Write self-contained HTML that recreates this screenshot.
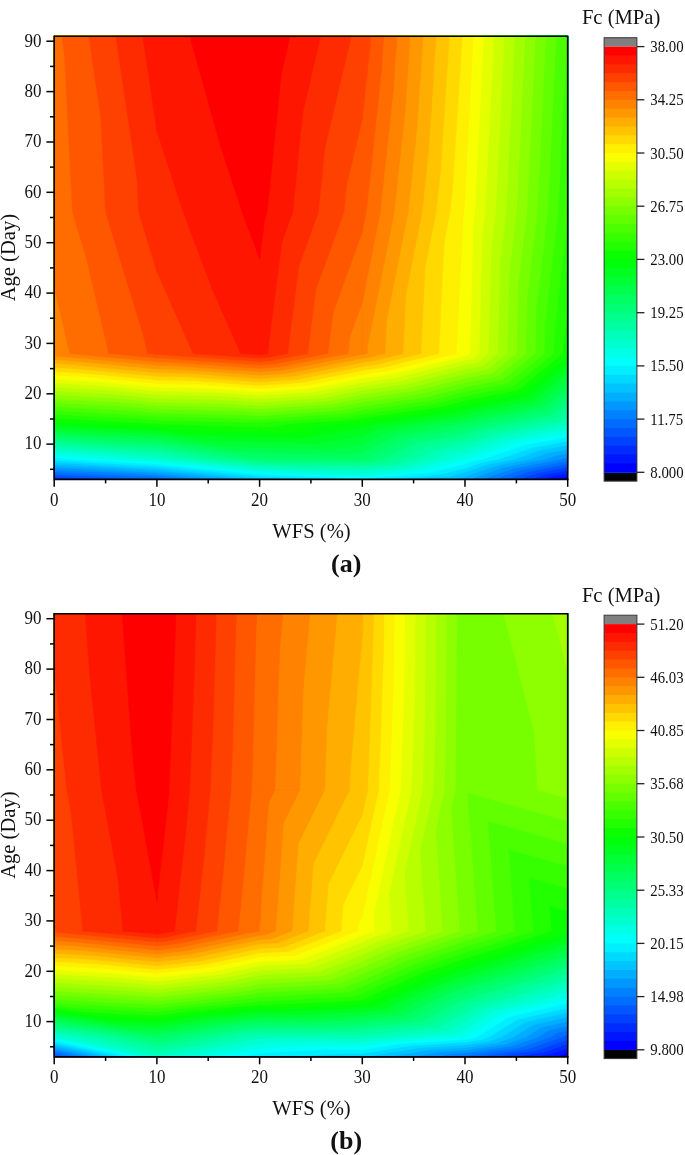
<!DOCTYPE html>
<html><head><meta charset="utf-8"><style>
html,body{margin:0;padding:0;background:#fff;}
svg{display:block;will-change:transform;}
text{font-family:"Liberation Serif",serif;fill:#111;}
.tk{font-size:17px;}
.cb{font-size:14.8px;}
.ti{font-size:20.6px;}
.cap{font-size:26px;font-weight:bold;}
</style></head><body>
<svg width="685" height="1155" viewBox="0 0 685 1155">
<rect width="685" height="1155" fill="#fff"/>
<rect x="54.2" y="36.2" width="513.5" height="443.2" fill="#0000ff"/>
<path fill="#0016ff" stroke="#0016ff" stroke-width="0.4" d="M54.2 479.4L156.9 479.4L54.2 459.3ZM156.9 479.4L156.9 459.3L54.2 459.3ZM156.9 479.4L259.6 479.4L156.9 459.3ZM259.6 479.4L259.6 459.3L156.9 459.3ZM259.6 479.4L362.3 479.4L259.6 459.3ZM362.3 479.4L362.3 459.3L259.6 459.3ZM362.3 479.4L465.0 479.4L362.3 459.3ZM465.0 479.4L465.0 459.3L362.3 459.3ZM465.0 479.4L555.4 479.4L559.9 477.9L465.0 459.3ZM567.7 476.3L567.7 459.3L465.0 459.3L559.9 477.9ZM54.2 459.3L156.9 459.3L54.2 424.0ZM156.9 459.3L156.9 424.0L54.2 424.0ZM156.9 459.3L259.6 459.3L156.9 424.0ZM259.6 459.3L259.6 424.0L156.9 424.0ZM259.6 459.3L362.3 459.3L259.6 424.0ZM362.3 459.3L362.3 424.0L259.6 424.0ZM362.3 459.3L465.0 459.3L362.3 424.0ZM465.0 459.3L465.0 424.0L362.3 424.0ZM465.0 459.3L567.7 459.3L465.0 424.0ZM567.7 459.3L567.7 424.0L465.0 424.0ZM54.2 424.0L156.9 424.0L54.2 353.5ZM156.9 424.0L156.9 353.5L54.2 353.5ZM156.9 424.0L259.6 424.0L156.9 353.5ZM259.6 424.0L259.6 353.5L156.9 353.5ZM259.6 424.0L362.3 424.0L259.6 353.5ZM362.3 424.0L362.3 353.5L259.6 353.5ZM362.3 424.0L465.0 424.0L362.3 353.5ZM465.0 424.0L465.0 353.5L362.3 353.5ZM465.0 424.0L567.7 424.0L465.0 353.5ZM567.7 424.0L567.7 353.5L465.0 353.5ZM54.2 353.5L156.9 353.5L54.2 212.5ZM156.9 353.5L156.9 212.5L54.2 212.5ZM156.9 353.5L259.6 353.5L156.9 212.5ZM259.6 353.5L259.6 212.5L156.9 212.5ZM259.6 353.5L362.3 353.5L259.6 212.5ZM362.3 353.5L362.3 212.5L259.6 212.5ZM362.3 353.5L465.0 353.5L465.0 212.5ZM362.3 353.5L465.0 212.5L362.3 212.5ZM465.0 353.5L567.7 353.5L465.0 212.5ZM567.7 353.5L567.7 212.5L465.0 212.5ZM54.2 212.5L156.9 212.5L54.2 36.2ZM156.9 212.5L156.9 36.2L54.2 36.2ZM156.9 212.5L259.6 212.5L156.9 36.2ZM259.6 212.5L259.6 36.2L156.9 36.2ZM259.6 212.5L362.3 212.5L259.6 36.2ZM362.3 212.5L362.3 36.2L259.6 36.2ZM362.3 212.5L465.0 212.5L362.3 36.2ZM465.0 212.5L465.0 36.2L362.3 36.2ZM465.0 212.5L567.7 212.5L465.0 36.2ZM567.7 212.5L567.7 36.2L465.0 36.2Z"/>
<path fill="#002bff" stroke="#002bff" stroke-width="0.4" d="M54.2 479.4L156.9 479.4L54.2 459.3ZM156.9 479.4L156.9 459.3L54.2 459.3ZM156.9 479.4L259.6 479.4L156.9 459.3ZM259.6 479.4L259.6 459.3L156.9 459.3ZM259.6 479.4L362.3 479.4L259.6 459.3ZM362.3 479.4L362.3 459.3L259.6 459.3ZM362.3 479.4L465.0 479.4L362.3 459.3ZM465.0 479.4L465.0 459.3L362.3 459.3ZM465.0 479.4L543.0 479.4L552.0 476.3L465.0 459.3ZM567.7 473.3L567.7 459.3L465.0 459.3L552.0 476.3ZM54.2 459.3L156.9 459.3L54.2 424.0ZM156.9 459.3L156.9 424.0L54.2 424.0ZM156.9 459.3L259.6 459.3L156.9 424.0ZM259.6 459.3L259.6 424.0L156.9 424.0ZM259.6 459.3L362.3 459.3L259.6 424.0ZM362.3 459.3L362.3 424.0L259.6 424.0ZM362.3 459.3L465.0 459.3L362.3 424.0ZM465.0 459.3L465.0 424.0L362.3 424.0ZM465.0 459.3L567.7 459.3L465.0 424.0ZM567.7 459.3L567.7 424.0L465.0 424.0ZM54.2 424.0L156.9 424.0L54.2 353.5ZM156.9 424.0L156.9 353.5L54.2 353.5ZM156.9 424.0L259.6 424.0L156.9 353.5ZM259.6 424.0L259.6 353.5L156.9 353.5ZM259.6 424.0L362.3 424.0L259.6 353.5ZM362.3 424.0L362.3 353.5L259.6 353.5ZM362.3 424.0L465.0 424.0L362.3 353.5ZM465.0 424.0L465.0 353.5L362.3 353.5ZM465.0 424.0L567.7 424.0L465.0 353.5ZM567.7 424.0L567.7 353.5L465.0 353.5ZM54.2 353.5L156.9 353.5L54.2 212.5ZM156.9 353.5L156.9 212.5L54.2 212.5ZM156.9 353.5L259.6 353.5L156.9 212.5ZM259.6 353.5L259.6 212.5L156.9 212.5ZM259.6 353.5L362.3 353.5L259.6 212.5ZM362.3 353.5L362.3 212.5L259.6 212.5ZM362.3 353.5L465.0 353.5L465.0 212.5ZM362.3 353.5L465.0 212.5L362.3 212.5ZM465.0 353.5L567.7 353.5L465.0 212.5ZM567.7 353.5L567.7 212.5L465.0 212.5ZM54.2 212.5L156.9 212.5L54.2 36.2ZM156.9 212.5L156.9 36.2L54.2 36.2ZM156.9 212.5L259.6 212.5L156.9 36.2ZM259.6 212.5L259.6 36.2L156.9 36.2ZM259.6 212.5L362.3 212.5L259.6 36.2ZM362.3 212.5L362.3 36.2L259.6 36.2ZM362.3 212.5L465.0 212.5L362.3 36.2ZM465.0 212.5L465.0 36.2L362.3 36.2ZM465.0 212.5L567.7 212.5L465.0 36.2ZM567.7 212.5L567.7 36.2L465.0 36.2Z"/>
<path fill="#0041ff" stroke="#0041ff" stroke-width="0.4" d="M60.1 479.4L156.9 479.4L54.2 459.3L54.2 479.1ZM156.9 479.4L156.9 459.3L54.2 459.3ZM156.9 479.4L259.6 479.4L156.9 459.3ZM259.6 479.4L259.6 459.3L156.9 459.3ZM259.6 479.4L362.3 479.4L259.6 459.3ZM362.3 479.4L362.3 459.3L259.6 459.3ZM362.3 479.4L465.0 479.4L362.3 459.3ZM465.0 479.4L465.0 459.3L362.3 459.3ZM465.0 479.4L530.7 479.4L544.2 474.8L465.0 459.3ZM567.7 470.2L567.7 459.3L465.0 459.3L544.2 474.8ZM54.2 459.3L156.9 459.3L54.2 424.0ZM156.9 459.3L156.9 424.0L54.2 424.0ZM156.9 459.3L259.6 459.3L156.9 424.0ZM259.6 459.3L259.6 424.0L156.9 424.0ZM259.6 459.3L362.3 459.3L259.6 424.0ZM362.3 459.3L362.3 424.0L259.6 424.0ZM362.3 459.3L465.0 459.3L362.3 424.0ZM465.0 459.3L465.0 424.0L362.3 424.0ZM465.0 459.3L567.7 459.3L465.0 424.0ZM567.7 459.3L567.7 424.0L465.0 424.0ZM54.2 424.0L156.9 424.0L54.2 353.5ZM156.9 424.0L156.9 353.5L54.2 353.5ZM156.9 424.0L259.6 424.0L156.9 353.5ZM259.6 424.0L259.6 353.5L156.9 353.5ZM259.6 424.0L362.3 424.0L259.6 353.5ZM362.3 424.0L362.3 353.5L259.6 353.5ZM362.3 424.0L465.0 424.0L362.3 353.5ZM465.0 424.0L465.0 353.5L362.3 353.5ZM465.0 424.0L567.7 424.0L465.0 353.5ZM567.7 424.0L567.7 353.5L465.0 353.5ZM54.2 353.5L156.9 353.5L54.2 212.5ZM156.9 353.5L156.9 212.5L54.2 212.5ZM156.9 353.5L259.6 353.5L156.9 212.5ZM259.6 353.5L259.6 212.5L156.9 212.5ZM259.6 353.5L362.3 353.5L259.6 212.5ZM362.3 353.5L362.3 212.5L259.6 212.5ZM362.3 353.5L465.0 353.5L465.0 212.5ZM362.3 353.5L465.0 212.5L362.3 212.5ZM465.0 353.5L567.7 353.5L465.0 212.5ZM567.7 353.5L567.7 212.5L465.0 212.5ZM54.2 212.5L156.9 212.5L54.2 36.2ZM156.9 212.5L156.9 36.2L54.2 36.2ZM156.9 212.5L259.6 212.5L156.9 36.2ZM259.6 212.5L259.6 36.2L156.9 36.2ZM259.6 212.5L362.3 212.5L259.6 36.2ZM362.3 212.5L362.3 36.2L259.6 36.2ZM362.3 212.5L465.0 212.5L362.3 36.2ZM465.0 212.5L465.0 36.2L362.3 36.2ZM465.0 212.5L567.7 212.5L465.0 36.2ZM567.7 212.5L567.7 36.2L465.0 36.2Z"/>
<path fill="#0057ff" stroke="#0057ff" stroke-width="0.4" d="M109.5 479.4L156.9 479.4L54.2 459.3L54.2 476.8ZM156.9 479.4L156.9 459.3L54.2 459.3ZM156.9 479.4L259.6 479.4L156.9 459.3ZM259.6 479.4L259.6 459.3L156.9 459.3ZM259.6 479.4L362.3 479.4L259.6 459.3ZM362.3 479.4L362.3 459.3L259.6 459.3ZM362.3 479.4L465.0 479.4L362.3 459.3ZM465.0 479.4L465.0 459.3L362.3 459.3ZM465.0 479.4L518.3 479.4L536.4 473.3L465.0 459.3ZM567.7 467.1L567.7 459.3L465.0 459.3L536.4 473.3ZM54.2 459.3L156.9 459.3L54.2 424.0ZM156.9 459.3L156.9 424.0L54.2 424.0ZM156.9 459.3L259.6 459.3L156.9 424.0ZM259.6 459.3L259.6 424.0L156.9 424.0ZM259.6 459.3L362.3 459.3L259.6 424.0ZM362.3 459.3L362.3 424.0L259.6 424.0ZM362.3 459.3L465.0 459.3L362.3 424.0ZM465.0 459.3L465.0 424.0L362.3 424.0ZM465.0 459.3L567.7 459.3L465.0 424.0ZM567.7 459.3L567.7 424.0L465.0 424.0ZM54.2 424.0L156.9 424.0L54.2 353.5ZM156.9 424.0L156.9 353.5L54.2 353.5ZM156.9 424.0L259.6 424.0L156.9 353.5ZM259.6 424.0L259.6 353.5L156.9 353.5ZM259.6 424.0L362.3 424.0L259.6 353.5ZM362.3 424.0L362.3 353.5L259.6 353.5ZM362.3 424.0L465.0 424.0L362.3 353.5ZM465.0 424.0L465.0 353.5L362.3 353.5ZM465.0 424.0L567.7 424.0L465.0 353.5ZM567.7 424.0L567.7 353.5L465.0 353.5ZM54.2 353.5L156.9 353.5L54.2 212.5ZM156.9 353.5L156.9 212.5L54.2 212.5ZM156.9 353.5L259.6 353.5L156.9 212.5ZM259.6 353.5L259.6 212.5L156.9 212.5ZM259.6 353.5L362.3 353.5L259.6 212.5ZM362.3 353.5L362.3 212.5L259.6 212.5ZM362.3 353.5L465.0 353.5L465.0 212.5ZM362.3 353.5L465.0 212.5L362.3 212.5ZM465.0 353.5L567.7 353.5L465.0 212.5ZM567.7 353.5L567.7 212.5L465.0 212.5ZM54.2 212.5L156.9 212.5L54.2 36.2ZM156.9 212.5L156.9 36.2L54.2 36.2ZM156.9 212.5L259.6 212.5L156.9 36.2ZM259.6 212.5L259.6 36.2L156.9 36.2ZM259.6 212.5L362.3 212.5L259.6 36.2ZM362.3 212.5L362.3 36.2L259.6 36.2ZM362.3 212.5L465.0 212.5L362.3 36.2ZM465.0 212.5L465.0 36.2L362.3 36.2ZM465.0 212.5L567.7 212.5L465.0 36.2ZM567.7 212.5L567.7 36.2L465.0 36.2Z"/>
<path fill="#006dff" stroke="#006dff" stroke-width="0.4" d="M156.3 479.3L54.2 459.3L54.2 474.5ZM156.9 479.3L156.9 459.3L54.2 459.3L156.3 479.3ZM157.8 479.4L259.6 479.4L156.9 459.3L156.9 479.3ZM259.6 479.4L259.6 459.3L156.9 459.3ZM259.6 479.4L362.3 479.4L259.6 459.3ZM362.3 479.4L362.3 459.3L259.6 459.3ZM362.3 479.4L465.0 479.4L362.3 459.3ZM465.0 479.4L465.0 459.3L362.3 459.3ZM465.0 479.4L506.0 479.4L528.6 471.7L465.0 459.3ZM567.7 464.0L567.7 459.3L465.0 459.3L528.6 471.7ZM54.2 459.3L156.9 459.3L54.2 424.0ZM156.9 459.3L156.9 424.0L54.2 424.0ZM156.9 459.3L259.6 459.3L156.9 424.0ZM259.6 459.3L259.6 424.0L156.9 424.0ZM259.6 459.3L362.3 459.3L259.6 424.0ZM362.3 459.3L362.3 424.0L259.6 424.0ZM362.3 459.3L465.0 459.3L362.3 424.0ZM465.0 459.3L465.0 424.0L362.3 424.0ZM465.0 459.3L567.7 459.3L465.0 424.0ZM567.7 459.3L567.7 424.0L465.0 424.0ZM54.2 424.0L156.9 424.0L54.2 353.5ZM156.9 424.0L156.9 353.5L54.2 353.5ZM156.9 424.0L259.6 424.0L156.9 353.5ZM259.6 424.0L259.6 353.5L156.9 353.5ZM259.6 424.0L362.3 424.0L259.6 353.5ZM362.3 424.0L362.3 353.5L259.6 353.5ZM362.3 424.0L465.0 424.0L362.3 353.5ZM465.0 424.0L465.0 353.5L362.3 353.5ZM465.0 424.0L567.7 424.0L465.0 353.5ZM567.7 424.0L567.7 353.5L465.0 353.5ZM54.2 353.5L156.9 353.5L54.2 212.5ZM156.9 353.5L156.9 212.5L54.2 212.5ZM156.9 353.5L259.6 353.5L156.9 212.5ZM259.6 353.5L259.6 212.5L156.9 212.5ZM259.6 353.5L362.3 353.5L259.6 212.5ZM362.3 353.5L362.3 212.5L259.6 212.5ZM362.3 353.5L465.0 353.5L465.0 212.5ZM362.3 353.5L465.0 212.5L362.3 212.5ZM465.0 353.5L567.7 353.5L465.0 212.5ZM567.7 353.5L567.7 212.5L465.0 212.5ZM54.2 212.5L156.9 212.5L54.2 36.2ZM156.9 212.5L156.9 36.2L54.2 36.2ZM156.9 212.5L259.6 212.5L156.9 36.2ZM259.6 212.5L259.6 36.2L156.9 36.2ZM259.6 212.5L362.3 212.5L259.6 36.2ZM362.3 212.5L362.3 36.2L259.6 36.2ZM362.3 212.5L465.0 212.5L362.3 36.2ZM465.0 212.5L465.0 36.2L362.3 36.2ZM465.0 212.5L567.7 212.5L465.0 36.2ZM567.7 212.5L567.7 36.2L465.0 36.2Z"/>
<path fill="#0082ff" stroke="#0082ff" stroke-width="0.4" d="M140.6 476.2L54.2 459.3L54.2 472.1ZM156.9 477.1L156.9 459.3L54.2 459.3L140.6 476.2ZM179.9 479.4L259.6 479.4L156.9 459.3L156.9 477.1ZM259.6 479.4L259.6 459.3L156.9 459.3ZM259.6 479.4L362.3 479.4L259.6 459.3ZM362.3 479.4L362.3 459.3L259.6 459.3ZM362.3 479.4L465.0 479.4L362.3 459.3ZM465.0 479.4L465.0 459.3L362.3 459.3ZM465.0 479.4L493.6 479.4L520.7 470.2L465.0 459.3ZM567.7 461.0L567.7 459.3L465.0 459.3L520.7 470.2ZM54.2 459.3L156.9 459.3L54.2 424.0ZM156.9 459.3L156.9 424.0L54.2 424.0ZM156.9 459.3L259.6 459.3L156.9 424.0ZM259.6 459.3L259.6 424.0L156.9 424.0ZM259.6 459.3L362.3 459.3L259.6 424.0ZM362.3 459.3L362.3 424.0L259.6 424.0ZM362.3 459.3L465.0 459.3L362.3 424.0ZM465.0 459.3L465.0 424.0L362.3 424.0ZM465.0 459.3L567.7 459.3L465.0 424.0ZM567.7 459.3L567.7 424.0L465.0 424.0ZM54.2 424.0L156.9 424.0L54.2 353.5ZM156.9 424.0L156.9 353.5L54.2 353.5ZM156.9 424.0L259.6 424.0L156.9 353.5ZM259.6 424.0L259.6 353.5L156.9 353.5ZM259.6 424.0L362.3 424.0L259.6 353.5ZM362.3 424.0L362.3 353.5L259.6 353.5ZM362.3 424.0L465.0 424.0L362.3 353.5ZM465.0 424.0L465.0 353.5L362.3 353.5ZM465.0 424.0L567.7 424.0L465.0 353.5ZM567.7 424.0L567.7 353.5L465.0 353.5ZM54.2 353.5L156.9 353.5L54.2 212.5ZM156.9 353.5L156.9 212.5L54.2 212.5ZM156.9 353.5L259.6 353.5L156.9 212.5ZM259.6 353.5L259.6 212.5L156.9 212.5ZM259.6 353.5L362.3 353.5L259.6 212.5ZM362.3 353.5L362.3 212.5L259.6 212.5ZM362.3 353.5L465.0 353.5L465.0 212.5ZM362.3 353.5L465.0 212.5L362.3 212.5ZM465.0 353.5L567.7 353.5L465.0 212.5ZM567.7 353.5L567.7 212.5L465.0 212.5ZM54.2 212.5L156.9 212.5L54.2 36.2ZM156.9 212.5L156.9 36.2L54.2 36.2ZM156.9 212.5L259.6 212.5L156.9 36.2ZM259.6 212.5L259.6 36.2L156.9 36.2ZM259.6 212.5L362.3 212.5L259.6 36.2ZM362.3 212.5L362.3 36.2L259.6 36.2ZM362.3 212.5L465.0 212.5L362.3 36.2ZM465.0 212.5L465.0 36.2L362.3 36.2ZM465.0 212.5L567.7 212.5L465.0 36.2ZM567.7 212.5L567.7 36.2L465.0 36.2Z"/>
<path fill="#0098ff" stroke="#0098ff" stroke-width="0.4" d="M125.0 473.1L54.2 459.3L54.2 469.8ZM156.9 475.0L156.9 459.3L54.2 459.3L125.0 473.1ZM202.1 479.4L259.6 479.4L156.9 459.3L156.9 475.0ZM259.6 479.4L259.6 459.3L156.9 459.3ZM259.6 479.4L362.3 479.4L259.6 459.3ZM362.3 479.4L362.3 459.3L259.6 459.3ZM362.3 479.4L465.0 479.4L362.3 459.3ZM465.0 479.4L465.0 459.3L362.3 459.3ZM465.0 479.4L481.3 479.4L512.9 468.7L465.0 459.3ZM560.8 459.3L465.0 459.3L512.9 468.7ZM54.2 459.3L156.9 459.3L54.2 424.0ZM156.9 459.3L156.9 424.0L54.2 424.0ZM156.9 459.3L259.6 459.3L156.9 424.0ZM259.6 459.3L259.6 424.0L156.9 424.0ZM259.6 459.3L362.3 459.3L259.6 424.0ZM362.3 459.3L362.3 424.0L259.6 424.0ZM362.3 459.3L465.0 459.3L362.3 424.0ZM465.0 459.3L465.0 424.0L362.3 424.0ZM465.0 459.3L560.8 459.3L564.3 458.1L465.0 424.0ZM567.7 457.5L567.7 424.0L465.0 424.0L564.3 458.1ZM54.2 424.0L156.9 424.0L54.2 353.5ZM156.9 424.0L156.9 353.5L54.2 353.5ZM156.9 424.0L259.6 424.0L156.9 353.5ZM259.6 424.0L259.6 353.5L156.9 353.5ZM259.6 424.0L362.3 424.0L259.6 353.5ZM362.3 424.0L362.3 353.5L259.6 353.5ZM362.3 424.0L465.0 424.0L362.3 353.5ZM465.0 424.0L465.0 353.5L362.3 353.5ZM465.0 424.0L567.7 424.0L465.0 353.5ZM567.7 424.0L567.7 353.5L465.0 353.5ZM54.2 353.5L156.9 353.5L54.2 212.5ZM156.9 353.5L156.9 212.5L54.2 212.5ZM156.9 353.5L259.6 353.5L156.9 212.5ZM259.6 353.5L259.6 212.5L156.9 212.5ZM259.6 353.5L362.3 353.5L259.6 212.5ZM362.3 353.5L362.3 212.5L259.6 212.5ZM362.3 353.5L465.0 353.5L465.0 212.5ZM362.3 353.5L465.0 212.5L362.3 212.5ZM465.0 353.5L567.7 353.5L465.0 212.5ZM567.7 353.5L567.7 212.5L465.0 212.5ZM54.2 212.5L156.9 212.5L54.2 36.2ZM156.9 212.5L156.9 36.2L54.2 36.2ZM156.9 212.5L259.6 212.5L156.9 36.2ZM259.6 212.5L259.6 36.2L156.9 36.2ZM259.6 212.5L362.3 212.5L259.6 36.2ZM362.3 212.5L362.3 36.2L259.6 36.2ZM362.3 212.5L465.0 212.5L362.3 36.2ZM465.0 212.5L465.0 36.2L362.3 36.2ZM465.0 212.5L567.7 212.5L465.0 36.2ZM567.7 212.5L567.7 36.2L465.0 36.2Z"/>
<path fill="#00aeff" stroke="#00aeff" stroke-width="0.4" d="M109.3 470.1L54.2 459.3L54.2 467.5ZM156.9 472.8L156.9 459.3L54.2 459.3L109.3 470.1ZM224.2 479.4L259.6 479.4L156.9 459.3L156.9 472.8ZM259.6 479.4L259.6 459.3L156.9 459.3ZM259.6 479.4L362.3 479.4L259.6 459.3ZM362.3 479.4L362.3 459.3L259.6 459.3ZM362.3 479.4L465.0 479.4L362.3 459.3ZM465.0 479.4L465.0 459.3L362.3 459.3ZM465.0 479.4L468.9 479.4L505.1 467.1L465.0 459.3ZM545.2 459.3L465.0 459.3L505.1 467.1ZM54.2 459.3L156.9 459.3L54.2 424.0ZM156.9 459.3L156.9 424.0L54.2 424.0ZM156.9 459.3L259.6 459.3L156.9 424.0ZM259.6 459.3L259.6 424.0L156.9 424.0ZM259.6 459.3L362.3 459.3L259.6 424.0ZM362.3 459.3L362.3 424.0L259.6 424.0ZM362.3 459.3L465.0 459.3L362.3 424.0ZM465.0 459.3L465.0 424.0L362.3 424.0ZM465.0 459.3L545.2 459.3L556.6 455.4L465.0 424.0ZM567.7 453.4L567.7 424.0L465.0 424.0L556.6 455.4ZM54.2 424.0L156.9 424.0L54.2 353.5ZM156.9 424.0L156.9 353.5L54.2 353.5ZM156.9 424.0L259.6 424.0L156.9 353.5ZM259.6 424.0L259.6 353.5L156.9 353.5ZM259.6 424.0L362.3 424.0L259.6 353.5ZM362.3 424.0L362.3 353.5L259.6 353.5ZM362.3 424.0L465.0 424.0L362.3 353.5ZM465.0 424.0L465.0 353.5L362.3 353.5ZM465.0 424.0L567.7 424.0L465.0 353.5ZM567.7 424.0L567.7 353.5L465.0 353.5ZM54.2 353.5L156.9 353.5L54.2 212.5ZM156.9 353.5L156.9 212.5L54.2 212.5ZM156.9 353.5L259.6 353.5L156.9 212.5ZM259.6 353.5L259.6 212.5L156.9 212.5ZM259.6 353.5L362.3 353.5L259.6 212.5ZM362.3 353.5L362.3 212.5L259.6 212.5ZM362.3 353.5L465.0 353.5L465.0 212.5ZM362.3 353.5L465.0 212.5L362.3 212.5ZM465.0 353.5L567.7 353.5L465.0 212.5ZM567.7 353.5L567.7 212.5L465.0 212.5ZM54.2 212.5L156.9 212.5L54.2 36.2ZM156.9 212.5L156.9 36.2L54.2 36.2ZM156.9 212.5L259.6 212.5L156.9 36.2ZM259.6 212.5L259.6 36.2L156.9 36.2ZM259.6 212.5L362.3 212.5L259.6 36.2ZM362.3 212.5L362.3 36.2L259.6 36.2ZM362.3 212.5L465.0 212.5L362.3 36.2ZM465.0 212.5L465.0 36.2L362.3 36.2ZM465.0 212.5L567.7 212.5L465.0 36.2ZM567.7 212.5L567.7 36.2L465.0 36.2Z"/>
<path fill="#00c3ff" stroke="#00c3ff" stroke-width="0.4" d="M93.7 467.0L54.2 459.3L54.2 465.1ZM156.9 470.6L156.9 459.3L54.2 459.3L93.7 467.0ZM246.3 479.4L259.6 479.4L156.9 459.3L156.9 470.6ZM259.6 479.4L259.6 459.3L156.9 459.3ZM259.6 479.4L362.3 479.4L259.6 459.3ZM362.3 479.4L362.3 459.3L259.6 459.3ZM362.3 479.4L444.2 479.4L458.6 478.1L362.3 459.3ZM465.0 476.5L465.0 459.3L362.3 459.3L458.6 478.1ZM497.3 465.6L465.0 459.3L465.0 476.5ZM529.5 459.3L465.0 459.3L497.3 465.6ZM54.2 459.3L156.9 459.3L54.2 424.0ZM156.9 459.3L156.9 424.0L54.2 424.0ZM156.9 459.3L259.6 459.3L156.9 424.0ZM259.6 459.3L259.6 424.0L156.9 424.0ZM259.6 459.3L362.3 459.3L259.6 424.0ZM362.3 459.3L362.3 424.0L259.6 424.0ZM362.3 459.3L465.0 459.3L362.3 424.0ZM465.0 459.3L465.0 424.0L362.3 424.0ZM465.0 459.3L529.5 459.3L548.8 452.8L465.0 424.0ZM567.7 449.3L567.7 424.0L465.0 424.0L548.8 452.8ZM54.2 424.0L156.9 424.0L54.2 353.5ZM156.9 424.0L156.9 353.5L54.2 353.5ZM156.9 424.0L259.6 424.0L156.9 353.5ZM259.6 424.0L259.6 353.5L156.9 353.5ZM259.6 424.0L362.3 424.0L259.6 353.5ZM362.3 424.0L362.3 353.5L259.6 353.5ZM362.3 424.0L465.0 424.0L362.3 353.5ZM465.0 424.0L465.0 353.5L362.3 353.5ZM465.0 424.0L567.7 424.0L465.0 353.5ZM567.7 424.0L567.7 353.5L465.0 353.5ZM54.2 353.5L156.9 353.5L54.2 212.5ZM156.9 353.5L156.9 212.5L54.2 212.5ZM156.9 353.5L259.6 353.5L156.9 212.5ZM259.6 353.5L259.6 212.5L156.9 212.5ZM259.6 353.5L362.3 353.5L259.6 212.5ZM362.3 353.5L362.3 212.5L259.6 212.5ZM362.3 353.5L465.0 353.5L465.0 212.5ZM362.3 353.5L465.0 212.5L362.3 212.5ZM465.0 353.5L567.7 353.5L465.0 212.5ZM567.7 353.5L567.7 212.5L465.0 212.5ZM54.2 212.5L156.9 212.5L54.2 36.2ZM156.9 212.5L156.9 36.2L54.2 36.2ZM156.9 212.5L259.6 212.5L156.9 36.2ZM259.6 212.5L259.6 36.2L156.9 36.2ZM259.6 212.5L362.3 212.5L259.6 36.2ZM362.3 212.5L362.3 36.2L259.6 36.2ZM362.3 212.5L465.0 212.5L362.3 36.2ZM465.0 212.5L465.0 36.2L362.3 36.2ZM465.0 212.5L567.7 212.5L465.0 36.2ZM567.7 212.5L567.7 36.2L465.0 36.2Z"/>
<path fill="#00d9ff" stroke="#00d9ff" stroke-width="0.4" d="M78.0 463.9L54.2 459.3L54.2 462.8ZM156.9 468.5L156.9 459.3L54.2 459.3L78.0 463.9ZM250.7 477.7L156.9 459.3L156.9 468.5ZM259.6 478.5L259.6 459.3L156.9 459.3L250.7 477.7ZM279.4 479.4L362.3 479.4L259.6 459.3L259.6 478.5ZM362.3 479.4L362.3 459.3L259.6 459.3ZM362.3 479.4L413.6 479.4L449.1 476.3L362.3 459.3ZM465.0 472.3L465.0 459.3L362.3 459.3L449.1 476.3ZM489.4 464.0L465.0 459.3L465.0 472.3ZM513.8 459.3L465.0 459.3L489.4 464.0ZM54.2 459.3L156.9 459.3L54.2 424.0ZM156.9 459.3L156.9 424.0L54.2 424.0ZM156.9 459.3L259.6 459.3L156.9 424.0ZM259.6 459.3L259.6 424.0L156.9 424.0ZM259.6 459.3L362.3 459.3L259.6 424.0ZM362.3 459.3L362.3 424.0L259.6 424.0ZM362.3 459.3L465.0 459.3L362.3 424.0ZM465.0 459.3L465.0 424.0L362.3 424.0ZM465.0 459.3L513.8 459.3L541.1 450.1L465.0 424.0ZM567.7 445.2L567.7 424.0L465.0 424.0L541.1 450.1ZM54.2 424.0L156.9 424.0L54.2 353.5ZM156.9 424.0L156.9 353.5L54.2 353.5ZM156.9 424.0L259.6 424.0L156.9 353.5ZM259.6 424.0L259.6 353.5L156.9 353.5ZM259.6 424.0L362.3 424.0L259.6 353.5ZM362.3 424.0L362.3 353.5L259.6 353.5ZM362.3 424.0L465.0 424.0L362.3 353.5ZM465.0 424.0L465.0 353.5L362.3 353.5ZM465.0 424.0L567.7 424.0L465.0 353.5ZM567.7 424.0L567.7 353.5L465.0 353.5ZM54.2 353.5L156.9 353.5L54.2 212.5ZM156.9 353.5L156.9 212.5L54.2 212.5ZM156.9 353.5L259.6 353.5L156.9 212.5ZM259.6 353.5L259.6 212.5L156.9 212.5ZM259.6 353.5L362.3 353.5L259.6 212.5ZM362.3 353.5L362.3 212.5L259.6 212.5ZM362.3 353.5L465.0 353.5L465.0 212.5ZM362.3 353.5L465.0 212.5L362.3 212.5ZM465.0 353.5L567.7 353.5L465.0 212.5ZM567.7 353.5L567.7 212.5L465.0 212.5ZM54.2 212.5L156.9 212.5L54.2 36.2ZM156.9 212.5L156.9 36.2L54.2 36.2ZM156.9 212.5L259.6 212.5L156.9 36.2ZM259.6 212.5L259.6 36.2L156.9 36.2ZM259.6 212.5L362.3 212.5L259.6 36.2ZM362.3 212.5L362.3 36.2L259.6 36.2ZM362.3 212.5L465.0 212.5L362.3 36.2ZM465.0 212.5L465.0 36.2L362.3 36.2ZM465.0 212.5L567.7 212.5L465.0 36.2ZM567.7 212.5L567.7 36.2L465.0 36.2Z"/>
<path fill="#00efff" stroke="#00efff" stroke-width="0.4" d="M62.3 460.9L54.2 459.3L54.2 460.5ZM156.9 466.3L156.9 459.3L54.2 459.3L62.3 460.9ZM228.6 473.3L156.9 459.3L156.9 466.3ZM259.6 476.3L259.6 459.3L156.9 459.3L228.6 473.3ZM328.7 479.4L362.3 479.4L259.6 459.3L259.6 476.3ZM362.3 479.4L362.3 459.3L259.6 459.3ZM362.3 479.4L383.1 479.4L439.7 474.4L362.3 459.3ZM465.0 468.2L465.0 459.3L362.3 459.3L439.7 474.4ZM481.6 462.5L465.0 459.3L465.0 468.2ZM498.2 459.3L465.0 459.3L481.6 462.5ZM54.2 459.3L156.9 459.3L54.2 424.0ZM156.9 459.3L156.9 424.0L54.2 424.0ZM156.9 459.3L259.6 459.3L156.9 424.0ZM259.6 459.3L259.6 424.0L156.9 424.0ZM259.6 459.3L362.3 459.3L259.6 424.0ZM362.3 459.3L362.3 424.0L259.6 424.0ZM362.3 459.3L465.0 459.3L362.3 424.0ZM465.0 459.3L465.0 424.0L362.3 424.0ZM465.0 459.3L498.2 459.3L533.4 447.5L465.0 424.0ZM567.7 441.1L567.7 424.0L465.0 424.0L533.4 447.5ZM54.2 424.0L156.9 424.0L54.2 353.5ZM156.9 424.0L156.9 353.5L54.2 353.5ZM156.9 424.0L259.6 424.0L156.9 353.5ZM259.6 424.0L259.6 353.5L156.9 353.5ZM259.6 424.0L362.3 424.0L259.6 353.5ZM362.3 424.0L362.3 353.5L259.6 353.5ZM362.3 424.0L465.0 424.0L362.3 353.5ZM465.0 424.0L465.0 353.5L362.3 353.5ZM465.0 424.0L567.7 424.0L465.0 353.5ZM567.7 424.0L567.7 353.5L465.0 353.5ZM54.2 353.5L156.9 353.5L54.2 212.5ZM156.9 353.5L156.9 212.5L54.2 212.5ZM156.9 353.5L259.6 353.5L156.9 212.5ZM259.6 353.5L259.6 212.5L156.9 212.5ZM259.6 353.5L362.3 353.5L259.6 212.5ZM362.3 353.5L362.3 212.5L259.6 212.5ZM362.3 353.5L465.0 353.5L465.0 212.5ZM362.3 353.5L465.0 212.5L362.3 212.5ZM465.0 353.5L567.7 353.5L465.0 212.5ZM567.7 353.5L567.7 212.5L465.0 212.5ZM54.2 212.5L156.9 212.5L54.2 36.2ZM156.9 212.5L156.9 36.2L54.2 36.2ZM156.9 212.5L259.6 212.5L156.9 36.2ZM259.6 212.5L259.6 36.2L156.9 36.2ZM259.6 212.5L362.3 212.5L259.6 36.2ZM362.3 212.5L362.3 36.2L259.6 36.2ZM362.3 212.5L465.0 212.5L362.3 36.2ZM465.0 212.5L465.0 36.2L362.3 36.2ZM465.0 212.5L567.7 212.5L465.0 36.2ZM567.7 212.5L567.7 36.2L465.0 36.2Z"/>
<path fill="#00fffa" stroke="#00fffa" stroke-width="0.4" d="M156.9 464.1L156.9 459.3L72.3 459.3ZM206.5 469.0L156.9 459.3L156.9 464.1ZM259.6 474.1L259.6 459.3L156.9 459.3L206.5 469.0ZM357.6 478.5L259.6 459.3L259.6 474.1ZM362.3 478.5L362.3 459.3L259.6 459.3L357.6 478.5ZM430.3 472.6L362.3 459.3L362.3 478.5ZM465.0 464.0L465.0 459.3L362.3 459.3L430.3 472.6ZM473.8 461.0L465.0 459.3L465.0 464.0ZM482.5 459.3L465.0 459.3L473.8 461.0ZM72.3 459.3L156.9 459.3L54.2 424.0L54.2 457.8ZM156.9 459.3L156.9 424.0L54.2 424.0ZM156.9 459.3L259.6 459.3L156.9 424.0ZM259.6 459.3L259.6 424.0L156.9 424.0ZM259.6 459.3L362.3 459.3L259.6 424.0ZM362.3 459.3L362.3 424.0L259.6 424.0ZM362.3 459.3L465.0 459.3L362.3 424.0ZM465.0 459.3L465.0 424.0L362.3 424.0ZM465.0 459.3L482.5 459.3L525.6 444.8L465.0 424.0ZM567.7 437.1L567.7 424.0L465.0 424.0L525.6 444.8ZM54.2 424.0L156.9 424.0L54.2 353.5ZM156.9 424.0L156.9 353.5L54.2 353.5ZM156.9 424.0L259.6 424.0L156.9 353.5ZM259.6 424.0L259.6 353.5L156.9 353.5ZM259.6 424.0L362.3 424.0L259.6 353.5ZM362.3 424.0L362.3 353.5L259.6 353.5ZM362.3 424.0L465.0 424.0L362.3 353.5ZM465.0 424.0L465.0 353.5L362.3 353.5ZM465.0 424.0L567.7 424.0L465.0 353.5ZM567.7 424.0L567.7 353.5L465.0 353.5ZM54.2 353.5L156.9 353.5L54.2 212.5ZM156.9 353.5L156.9 212.5L54.2 212.5ZM156.9 353.5L259.6 353.5L156.9 212.5ZM259.6 353.5L259.6 212.5L156.9 212.5ZM259.6 353.5L362.3 353.5L259.6 212.5ZM362.3 353.5L362.3 212.5L259.6 212.5ZM362.3 353.5L465.0 353.5L465.0 212.5ZM362.3 353.5L465.0 212.5L362.3 212.5ZM465.0 353.5L567.7 353.5L465.0 212.5ZM567.7 353.5L567.7 212.5L465.0 212.5ZM54.2 212.5L156.9 212.5L54.2 36.2ZM156.9 212.5L156.9 36.2L54.2 36.2ZM156.9 212.5L259.6 212.5L156.9 36.2ZM259.6 212.5L259.6 36.2L156.9 36.2ZM259.6 212.5L362.3 212.5L259.6 36.2ZM362.3 212.5L362.3 36.2L259.6 36.2ZM362.3 212.5L465.0 212.5L362.3 36.2ZM465.0 212.5L465.0 36.2L362.3 36.2ZM465.0 212.5L567.7 212.5L465.0 36.2ZM567.7 212.5L567.7 36.2L465.0 36.2Z"/>
<path fill="#00ffe4" stroke="#00ffe4" stroke-width="0.4" d="M156.9 461.9L156.9 459.3L110.1 459.3ZM184.3 464.6L156.9 459.3L156.9 461.9ZM259.6 471.9L259.6 459.3L156.9 459.3L184.3 464.6ZM343.0 475.6L259.6 459.3L259.6 471.9ZM362.3 475.9L362.3 459.3L259.6 459.3L343.0 475.6ZM420.8 470.7L362.3 459.3L362.3 475.9ZM465.0 459.8L465.0 459.3L362.3 459.3L420.8 470.7ZM465.9 459.4L465.0 459.3L465.0 459.8ZM466.9 459.3L465.0 459.3L465.9 459.4ZM110.1 459.3L156.9 459.3L54.2 424.0L54.2 454.9ZM156.9 459.3L156.9 424.0L54.2 424.0ZM156.9 459.3L259.6 459.3L156.9 424.0ZM259.6 459.3L259.6 424.0L156.9 424.0ZM259.6 459.3L362.3 459.3L259.6 424.0ZM362.3 459.3L362.3 424.0L259.6 424.0ZM362.3 459.3L465.0 459.3L362.3 424.0ZM465.0 459.3L465.0 424.0L362.3 424.0ZM465.0 459.3L466.9 459.3L517.9 442.2L465.0 424.0ZM567.7 433.0L567.7 424.0L465.0 424.0L517.9 442.2ZM54.2 424.0L156.9 424.0L54.2 353.5ZM156.9 424.0L156.9 353.5L54.2 353.5ZM156.9 424.0L259.6 424.0L156.9 353.5ZM259.6 424.0L259.6 353.5L156.9 353.5ZM259.6 424.0L362.3 424.0L259.6 353.5ZM362.3 424.0L362.3 353.5L259.6 353.5ZM362.3 424.0L465.0 424.0L362.3 353.5ZM465.0 424.0L465.0 353.5L362.3 353.5ZM465.0 424.0L567.7 424.0L465.0 353.5ZM567.7 424.0L567.7 353.5L465.0 353.5ZM54.2 353.5L156.9 353.5L54.2 212.5ZM156.9 353.5L156.9 212.5L54.2 212.5ZM156.9 353.5L259.6 353.5L156.9 212.5ZM259.6 353.5L259.6 212.5L156.9 212.5ZM259.6 353.5L362.3 353.5L259.6 212.5ZM362.3 353.5L362.3 212.5L259.6 212.5ZM362.3 353.5L465.0 353.5L465.0 212.5ZM362.3 353.5L465.0 212.5L362.3 212.5ZM465.0 353.5L567.7 353.5L465.0 212.5ZM567.7 353.5L567.7 212.5L465.0 212.5ZM54.2 212.5L156.9 212.5L54.2 36.2ZM156.9 212.5L156.9 36.2L54.2 36.2ZM156.9 212.5L259.6 212.5L156.9 36.2ZM259.6 212.5L259.6 36.2L156.9 36.2ZM259.6 212.5L362.3 212.5L259.6 36.2ZM362.3 212.5L362.3 36.2L259.6 36.2ZM362.3 212.5L465.0 212.5L362.3 36.2ZM465.0 212.5L465.0 36.2L362.3 36.2ZM465.0 212.5L567.7 212.5L465.0 36.2ZM567.7 212.5L567.7 36.2L465.0 36.2Z"/>
<path fill="#00ffce" stroke="#00ffce" stroke-width="0.4" d="M156.9 459.8L156.9 459.3L147.8 459.3ZM162.2 460.3L156.9 459.3L156.9 459.8ZM259.6 469.7L259.6 459.3L156.9 459.3L162.2 460.3ZM328.5 472.8L259.6 459.3L259.6 469.7ZM362.3 473.2L362.3 459.3L259.6 459.3L328.5 472.8ZM411.4 468.9L362.3 459.3L362.3 473.2ZM450.1 459.3L362.3 459.3L411.4 468.9ZM147.8 459.3L156.9 459.3L54.2 424.0L54.2 452.0ZM156.9 459.3L156.9 424.0L54.2 424.0ZM156.9 459.3L259.6 459.3L156.9 424.0ZM259.6 459.3L259.6 424.0L156.9 424.0ZM259.6 459.3L362.3 459.3L259.6 424.0ZM362.3 459.3L362.3 424.0L259.6 424.0ZM362.3 459.3L450.1 459.3L456.3 456.3L362.3 424.0ZM465.0 454.6L465.0 424.0L362.3 424.0L456.3 456.3ZM510.2 439.5L465.0 424.0L465.0 454.6ZM567.7 428.9L567.7 424.0L465.0 424.0L510.2 439.5ZM54.2 424.0L156.9 424.0L54.2 353.5ZM156.9 424.0L156.9 353.5L54.2 353.5ZM156.9 424.0L259.6 424.0L156.9 353.5ZM259.6 424.0L259.6 353.5L156.9 353.5ZM259.6 424.0L362.3 424.0L259.6 353.5ZM362.3 424.0L362.3 353.5L259.6 353.5ZM362.3 424.0L465.0 424.0L362.3 353.5ZM465.0 424.0L465.0 353.5L362.3 353.5ZM465.0 424.0L567.7 424.0L465.0 353.5ZM567.7 424.0L567.7 353.5L465.0 353.5ZM54.2 353.5L156.9 353.5L54.2 212.5ZM156.9 353.5L156.9 212.5L54.2 212.5ZM156.9 353.5L259.6 353.5L156.9 212.5ZM259.6 353.5L259.6 212.5L156.9 212.5ZM259.6 353.5L362.3 353.5L259.6 212.5ZM362.3 353.5L362.3 212.5L259.6 212.5ZM362.3 353.5L465.0 353.5L465.0 212.5ZM362.3 353.5L465.0 212.5L362.3 212.5ZM465.0 353.5L567.7 353.5L465.0 212.5ZM567.7 353.5L567.7 212.5L465.0 212.5ZM54.2 212.5L156.9 212.5L54.2 36.2ZM156.9 212.5L156.9 36.2L54.2 36.2ZM156.9 212.5L259.6 212.5L156.9 36.2ZM259.6 212.5L259.6 36.2L156.9 36.2ZM259.6 212.5L362.3 212.5L259.6 36.2ZM362.3 212.5L362.3 36.2L259.6 36.2ZM362.3 212.5L465.0 212.5L362.3 36.2ZM465.0 212.5L465.0 36.2L362.3 36.2ZM465.0 212.5L567.7 212.5L465.0 36.2ZM567.7 212.5L567.7 36.2L465.0 36.2Z"/>
<path fill="#00ffb8" stroke="#00ffb8" stroke-width="0.4" d="M259.6 467.5L259.6 459.3L174.3 459.3ZM313.9 469.9L259.6 459.3L259.6 467.5ZM362.3 470.5L362.3 459.3L259.6 459.3L313.9 469.9ZM401.9 467.0L362.3 459.3L362.3 470.5ZM433.2 459.3L362.3 459.3L401.9 467.0ZM148.5 456.4L54.2 424.0L54.2 449.0ZM156.9 456.8L156.9 424.0L54.2 424.0L148.5 456.4ZM174.3 459.3L259.6 459.3L156.9 424.0L156.9 456.8ZM259.6 459.3L259.6 424.0L156.9 424.0ZM259.6 459.3L362.3 459.3L259.6 424.0ZM362.3 459.3L362.3 424.0L259.6 424.0ZM362.3 459.3L433.2 459.3L446.4 452.9L362.3 424.0ZM465.0 449.4L465.0 424.0L362.3 424.0L446.4 452.9ZM502.4 436.8L465.0 424.0L465.0 449.4ZM567.7 424.8L567.7 424.0L465.0 424.0L502.4 436.8ZM54.2 424.0L156.9 424.0L54.2 353.5ZM156.9 424.0L156.9 353.5L54.2 353.5ZM156.9 424.0L259.6 424.0L156.9 353.5ZM259.6 424.0L259.6 353.5L156.9 353.5ZM259.6 424.0L362.3 424.0L259.6 353.5ZM362.3 424.0L362.3 353.5L259.6 353.5ZM362.3 424.0L465.0 424.0L362.3 353.5ZM465.0 424.0L465.0 353.5L362.3 353.5ZM465.0 424.0L567.7 424.0L465.0 353.5ZM567.7 424.0L567.7 353.5L465.0 353.5ZM54.2 353.5L156.9 353.5L54.2 212.5ZM156.9 353.5L156.9 212.5L54.2 212.5ZM156.9 353.5L259.6 353.5L156.9 212.5ZM259.6 353.5L259.6 212.5L156.9 212.5ZM259.6 353.5L362.3 353.5L259.6 212.5ZM362.3 353.5L362.3 212.5L259.6 212.5ZM362.3 353.5L465.0 353.5L465.0 212.5ZM362.3 353.5L465.0 212.5L362.3 212.5ZM465.0 353.5L567.7 353.5L465.0 212.5ZM567.7 353.5L567.7 212.5L465.0 212.5ZM54.2 212.5L156.9 212.5L54.2 36.2ZM156.9 212.5L156.9 36.2L54.2 36.2ZM156.9 212.5L259.6 212.5L156.9 36.2ZM259.6 212.5L259.6 36.2L156.9 36.2ZM259.6 212.5L362.3 212.5L259.6 36.2ZM362.3 212.5L362.3 36.2L259.6 36.2ZM362.3 212.5L465.0 212.5L362.3 36.2ZM465.0 212.5L465.0 36.2L362.3 36.2ZM465.0 212.5L567.7 212.5L465.0 36.2ZM567.7 212.5L567.7 36.2L465.0 36.2Z"/>
<path fill="#00ffa3" stroke="#00ffa3" stroke-width="0.4" d="M259.6 465.3L259.6 459.3L197.2 459.3ZM299.3 467.0L259.6 459.3L259.6 465.3ZM362.3 467.8L362.3 459.3L259.6 459.3L299.3 467.0ZM392.5 465.2L362.3 459.3L362.3 467.8ZM416.4 459.3L362.3 459.3L392.5 465.2ZM137.4 452.6L54.2 424.0L54.2 446.1ZM156.9 453.5L156.9 424.0L54.2 424.0L137.4 452.6ZM197.2 459.3L259.6 459.3L156.9 424.0L156.9 453.5ZM259.6 459.3L259.6 424.0L156.9 424.0ZM259.6 459.3L362.3 459.3L259.6 424.0ZM362.3 459.3L362.3 424.0L259.6 424.0ZM362.3 459.3L416.4 459.3L436.6 449.5L362.3 424.0ZM465.0 444.1L465.0 424.0L362.3 424.0L436.6 449.5ZM494.7 434.2L465.0 424.0L465.0 444.1ZM550.0 424.0L465.0 424.0L494.7 434.2ZM54.2 424.0L156.9 424.0L54.2 353.5ZM156.9 424.0L156.9 353.5L54.2 353.5ZM156.9 424.0L259.6 424.0L156.9 353.5ZM259.6 424.0L259.6 353.5L156.9 353.5ZM259.6 424.0L362.3 424.0L259.6 353.5ZM362.3 424.0L362.3 353.5L259.6 353.5ZM362.3 424.0L465.0 424.0L362.3 353.5ZM465.0 424.0L465.0 353.5L362.3 353.5ZM465.0 424.0L550.0 424.0L563.7 421.2L465.0 353.5ZM567.7 417.9L567.7 353.5L465.0 353.5L563.7 421.2ZM54.2 353.5L156.9 353.5L54.2 212.5ZM156.9 353.5L156.9 212.5L54.2 212.5ZM156.9 353.5L259.6 353.5L156.9 212.5ZM259.6 353.5L259.6 212.5L156.9 212.5ZM259.6 353.5L362.3 353.5L259.6 212.5ZM362.3 353.5L362.3 212.5L259.6 212.5ZM362.3 353.5L465.0 353.5L465.0 212.5ZM362.3 353.5L465.0 212.5L362.3 212.5ZM465.0 353.5L567.7 353.5L465.0 212.5ZM567.7 353.5L567.7 212.5L465.0 212.5ZM54.2 212.5L156.9 212.5L54.2 36.2ZM156.9 212.5L156.9 36.2L54.2 36.2ZM156.9 212.5L259.6 212.5L156.9 36.2ZM259.6 212.5L259.6 36.2L156.9 36.2ZM259.6 212.5L362.3 212.5L259.6 36.2ZM362.3 212.5L362.3 36.2L259.6 36.2ZM362.3 212.5L465.0 212.5L362.3 36.2ZM465.0 212.5L465.0 36.2L362.3 36.2ZM465.0 212.5L567.7 212.5L465.0 36.2ZM567.7 212.5L567.7 36.2L465.0 36.2Z"/>
<path fill="#00ff8d" stroke="#00ff8d" stroke-width="0.4" d="M259.6 463.1L259.6 459.3L220.2 459.3ZM284.7 464.2L259.6 459.3L259.6 463.1ZM362.3 465.1L362.3 459.3L259.6 459.3L284.7 464.2ZM383.1 463.3L362.3 459.3L362.3 465.1ZM399.5 459.3L362.3 459.3L383.1 463.3ZM126.4 448.8L54.2 424.0L54.2 443.2ZM156.9 450.2L156.9 424.0L54.2 424.0L126.4 448.8ZM220.2 459.3L259.6 459.3L156.9 424.0L156.9 450.2ZM259.6 459.3L259.6 424.0L156.9 424.0ZM259.6 459.3L362.3 459.3L259.6 424.0ZM362.3 459.3L362.3 424.0L259.6 424.0ZM362.3 459.3L399.5 459.3L426.7 446.1L362.3 424.0ZM465.0 438.9L465.0 424.0L362.3 424.0L426.7 446.1ZM487.0 431.5L465.0 424.0L465.0 438.9ZM527.9 424.0L465.0 424.0L487.0 431.5ZM54.2 424.0L156.9 424.0L54.2 353.5ZM156.9 424.0L156.9 353.5L54.2 353.5ZM156.9 424.0L259.6 424.0L156.9 353.5ZM259.6 424.0L259.6 353.5L156.9 353.5ZM259.6 424.0L362.3 424.0L259.6 353.5ZM362.3 424.0L362.3 353.5L259.6 353.5ZM362.3 424.0L465.0 424.0L362.3 353.5ZM465.0 424.0L465.0 353.5L362.3 353.5ZM465.0 424.0L527.9 424.0L558.6 417.8L465.0 353.5ZM567.7 410.3L567.7 353.5L465.0 353.5L558.6 417.8ZM54.2 353.5L156.9 353.5L54.2 212.5ZM156.9 353.5L156.9 212.5L54.2 212.5ZM156.9 353.5L259.6 353.5L156.9 212.5ZM259.6 353.5L259.6 212.5L156.9 212.5ZM259.6 353.5L362.3 353.5L259.6 212.5ZM362.3 353.5L362.3 212.5L259.6 212.5ZM362.3 353.5L465.0 353.5L465.0 212.5ZM362.3 353.5L465.0 212.5L362.3 212.5ZM465.0 353.5L567.7 353.5L465.0 212.5ZM567.7 353.5L567.7 212.5L465.0 212.5ZM54.2 212.5L156.9 212.5L54.2 36.2ZM156.9 212.5L156.9 36.2L54.2 36.2ZM156.9 212.5L259.6 212.5L156.9 36.2ZM259.6 212.5L259.6 36.2L156.9 36.2ZM259.6 212.5L362.3 212.5L259.6 36.2ZM362.3 212.5L362.3 36.2L259.6 36.2ZM362.3 212.5L465.0 212.5L362.3 36.2ZM465.0 212.5L465.0 36.2L362.3 36.2ZM465.0 212.5L567.7 212.5L465.0 36.2ZM567.7 212.5L567.7 36.2L465.0 36.2Z"/>
<path fill="#00ff77" stroke="#00ff77" stroke-width="0.4" d="M259.6 460.8L259.6 459.3L243.1 459.3ZM270.1 461.3L259.6 459.3L259.6 460.8ZM362.3 462.5L362.3 459.3L259.6 459.3L270.1 461.3ZM373.6 461.5L362.3 459.3L362.3 462.5ZM382.6 459.3L362.3 459.3L373.6 461.5ZM115.3 445.0L54.2 424.0L54.2 440.2ZM156.9 446.9L156.9 424.0L54.2 424.0L115.3 445.0ZM243.1 459.3L259.6 459.3L156.9 424.0L156.9 446.9ZM259.6 459.3L259.6 424.0L156.9 424.0ZM259.6 459.3L362.3 459.3L259.6 424.0ZM362.3 459.3L362.3 424.0L259.6 424.0ZM362.3 459.3L382.6 459.3L416.8 442.7L362.3 424.0ZM465.0 433.7L465.0 424.0L362.3 424.0L416.8 442.7ZM479.2 428.9L465.0 424.0L465.0 433.7ZM505.7 424.0L465.0 424.0L479.2 428.9ZM54.2 424.0L156.9 424.0L54.2 353.5ZM156.9 424.0L156.9 353.5L54.2 353.5ZM156.9 424.0L259.6 424.0L156.9 353.5ZM259.6 424.0L259.6 353.5L156.9 353.5ZM259.6 424.0L362.3 424.0L259.6 353.5ZM362.3 424.0L362.3 353.5L259.6 353.5ZM362.3 424.0L465.0 424.0L362.3 353.5ZM465.0 424.0L465.0 353.5L362.3 353.5ZM465.0 424.0L505.7 424.0L553.5 414.3L465.0 353.5ZM567.7 402.7L567.7 353.5L465.0 353.5L553.5 414.3ZM54.2 353.5L156.9 353.5L54.2 212.5ZM156.9 353.5L156.9 212.5L54.2 212.5ZM156.9 353.5L259.6 353.5L156.9 212.5ZM259.6 353.5L259.6 212.5L156.9 212.5ZM259.6 353.5L362.3 353.5L259.6 212.5ZM362.3 353.5L362.3 212.5L259.6 212.5ZM362.3 353.5L465.0 353.5L465.0 212.5ZM362.3 353.5L465.0 212.5L362.3 212.5ZM465.0 353.5L567.7 353.5L465.0 212.5ZM567.7 353.5L567.7 212.5L465.0 212.5ZM54.2 212.5L156.9 212.5L54.2 36.2ZM156.9 212.5L156.9 36.2L54.2 36.2ZM156.9 212.5L259.6 212.5L156.9 36.2ZM259.6 212.5L259.6 36.2L156.9 36.2ZM259.6 212.5L362.3 212.5L259.6 36.2ZM362.3 212.5L362.3 36.2L259.6 36.2ZM362.3 212.5L465.0 212.5L362.3 36.2ZM465.0 212.5L465.0 36.2L362.3 36.2ZM465.0 212.5L567.7 212.5L465.0 36.2ZM567.7 212.5L567.7 36.2L465.0 36.2Z"/>
<path fill="#00ff62" stroke="#00ff62" stroke-width="0.4" d="M362.3 459.8L362.3 459.3L319.5 459.3ZM364.2 459.6L362.3 459.3L362.3 459.8ZM365.7 459.3L362.3 459.3L364.2 459.6ZM104.2 441.2L54.2 424.0L54.2 437.3ZM156.9 443.6L156.9 424.0L54.2 424.0L104.2 441.2ZM255.0 457.7L156.9 424.0L156.9 443.6ZM259.6 457.8L259.6 424.0L156.9 424.0L255.0 457.7ZM319.5 459.3L362.3 459.3L259.6 424.0L259.6 457.8ZM362.3 459.3L362.3 424.0L259.6 424.0ZM362.3 459.3L365.7 459.3L406.9 439.3L362.3 424.0ZM465.0 428.4L465.0 424.0L362.3 424.0L406.9 439.3ZM471.5 426.2L465.0 424.0L465.0 428.4ZM483.6 424.0L465.0 424.0L471.5 426.2ZM54.2 424.0L156.9 424.0L54.2 353.5ZM156.9 424.0L156.9 353.5L54.2 353.5ZM156.9 424.0L259.6 424.0L156.9 353.5ZM259.6 424.0L259.6 353.5L156.9 353.5ZM259.6 424.0L362.3 424.0L259.6 353.5ZM362.3 424.0L362.3 353.5L259.6 353.5ZM362.3 424.0L465.0 424.0L362.3 353.5ZM465.0 424.0L465.0 353.5L362.3 353.5ZM465.0 424.0L483.6 424.0L548.5 410.8L465.0 353.5ZM567.7 395.1L567.7 353.5L465.0 353.5L548.5 410.8ZM54.2 353.5L156.9 353.5L54.2 212.5ZM156.9 353.5L156.9 212.5L54.2 212.5ZM156.9 353.5L259.6 353.5L156.9 212.5ZM259.6 353.5L259.6 212.5L156.9 212.5ZM259.6 353.5L362.3 353.5L259.6 212.5ZM362.3 353.5L362.3 212.5L259.6 212.5ZM362.3 353.5L465.0 353.5L465.0 212.5ZM362.3 353.5L465.0 212.5L362.3 212.5ZM465.0 353.5L567.7 353.5L465.0 212.5ZM567.7 353.5L567.7 212.5L465.0 212.5ZM54.2 212.5L156.9 212.5L54.2 36.2ZM156.9 212.5L156.9 36.2L54.2 36.2ZM156.9 212.5L259.6 212.5L156.9 36.2ZM259.6 212.5L259.6 36.2L156.9 36.2ZM259.6 212.5L362.3 212.5L259.6 36.2ZM362.3 212.5L362.3 36.2L259.6 36.2ZM362.3 212.5L465.0 212.5L362.3 36.2ZM465.0 212.5L465.0 36.2L362.3 36.2ZM465.0 212.5L567.7 212.5L465.0 36.2ZM567.7 212.5L567.7 36.2L465.0 36.2Z"/>
<path fill="#00ff4c" stroke="#00ff4c" stroke-width="0.4" d="M93.2 437.4L54.2 424.0L54.2 434.3ZM156.9 440.3L156.9 424.0L54.2 424.0L93.2 437.4ZM238.5 452.0L156.9 424.0L156.9 440.3ZM259.6 452.7L259.6 424.0L156.9 424.0L238.5 452.0ZM349.5 454.8L259.6 424.0L259.6 452.7ZM362.3 452.7L362.3 424.0L259.6 424.0L349.5 454.8ZM397.1 435.9L362.3 424.0L362.3 452.7ZM460.5 424.0L362.3 424.0L397.1 435.9ZM54.2 424.0L156.9 424.0L54.2 353.5ZM156.9 424.0L156.9 353.5L54.2 353.5ZM156.9 424.0L259.6 424.0L156.9 353.5ZM259.6 424.0L259.6 353.5L156.9 353.5ZM259.6 424.0L362.3 424.0L259.6 353.5ZM362.3 424.0L362.3 353.5L259.6 353.5ZM362.3 424.0L460.5 424.0L464.2 423.5L362.3 353.5ZM465.0 423.3L465.0 353.5L362.3 353.5L464.2 423.5ZM543.4 407.3L465.0 353.5L465.0 423.3ZM567.7 387.5L567.7 353.5L465.0 353.5L543.4 407.3ZM54.2 353.5L156.9 353.5L54.2 212.5ZM156.9 353.5L156.9 212.5L54.2 212.5ZM156.9 353.5L259.6 353.5L156.9 212.5ZM259.6 353.5L259.6 212.5L156.9 212.5ZM259.6 353.5L362.3 353.5L259.6 212.5ZM362.3 353.5L362.3 212.5L259.6 212.5ZM362.3 353.5L465.0 353.5L465.0 212.5ZM362.3 353.5L465.0 212.5L362.3 212.5ZM465.0 353.5L567.7 353.5L465.0 212.5ZM567.7 353.5L567.7 212.5L465.0 212.5ZM54.2 212.5L156.9 212.5L54.2 36.2ZM156.9 212.5L156.9 36.2L54.2 36.2ZM156.9 212.5L259.6 212.5L156.9 36.2ZM259.6 212.5L259.6 36.2L156.9 36.2ZM259.6 212.5L362.3 212.5L259.6 36.2ZM362.3 212.5L362.3 36.2L259.6 36.2ZM362.3 212.5L465.0 212.5L362.3 36.2ZM465.0 212.5L465.0 36.2L362.3 36.2ZM465.0 212.5L567.7 212.5L465.0 36.2ZM567.7 212.5L567.7 36.2L465.0 36.2Z"/>
<path fill="#00ff36" stroke="#00ff36" stroke-width="0.4" d="M82.1 433.6L54.2 424.0L54.2 431.4ZM156.9 437.0L156.9 424.0L54.2 424.0L82.1 433.6ZM222.1 446.4L156.9 424.0L156.9 437.0ZM259.6 447.6L259.6 424.0L156.9 424.0L222.1 446.4ZM333.4 449.3L259.6 424.0L259.6 447.6ZM362.3 444.6L362.3 424.0L259.6 424.0L333.4 449.3ZM387.2 432.5L362.3 424.0L362.3 444.6ZM432.6 424.0L362.3 424.0L387.2 432.5ZM54.2 424.0L156.9 424.0L54.2 353.5ZM156.9 424.0L156.9 353.5L54.2 353.5ZM156.9 424.0L259.6 424.0L156.9 353.5ZM259.6 424.0L259.6 353.5L156.9 353.5ZM259.6 424.0L362.3 424.0L259.6 353.5ZM362.3 424.0L362.3 353.5L259.6 353.5ZM362.3 424.0L432.6 424.0L459.4 420.2L362.3 353.5ZM465.0 418.8L465.0 353.5L362.3 353.5L459.4 420.2ZM538.4 403.9L465.0 353.5L465.0 418.8ZM567.7 379.9L567.7 353.5L465.0 353.5L538.4 403.9ZM54.2 353.5L156.9 353.5L54.2 212.5ZM156.9 353.5L156.9 212.5L54.2 212.5ZM156.9 353.5L259.6 353.5L156.9 212.5ZM259.6 353.5L259.6 212.5L156.9 212.5ZM259.6 353.5L362.3 353.5L259.6 212.5ZM362.3 353.5L362.3 212.5L259.6 212.5ZM362.3 353.5L465.0 353.5L465.0 212.5ZM362.3 353.5L465.0 212.5L362.3 212.5ZM465.0 353.5L567.7 353.5L465.0 212.5ZM567.7 353.5L567.7 212.5L465.0 212.5ZM54.2 212.5L156.9 212.5L54.2 36.2ZM156.9 212.5L156.9 36.2L54.2 36.2ZM156.9 212.5L259.6 212.5L156.9 36.2ZM259.6 212.5L259.6 36.2L156.9 36.2ZM259.6 212.5L362.3 212.5L259.6 36.2ZM362.3 212.5L362.3 36.2L259.6 36.2ZM362.3 212.5L465.0 212.5L362.3 36.2ZM465.0 212.5L465.0 36.2L362.3 36.2ZM465.0 212.5L567.7 212.5L465.0 36.2ZM567.7 212.5L567.7 36.2L465.0 36.2Z"/>
<path fill="#00ff21" stroke="#00ff21" stroke-width="0.4" d="M71.0 429.8L54.2 424.0L54.2 428.5ZM156.9 433.7L156.9 424.0L54.2 424.0L71.0 429.8ZM205.6 440.7L156.9 424.0L156.9 433.7ZM259.6 442.4L259.6 424.0L156.9 424.0L205.6 440.7ZM317.4 443.8L259.6 424.0L259.6 442.4ZM362.3 436.4L362.3 424.0L259.6 424.0L317.4 443.8ZM377.3 429.2L362.3 424.0L362.3 436.4ZM404.7 424.0L362.3 424.0L377.3 429.2ZM54.2 424.0L156.9 424.0L54.2 353.5ZM156.9 424.0L156.9 353.5L54.2 353.5ZM156.9 424.0L259.6 424.0L156.9 353.5ZM259.6 424.0L259.6 353.5L156.9 353.5ZM259.6 424.0L362.3 424.0L259.6 353.5ZM362.3 424.0L362.3 353.5L259.6 353.5ZM362.3 424.0L404.7 424.0L454.7 416.9L362.3 353.5ZM465.0 414.3L465.0 353.5L362.3 353.5L454.7 416.9ZM533.3 400.4L465.0 353.5L465.0 414.3ZM567.7 372.3L567.7 353.5L465.0 353.5L533.3 400.4ZM54.2 353.5L156.9 353.5L54.2 212.5ZM156.9 353.5L156.9 212.5L54.2 212.5ZM156.9 353.5L259.6 353.5L156.9 212.5ZM259.6 353.5L259.6 212.5L156.9 212.5ZM259.6 353.5L362.3 353.5L259.6 212.5ZM362.3 353.5L362.3 212.5L259.6 212.5ZM362.3 353.5L465.0 353.5L465.0 212.5ZM362.3 353.5L465.0 212.5L362.3 212.5ZM465.0 353.5L567.7 353.5L465.0 212.5ZM567.7 353.5L567.7 212.5L465.0 212.5ZM54.2 212.5L156.9 212.5L54.2 36.2ZM156.9 212.5L156.9 36.2L54.2 36.2ZM156.9 212.5L259.6 212.5L156.9 36.2ZM259.6 212.5L259.6 36.2L156.9 36.2ZM259.6 212.5L362.3 212.5L259.6 36.2ZM362.3 212.5L362.3 36.2L259.6 36.2ZM362.3 212.5L465.0 212.5L362.3 36.2ZM465.0 212.5L465.0 36.2L362.3 36.2ZM465.0 212.5L567.7 212.5L465.0 36.2ZM567.7 212.5L567.7 36.2L465.0 36.2Z"/>
<path fill="#00ff0b" stroke="#00ff0b" stroke-width="0.4" d="M60.0 426.0L54.2 424.0L54.2 425.5ZM156.9 430.4L156.9 424.0L54.2 424.0L60.0 426.0ZM189.2 435.1L156.9 424.0L156.9 430.4ZM259.6 437.3L259.6 424.0L156.9 424.0L189.2 435.1ZM301.3 438.3L259.6 424.0L259.6 437.3ZM362.3 428.2L362.3 424.0L259.6 424.0L301.3 438.3ZM367.4 425.8L362.3 424.0L362.3 428.2ZM376.8 424.0L362.3 424.0L367.4 425.8ZM54.2 424.0L156.9 424.0L54.2 353.5ZM156.9 424.0L156.9 353.5L54.2 353.5ZM156.9 424.0L259.6 424.0L156.9 353.5ZM259.6 424.0L259.6 353.5L156.9 353.5ZM259.6 424.0L362.3 424.0L259.6 353.5ZM362.3 424.0L362.3 353.5L259.6 353.5ZM362.3 424.0L376.8 424.0L449.9 413.6L362.3 353.5ZM465.0 409.8L465.0 353.5L362.3 353.5L449.9 413.6ZM528.3 396.9L465.0 353.5L465.0 409.8ZM567.7 364.7L567.7 353.5L465.0 353.5L528.3 396.9ZM54.2 353.5L156.9 353.5L54.2 212.5ZM156.9 353.5L156.9 212.5L54.2 212.5ZM156.9 353.5L259.6 353.5L156.9 212.5ZM259.6 353.5L259.6 212.5L156.9 212.5ZM259.6 353.5L362.3 353.5L259.6 212.5ZM362.3 353.5L362.3 212.5L259.6 212.5ZM362.3 353.5L465.0 353.5L465.0 212.5ZM362.3 353.5L465.0 212.5L362.3 212.5ZM465.0 353.5L567.7 353.5L465.0 212.5ZM567.7 353.5L567.7 212.5L465.0 212.5ZM54.2 212.5L156.9 212.5L54.2 36.2ZM156.9 212.5L156.9 36.2L54.2 36.2ZM156.9 212.5L259.6 212.5L156.9 36.2ZM259.6 212.5L259.6 36.2L156.9 36.2ZM259.6 212.5L362.3 212.5L259.6 36.2ZM362.3 212.5L362.3 36.2L259.6 36.2ZM362.3 212.5L465.0 212.5L362.3 36.2ZM465.0 212.5L465.0 36.2L362.3 36.2ZM465.0 212.5L567.7 212.5L465.0 36.2ZM567.7 212.5L567.7 36.2L465.0 36.2Z"/>
<path fill="#0bff00" stroke="#0bff00" stroke-width="0.4" d="M156.9 427.2L156.9 424.0L88.4 424.0ZM172.7 429.4L156.9 424.0L156.9 427.2ZM259.6 432.2L259.6 424.0L156.9 424.0L172.7 429.4ZM285.3 432.8L259.6 424.0L259.6 432.2ZM338.6 424.0L259.6 424.0L285.3 432.8ZM88.4 424.0L156.9 424.0L54.2 353.5L54.2 422.1ZM156.9 424.0L156.9 353.5L54.2 353.5ZM156.9 424.0L259.6 424.0L156.9 353.5ZM259.6 424.0L259.6 353.5L156.9 353.5ZM259.6 424.0L338.6 424.0L360.1 422.5L259.6 353.5ZM362.3 422.1L362.3 353.5L259.6 353.5L360.1 422.5ZM445.1 410.3L362.3 353.5L362.3 422.1ZM465.0 405.3L465.0 353.5L362.3 353.5L445.1 410.3ZM523.2 393.5L465.0 353.5L465.0 405.3ZM567.7 357.1L567.7 353.5L465.0 353.5L523.2 393.5ZM54.2 353.5L156.9 353.5L54.2 212.5ZM156.9 353.5L156.9 212.5L54.2 212.5ZM156.9 353.5L259.6 353.5L156.9 212.5ZM259.6 353.5L259.6 212.5L156.9 212.5ZM259.6 353.5L362.3 353.5L259.6 212.5ZM362.3 353.5L362.3 212.5L259.6 212.5ZM362.3 353.5L465.0 353.5L465.0 212.5ZM362.3 353.5L465.0 212.5L362.3 212.5ZM465.0 353.5L567.7 353.5L465.0 212.5ZM567.7 353.5L567.7 212.5L465.0 212.5ZM54.2 212.5L156.9 212.5L54.2 36.2ZM156.9 212.5L156.9 36.2L54.2 36.2ZM156.9 212.5L259.6 212.5L156.9 36.2ZM259.6 212.5L259.6 36.2L156.9 36.2ZM259.6 212.5L362.3 212.5L259.6 36.2ZM362.3 212.5L362.3 36.2L259.6 36.2ZM362.3 212.5L465.0 212.5L362.3 36.2ZM465.0 212.5L465.0 36.2L362.3 36.2ZM465.0 212.5L567.7 212.5L465.0 36.2ZM567.7 212.5L567.7 36.2L465.0 36.2Z"/>
<path fill="#21ff00" stroke="#21ff00" stroke-width="0.4" d="M259.6 427.1L259.6 424.0L163.3 424.0ZM269.2 427.3L259.6 424.0L259.6 427.1ZM289.2 424.0L259.6 424.0L269.2 427.3ZM156.7 423.8L54.2 353.5L54.2 418.2ZM156.9 423.9L156.9 353.5L54.2 353.5L156.7 423.8ZM163.3 424.0L259.6 424.0L156.9 353.5L156.9 423.9ZM259.6 424.0L259.6 353.5L156.9 353.5ZM259.6 424.0L289.2 424.0L355.7 419.4L259.6 353.5ZM362.3 418.1L362.3 353.5L259.6 353.5L355.7 419.4ZM440.3 407.0L362.3 353.5L362.3 418.1ZM465.0 400.8L465.0 353.5L362.3 353.5L440.3 407.0ZM518.2 390.0L465.0 353.5L465.0 400.8ZM562.9 353.5L465.0 353.5L518.2 390.0ZM54.2 353.5L156.9 353.5L54.2 212.5ZM156.9 353.5L156.9 212.5L54.2 212.5ZM156.9 353.5L259.6 353.5L156.9 212.5ZM259.6 353.5L259.6 212.5L156.9 212.5ZM259.6 353.5L362.3 353.5L259.6 212.5ZM362.3 353.5L362.3 212.5L259.6 212.5ZM362.3 353.5L465.0 353.5L465.0 212.5ZM362.3 353.5L465.0 212.5L362.3 212.5ZM465.0 353.5L562.9 353.5L563.0 347.1L465.0 212.5ZM567.7 307.7L567.7 212.5L465.0 212.5L563.0 347.1ZM54.2 212.5L156.9 212.5L54.2 36.2ZM156.9 212.5L156.9 36.2L54.2 36.2ZM156.9 212.5L259.6 212.5L156.9 36.2ZM259.6 212.5L259.6 36.2L156.9 36.2ZM259.6 212.5L362.3 212.5L259.6 36.2ZM362.3 212.5L362.3 36.2L259.6 36.2ZM362.3 212.5L465.0 212.5L362.3 36.2ZM465.0 212.5L465.0 36.2L362.3 36.2ZM465.0 212.5L567.7 212.5L465.0 36.2ZM567.7 212.5L567.7 36.2L465.0 36.2Z"/>
<path fill="#36ff00" stroke="#36ff00" stroke-width="0.4" d="M150.5 419.6L54.2 353.5L54.2 414.3ZM156.9 420.2L156.9 353.5L54.2 353.5L150.5 419.6ZM257.4 422.5L156.9 353.5L156.9 420.2ZM259.6 422.6L259.6 353.5L156.9 353.5L257.4 422.5ZM351.2 416.4L259.6 353.5L259.6 422.6ZM362.3 414.2L362.3 353.5L259.6 353.5L351.2 416.4ZM435.5 403.7L362.3 353.5L362.3 414.2ZM465.0 396.3L465.0 353.5L362.3 353.5L435.5 403.7ZM513.1 386.5L465.0 353.5L465.0 396.3ZM553.6 353.5L465.0 353.5L513.1 386.5ZM54.2 353.5L156.9 353.5L54.2 212.5ZM156.9 353.5L156.9 212.5L54.2 212.5ZM156.9 353.5L259.6 353.5L156.9 212.5ZM259.6 353.5L259.6 212.5L156.9 212.5ZM259.6 353.5L362.3 353.5L259.6 212.5ZM362.3 353.5L362.3 212.5L259.6 212.5ZM362.3 353.5L465.0 353.5L465.0 212.5ZM362.3 353.5L465.0 212.5L362.3 212.5ZM465.0 353.5L553.6 353.5L554.1 334.8L465.0 212.5ZM567.7 219.5L567.7 212.5L465.0 212.5L554.1 334.8ZM54.2 212.5L156.9 212.5L54.2 36.2ZM156.9 212.5L156.9 36.2L54.2 36.2ZM156.9 212.5L259.6 212.5L156.9 36.2ZM259.6 212.5L259.6 36.2L156.9 36.2ZM259.6 212.5L362.3 212.5L259.6 36.2ZM362.3 212.5L362.3 36.2L259.6 36.2ZM362.3 212.5L465.0 212.5L362.3 36.2ZM465.0 212.5L465.0 36.2L362.3 36.2ZM465.0 212.5L567.7 212.5L465.0 36.2ZM567.7 212.5L567.7 36.2L465.0 36.2Z"/>
<path fill="#4cff00" stroke="#4cff00" stroke-width="0.4" d="M144.3 415.4L54.2 353.5L54.2 410.4ZM156.9 416.5L156.9 353.5L54.2 353.5L144.3 415.4ZM251.9 418.7L156.9 353.5L156.9 416.5ZM259.6 419.3L259.6 353.5L156.9 353.5L251.9 418.7ZM346.7 413.3L259.6 353.5L259.6 419.3ZM362.3 410.2L362.3 353.5L259.6 353.5L346.7 413.3ZM430.7 400.5L362.3 353.5L362.3 410.2ZM465.0 391.8L465.0 353.5L362.3 353.5L430.7 400.5ZM508.1 383.1L465.0 353.5L465.0 391.8ZM544.3 353.5L465.0 353.5L508.1 383.1ZM54.2 353.5L156.9 353.5L54.2 212.5ZM156.9 353.5L156.9 212.5L54.2 212.5ZM156.9 353.5L259.6 353.5L156.9 212.5ZM259.6 353.5L259.6 212.5L156.9 212.5ZM259.6 353.5L362.3 353.5L259.6 212.5ZM362.3 353.5L362.3 212.5L259.6 212.5ZM362.3 353.5L465.0 353.5L465.0 212.5ZM362.3 353.5L465.0 212.5L362.3 212.5ZM465.0 353.5L544.3 353.5L545.1 322.4L465.0 212.5ZM558.1 212.5L465.0 212.5L545.1 322.4ZM54.2 212.5L156.9 212.5L54.2 36.2ZM156.9 212.5L156.9 36.2L54.2 36.2ZM156.9 212.5L259.6 212.5L156.9 36.2ZM259.6 212.5L259.6 36.2L156.9 36.2ZM259.6 212.5L362.3 212.5L259.6 36.2ZM362.3 212.5L362.3 36.2L259.6 36.2ZM362.3 212.5L465.0 212.5L362.3 36.2ZM465.0 212.5L465.0 36.2L362.3 36.2ZM465.0 212.5L558.1 212.5L558.9 197.3L465.0 36.2ZM566.5 36.2L465.0 36.2L558.9 197.3Z"/>
<path fill="#62ff00" stroke="#62ff00" stroke-width="0.4" d="M138.1 411.1L54.2 353.5L54.2 406.5ZM156.9 412.9L156.9 353.5L54.2 353.5L138.1 411.1ZM246.4 414.9L156.9 353.5L156.9 412.9ZM259.6 415.9L259.6 353.5L156.9 353.5L246.4 414.9ZM342.2 410.2L259.6 353.5L259.6 415.9ZM362.3 406.2L362.3 353.5L259.6 353.5L342.2 410.2ZM425.9 397.2L362.3 353.5L362.3 406.2ZM465.0 387.3L465.0 353.5L362.3 353.5L425.9 397.2ZM503.0 379.6L465.0 353.5L465.0 387.3ZM535.0 353.5L465.0 353.5L503.0 379.6ZM54.2 353.5L156.9 353.5L54.2 212.5ZM156.9 353.5L156.9 212.5L54.2 212.5ZM156.9 353.5L259.6 353.5L156.9 212.5ZM259.6 353.5L259.6 212.5L156.9 212.5ZM259.6 353.5L362.3 353.5L259.6 212.5ZM362.3 353.5L362.3 212.5L259.6 212.5ZM362.3 353.5L465.0 353.5L465.0 212.5ZM362.3 353.5L465.0 212.5L362.3 212.5ZM465.0 353.5L535.0 353.5L536.1 310.1L465.0 212.5ZM547.7 212.5L465.0 212.5L536.1 310.1ZM54.2 212.5L156.9 212.5L54.2 36.2ZM156.9 212.5L156.9 36.2L54.2 36.2ZM156.9 212.5L259.6 212.5L156.9 36.2ZM259.6 212.5L259.6 36.2L156.9 36.2ZM259.6 212.5L362.3 212.5L259.6 36.2ZM362.3 212.5L362.3 36.2L259.6 36.2ZM362.3 212.5L465.0 212.5L362.3 36.2ZM465.0 212.5L465.0 36.2L362.3 36.2ZM465.0 212.5L547.7 212.5L549.3 180.9L465.0 36.2ZM556.1 36.2L465.0 36.2L549.3 180.9Z"/>
<path fill="#77ff00" stroke="#77ff00" stroke-width="0.4" d="M132.0 406.9L54.2 353.5L54.2 402.6ZM156.9 409.2L156.9 353.5L54.2 353.5L132.0 406.9ZM240.9 411.1L156.9 353.5L156.9 409.2ZM259.6 412.5L259.6 353.5L156.9 353.5L240.9 411.1ZM337.7 407.1L259.6 353.5L259.6 412.5ZM362.3 402.2L362.3 353.5L259.6 353.5L337.7 407.1ZM421.1 393.9L362.3 353.5L362.3 402.2ZM465.0 382.8L465.0 353.5L362.3 353.5L421.1 393.9ZM498.0 376.1L465.0 353.5L465.0 382.8ZM525.7 353.5L465.0 353.5L498.0 376.1ZM54.2 353.5L156.9 353.5L54.2 212.5ZM156.9 353.5L156.9 212.5L54.2 212.5ZM156.9 353.5L259.6 353.5L156.9 212.5ZM259.6 353.5L259.6 212.5L156.9 212.5ZM259.6 353.5L362.3 353.5L259.6 212.5ZM362.3 353.5L362.3 212.5L259.6 212.5ZM362.3 353.5L465.0 353.5L465.0 212.5ZM362.3 353.5L465.0 212.5L362.3 212.5ZM465.0 353.5L525.7 353.5L527.1 297.8L465.0 212.5ZM537.2 212.5L465.0 212.5L527.1 297.8ZM54.2 212.5L156.9 212.5L54.2 36.2ZM156.9 212.5L156.9 36.2L54.2 36.2ZM156.9 212.5L259.6 212.5L156.9 36.2ZM259.6 212.5L259.6 36.2L156.9 36.2ZM259.6 212.5L362.3 212.5L259.6 36.2ZM362.3 212.5L362.3 36.2L259.6 36.2ZM362.3 212.5L465.0 212.5L362.3 36.2ZM465.0 212.5L465.0 36.2L362.3 36.2ZM465.0 212.5L537.2 212.5L539.7 164.5L465.0 36.2ZM545.8 36.2L465.0 36.2L539.7 164.5Z"/>
<path fill="#8dff00" stroke="#8dff00" stroke-width="0.4" d="M125.8 402.6L54.2 353.5L54.2 398.7ZM156.9 405.6L156.9 353.5L54.2 353.5L125.8 402.6ZM235.4 407.4L156.9 353.5L156.9 405.6ZM259.6 409.1L259.6 353.5L156.9 353.5L235.4 407.4ZM333.2 404.0L259.6 353.5L259.6 409.1ZM362.3 398.3L362.3 353.5L259.6 353.5L333.2 404.0ZM416.3 390.6L362.3 353.5L362.3 398.3ZM465.0 378.3L465.0 353.5L362.3 353.5L416.3 390.6ZM492.9 372.6L465.0 353.5L465.0 378.3ZM516.4 353.5L465.0 353.5L492.9 372.6ZM54.2 353.5L156.9 353.5L54.2 212.5ZM156.9 353.5L156.9 212.5L54.2 212.5ZM156.9 353.5L259.6 353.5L156.9 212.5ZM259.6 353.5L259.6 212.5L156.9 212.5ZM259.6 353.5L362.3 353.5L259.6 212.5ZM362.3 353.5L362.3 212.5L259.6 212.5ZM362.3 353.5L465.0 353.5L465.0 212.5ZM362.3 353.5L465.0 212.5L362.3 212.5ZM465.0 353.5L516.4 353.5L518.1 285.4L465.0 212.5ZM526.8 212.5L465.0 212.5L518.1 285.4ZM54.2 212.5L156.9 212.5L54.2 36.2ZM156.9 212.5L156.9 36.2L54.2 36.2ZM156.9 212.5L259.6 212.5L156.9 36.2ZM259.6 212.5L259.6 36.2L156.9 36.2ZM259.6 212.5L362.3 212.5L259.6 36.2ZM362.3 212.5L362.3 36.2L259.6 36.2ZM362.3 212.5L465.0 212.5L362.3 36.2ZM465.0 212.5L465.0 36.2L362.3 36.2ZM465.0 212.5L526.8 212.5L530.1 148.0L465.0 36.2ZM535.4 36.2L465.0 36.2L530.1 148.0Z"/>
<path fill="#a3ff00" stroke="#a3ff00" stroke-width="0.4" d="M119.6 398.4L54.2 353.5L54.2 394.8ZM156.9 401.9L156.9 353.5L54.2 353.5L119.6 398.4ZM229.8 403.6L156.9 353.5L156.9 401.9ZM259.6 405.7L259.6 353.5L156.9 353.5L229.8 403.6ZM328.7 400.9L259.6 353.5L259.6 405.7ZM362.3 394.3L362.3 353.5L259.6 353.5L328.7 400.9ZM411.5 387.3L362.3 353.5L362.3 394.3ZM465.0 373.8L465.0 353.5L362.3 353.5L411.5 387.3ZM487.8 369.2L465.0 353.5L465.0 373.8ZM507.0 353.5L465.0 353.5L487.8 369.2ZM54.2 353.5L156.9 353.5L54.2 212.5ZM156.9 353.5L156.9 212.5L54.2 212.5ZM156.9 353.5L259.6 353.5L156.9 212.5ZM259.6 353.5L259.6 212.5L156.9 212.5ZM259.6 353.5L362.3 353.5L259.6 212.5ZM362.3 353.5L362.3 212.5L259.6 212.5ZM362.3 353.5L465.0 353.5L465.0 212.5ZM362.3 353.5L465.0 212.5L362.3 212.5ZM465.0 353.5L507.0 353.5L509.2 273.1L465.0 212.5ZM516.4 212.5L465.0 212.5L509.2 273.1ZM54.2 212.5L156.9 212.5L54.2 36.2ZM156.9 212.5L156.9 36.2L54.2 36.2ZM156.9 212.5L259.6 212.5L156.9 36.2ZM259.6 212.5L259.6 36.2L156.9 36.2ZM259.6 212.5L362.3 212.5L259.6 36.2ZM362.3 212.5L362.3 36.2L259.6 36.2ZM362.3 212.5L465.0 212.5L362.3 36.2ZM465.0 212.5L465.0 36.2L362.3 36.2ZM465.0 212.5L516.4 212.5L520.6 131.6L465.0 36.2ZM525.0 36.2L465.0 36.2L520.6 131.6Z"/>
<path fill="#b8ff00" stroke="#b8ff00" stroke-width="0.4" d="M113.5 394.2L54.2 353.5L54.2 390.9ZM156.9 398.3L156.9 353.5L54.2 353.5L113.5 394.2ZM224.3 399.8L156.9 353.5L156.9 398.3ZM259.6 402.3L259.6 353.5L156.9 353.5L224.3 399.8ZM324.2 397.9L259.6 353.5L259.6 402.3ZM362.3 390.3L362.3 353.5L259.6 353.5L324.2 397.9ZM406.8 384.0L362.3 353.5L362.3 390.3ZM465.0 369.3L465.0 353.5L362.3 353.5L406.8 384.0ZM482.8 365.7L465.0 353.5L465.0 369.3ZM497.7 353.5L465.0 353.5L482.8 365.7ZM54.2 353.5L156.9 353.5L54.2 212.5ZM156.9 353.5L156.9 212.5L54.2 212.5ZM156.9 353.5L259.6 353.5L156.9 212.5ZM259.6 353.5L259.6 212.5L156.9 212.5ZM259.6 353.5L362.3 353.5L259.6 212.5ZM362.3 353.5L362.3 212.5L259.6 212.5ZM362.3 353.5L465.0 353.5L465.0 212.5ZM362.3 353.5L465.0 212.5L362.3 212.5ZM465.0 353.5L497.7 353.5L500.2 260.8L465.0 212.5ZM505.9 212.5L465.0 212.5L500.2 260.8ZM54.2 212.5L156.9 212.5L54.2 36.2ZM156.9 212.5L156.9 36.2L54.2 36.2ZM156.9 212.5L259.6 212.5L156.9 36.2ZM259.6 212.5L259.6 36.2L156.9 36.2ZM259.6 212.5L362.3 212.5L259.6 36.2ZM362.3 212.5L362.3 36.2L259.6 36.2ZM362.3 212.5L465.0 212.5L362.3 36.2ZM465.0 212.5L465.0 36.2L362.3 36.2ZM465.0 212.5L505.9 212.5L511.0 115.1L465.0 36.2ZM514.7 36.2L465.0 36.2L511.0 115.1Z"/>
<path fill="#ceff00" stroke="#ceff00" stroke-width="0.4" d="M107.3 389.9L54.2 353.5L54.2 387.0ZM156.9 394.6L156.9 353.5L54.2 353.5L107.3 389.9ZM218.8 396.0L156.9 353.5L156.9 394.6ZM259.6 398.9L259.6 353.5L156.9 353.5L218.8 396.0ZM319.7 394.8L259.6 353.5L259.6 398.9ZM362.3 386.4L362.3 353.5L259.6 353.5L319.7 394.8ZM402.0 380.7L362.3 353.5L362.3 386.4ZM465.0 364.8L465.0 353.5L362.3 353.5L402.0 380.7ZM477.7 362.2L465.0 353.5L465.0 364.8ZM488.4 353.5L465.0 353.5L477.7 362.2ZM54.2 353.5L156.9 353.5L54.2 212.5ZM156.9 353.5L156.9 212.5L54.2 212.5ZM156.9 353.5L259.6 353.5L156.9 212.5ZM259.6 353.5L259.6 212.5L156.9 212.5ZM259.6 353.5L362.3 353.5L259.6 212.5ZM362.3 353.5L362.3 212.5L259.6 212.5ZM362.3 353.5L465.0 353.5L465.0 212.5ZM362.3 353.5L465.0 212.5L362.3 212.5ZM465.0 353.5L488.4 353.5L491.2 248.5L465.0 212.5ZM495.5 212.5L465.0 212.5L491.2 248.5ZM54.2 212.5L156.9 212.5L54.2 36.2ZM156.9 212.5L156.9 36.2L54.2 36.2ZM156.9 212.5L259.6 212.5L156.9 36.2ZM259.6 212.5L259.6 36.2L156.9 36.2ZM259.6 212.5L362.3 212.5L259.6 36.2ZM362.3 212.5L362.3 36.2L259.6 36.2ZM362.3 212.5L465.0 212.5L362.3 36.2ZM465.0 212.5L465.0 36.2L362.3 36.2ZM465.0 212.5L495.5 212.5L501.4 98.7L465.0 36.2ZM504.3 36.2L465.0 36.2L501.4 98.7Z"/>
<path fill="#e4ff00" stroke="#e4ff00" stroke-width="0.4" d="M101.1 385.7L54.2 353.5L54.2 383.1ZM156.9 390.9L156.9 353.5L54.2 353.5L101.1 385.7ZM213.3 392.2L156.9 353.5L156.9 390.9ZM259.6 395.5L259.6 353.5L156.9 353.5L213.3 392.2ZM315.3 391.7L259.6 353.5L259.6 395.5ZM362.3 382.4L362.3 353.5L259.6 353.5L315.3 391.7ZM397.2 377.4L362.3 353.5L362.3 382.4ZM465.0 360.3L465.0 353.5L362.3 353.5L397.2 377.4ZM472.7 358.8L465.0 353.5L465.0 360.3ZM479.1 353.5L465.0 353.5L472.7 358.8ZM54.2 353.5L156.9 353.5L54.2 212.5ZM156.9 353.5L156.9 212.5L54.2 212.5ZM156.9 353.5L259.6 353.5L156.9 212.5ZM259.6 353.5L259.6 212.5L156.9 212.5ZM259.6 353.5L362.3 353.5L259.6 212.5ZM362.3 353.5L362.3 212.5L259.6 212.5ZM362.3 353.5L465.0 353.5L465.0 212.5ZM362.3 353.5L465.0 212.5L362.3 212.5ZM465.0 353.5L479.1 353.5L482.2 236.1L465.0 212.5ZM485.0 212.5L465.0 212.5L482.2 236.1ZM54.2 212.5L156.9 212.5L54.2 36.2ZM156.9 212.5L156.9 36.2L54.2 36.2ZM156.9 212.5L259.6 212.5L156.9 36.2ZM259.6 212.5L259.6 36.2L156.9 36.2ZM259.6 212.5L362.3 212.5L259.6 36.2ZM362.3 212.5L362.3 36.2L259.6 36.2ZM362.3 212.5L465.0 212.5L362.3 36.2ZM465.0 212.5L465.0 36.2L362.3 36.2ZM465.0 212.5L485.0 212.5L491.8 82.2L465.0 36.2ZM494.0 36.2L465.0 36.2L491.8 82.2Z"/>
<path fill="#faff00" stroke="#faff00" stroke-width="0.4" d="M94.9 381.5L54.2 353.5L54.2 379.2ZM156.9 387.3L156.9 353.5L54.2 353.5L94.9 381.5ZM207.8 388.4L156.9 353.5L156.9 387.3ZM259.6 392.1L259.6 353.5L156.9 353.5L207.8 388.4ZM310.8 388.6L259.6 353.5L259.6 392.1ZM362.3 378.4L362.3 353.5L259.6 353.5L310.8 388.6ZM392.4 374.1L362.3 353.5L362.3 378.4ZM465.0 355.8L465.0 353.5L362.3 353.5L392.4 374.1ZM467.6 355.3L465.0 353.5L465.0 355.8ZM469.8 353.5L465.0 353.5L467.6 355.3ZM54.2 353.5L156.9 353.5L54.2 212.5ZM156.9 353.5L156.9 212.5L54.2 212.5ZM156.9 353.5L259.6 353.5L156.9 212.5ZM259.6 353.5L259.6 212.5L156.9 212.5ZM259.6 353.5L362.3 353.5L259.6 212.5ZM362.3 353.5L362.3 212.5L259.6 212.5ZM362.3 353.5L465.0 353.5L465.0 212.5ZM362.3 353.5L465.0 212.5L362.3 212.5ZM465.0 353.5L469.8 353.5L473.3 223.8L465.0 212.5ZM474.6 212.5L465.0 212.5L473.3 223.8ZM54.2 212.5L156.9 212.5L54.2 36.2ZM156.9 212.5L156.9 36.2L54.2 36.2ZM156.9 212.5L259.6 212.5L156.9 36.2ZM259.6 212.5L259.6 36.2L156.9 36.2ZM259.6 212.5L362.3 212.5L259.6 36.2ZM362.3 212.5L362.3 36.2L259.6 36.2ZM362.3 212.5L465.0 212.5L362.3 36.2ZM465.0 212.5L465.0 36.2L362.3 36.2ZM465.0 212.5L474.6 212.5L482.2 65.8L465.0 36.2ZM483.6 36.2L465.0 36.2L482.2 65.8Z"/>
<path fill="#ffef00" stroke="#ffef00" stroke-width="0.4" d="M88.8 377.2L54.2 353.5L54.2 375.3ZM156.9 383.6L156.9 353.5L54.2 353.5L88.8 377.2ZM202.3 384.7L156.9 353.5L156.9 383.6ZM259.6 388.7L259.6 353.5L156.9 353.5L202.3 384.7ZM306.3 385.5L259.6 353.5L259.6 388.7ZM362.3 374.5L362.3 353.5L259.6 353.5L306.3 385.5ZM387.6 370.9L362.3 353.5L362.3 374.5ZM456.4 353.5L362.3 353.5L387.6 370.9ZM54.2 353.5L156.9 353.5L54.2 212.5ZM156.9 353.5L156.9 212.5L54.2 212.5ZM156.9 353.5L259.6 353.5L156.9 212.5ZM259.6 353.5L259.6 212.5L156.9 212.5ZM259.6 353.5L362.3 353.5L259.6 212.5ZM362.3 353.5L362.3 212.5L259.6 212.5ZM362.3 353.5L456.4 353.5L463.5 214.6ZM362.3 353.5L463.5 214.6L463.9 212.5L362.3 212.5ZM54.2 212.5L156.9 212.5L54.2 36.2ZM156.9 212.5L156.9 36.2L54.2 36.2ZM156.9 212.5L259.6 212.5L156.9 36.2ZM259.6 212.5L259.6 36.2L156.9 36.2ZM259.6 212.5L362.3 212.5L259.6 36.2ZM362.3 212.5L362.3 36.2L259.6 36.2ZM362.3 212.5L463.9 212.5L464.1 210.9L362.3 36.2ZM465.0 196.4L465.0 36.2L362.3 36.2L464.1 210.9ZM472.7 49.4L465.0 36.2L465.0 196.4ZM473.3 36.2L465.0 36.2L472.7 49.4Z"/>
<path fill="#ffd900" stroke="#ffd900" stroke-width="0.4" d="M82.6 373.0L54.2 353.5L54.2 371.4ZM156.9 380.0L156.9 353.5L54.2 353.5L82.6 373.0ZM196.8 380.9L156.9 353.5L156.9 380.0ZM259.6 385.4L259.6 353.5L156.9 353.5L196.8 380.9ZM301.8 382.5L259.6 353.5L259.6 385.4ZM362.3 370.5L362.3 353.5L259.6 353.5L301.8 382.5ZM382.8 367.6L362.3 353.5L362.3 370.5ZM438.6 353.5L362.3 353.5L382.8 367.6ZM54.2 353.5L156.9 353.5L54.2 212.5ZM156.9 353.5L156.9 212.5L54.2 212.5ZM156.9 353.5L259.6 353.5L156.9 212.5ZM259.6 353.5L259.6 212.5L156.9 212.5ZM259.6 353.5L362.3 353.5L259.6 212.5ZM362.3 353.5L362.3 212.5L259.6 212.5ZM362.3 353.5L438.6 353.5L444.3 240.9ZM362.3 353.5L444.3 240.9L449.9 212.5L362.3 212.5ZM54.2 212.5L156.9 212.5L54.2 36.2ZM156.9 212.5L156.9 36.2L54.2 36.2ZM156.9 212.5L259.6 212.5L156.9 36.2ZM259.6 212.5L259.6 36.2L156.9 36.2ZM259.6 212.5L362.3 212.5L259.6 36.2ZM362.3 212.5L362.3 36.2L259.6 36.2ZM362.3 212.5L449.9 212.5L452.3 190.6L362.3 36.2ZM462.4 36.2L362.3 36.2L452.3 190.6Z"/>
<path fill="#ffc300" stroke="#ffc300" stroke-width="0.4" d="M76.4 368.7L54.2 353.5L54.2 367.5ZM156.9 376.3L156.9 353.5L54.2 353.5L76.4 368.7ZM191.3 377.1L156.9 353.5L156.9 376.3ZM259.6 382.0L259.6 353.5L156.9 353.5L191.3 377.1ZM297.3 379.4L259.6 353.5L259.6 382.0ZM362.3 366.5L362.3 353.5L259.6 353.5L297.3 379.4ZM378.0 364.3L362.3 353.5L362.3 366.5ZM420.8 353.5L362.3 353.5L378.0 364.3ZM54.2 353.5L156.9 353.5L54.2 212.5ZM156.9 353.5L156.9 212.5L54.2 212.5ZM156.9 353.5L259.6 353.5L156.9 212.5ZM259.6 353.5L259.6 212.5L156.9 212.5ZM259.6 353.5L362.3 353.5L259.6 212.5ZM362.3 353.5L362.3 212.5L259.6 212.5ZM362.3 353.5L420.8 353.5L425.1 267.2ZM362.3 353.5L425.1 267.2L436.0 212.5L362.3 212.5ZM54.2 212.5L156.9 212.5L54.2 36.2ZM156.9 212.5L156.9 36.2L54.2 36.2ZM156.9 212.5L259.6 212.5L156.9 36.2ZM259.6 212.5L259.6 36.2L156.9 36.2ZM259.6 212.5L362.3 212.5L259.6 36.2ZM362.3 212.5L362.3 36.2L259.6 36.2ZM362.3 212.5L436.0 212.5L440.5 170.4L362.3 36.2ZM449.3 36.2L362.3 36.2L440.5 170.4Z"/>
<path fill="#ffae00" stroke="#ffae00" stroke-width="0.4" d="M70.2 364.5L54.2 353.5L54.2 363.6ZM156.9 372.7L156.9 353.5L54.2 353.5L70.2 364.5ZM185.8 373.3L156.9 353.5L156.9 372.7ZM259.6 378.6L259.6 353.5L156.9 353.5L185.8 373.3ZM292.8 376.3L259.6 353.5L259.6 378.6ZM362.3 362.5L362.3 353.5L259.6 353.5L292.8 376.3ZM373.2 361.0L362.3 353.5L362.3 362.5ZM403.0 353.5L362.3 353.5L373.2 361.0ZM54.2 353.5L156.9 353.5L54.2 212.5ZM156.9 353.5L156.9 212.5L54.2 212.5ZM156.9 353.5L259.6 353.5L156.9 212.5ZM259.6 353.5L259.6 212.5L156.9 212.5ZM259.6 353.5L362.3 353.5L259.6 212.5ZM362.3 353.5L362.3 212.5L259.6 212.5ZM362.3 353.5L403.0 353.5L406.0 293.5ZM362.3 353.5L406.0 293.5L422.0 212.5L362.3 212.5ZM54.2 212.5L156.9 212.5L54.2 36.2ZM156.9 212.5L156.9 36.2L54.2 36.2ZM156.9 212.5L259.6 212.5L156.9 36.2ZM259.6 212.5L259.6 36.2L156.9 36.2ZM259.6 212.5L362.3 212.5L259.6 36.2ZM362.3 212.5L362.3 36.2L259.6 36.2ZM362.3 212.5L422.0 212.5L428.7 150.2L362.3 36.2ZM436.2 36.2L362.3 36.2L428.7 150.2Z"/>
<path fill="#ff9800" stroke="#ff9800" stroke-width="0.4" d="M64.1 360.3L54.2 353.5L54.2 359.7ZM156.9 369.0L156.9 353.5L54.2 353.5L64.1 360.3ZM180.3 369.5L156.9 353.5L156.9 369.0ZM259.6 375.2L259.6 353.5L156.9 353.5L180.3 369.5ZM288.3 373.2L259.6 353.5L259.6 375.2ZM362.3 358.6L362.3 353.5L259.6 353.5L288.3 373.2ZM368.4 357.7L362.3 353.5L362.3 358.6ZM385.1 353.5L362.3 353.5L368.4 357.7ZM54.2 353.5L156.9 353.5L54.2 212.5ZM156.9 353.5L156.9 212.5L54.2 212.5ZM156.9 353.5L259.6 353.5L156.9 212.5ZM259.6 353.5L259.6 212.5L156.9 212.5ZM259.6 353.5L362.3 353.5L259.6 212.5ZM362.3 353.5L362.3 212.5L259.6 212.5ZM362.3 353.5L385.1 353.5L386.8 319.8ZM362.3 353.5L386.8 319.8L408.1 212.5L362.3 212.5ZM54.2 212.5L156.9 212.5L54.2 36.2ZM156.9 212.5L156.9 36.2L54.2 36.2ZM156.9 212.5L259.6 212.5L156.9 36.2ZM259.6 212.5L259.6 36.2L156.9 36.2ZM259.6 212.5L362.3 212.5L259.6 36.2ZM362.3 212.5L362.3 36.2L259.6 36.2ZM362.3 212.5L408.1 212.5L416.9 130.0L362.3 36.2ZM423.1 36.2L362.3 36.2L416.9 130.0Z"/>
<path fill="#ff8200" stroke="#ff8200" stroke-width="0.4" d="M57.9 356.0L54.2 353.5L54.2 355.8ZM156.9 365.3L156.9 353.5L54.2 353.5L57.9 356.0ZM174.8 365.7L156.9 353.5L156.9 365.3ZM259.6 371.8L259.6 353.5L156.9 353.5L174.8 365.7ZM283.8 370.1L259.6 353.5L259.6 371.8ZM362.3 354.6L362.3 353.5L259.6 353.5L283.8 370.1ZM363.6 354.4L362.3 353.5L362.3 354.6ZM367.3 353.5L362.3 353.5L363.6 354.4ZM54.2 353.5L156.9 353.5L54.2 212.5ZM156.9 353.5L156.9 212.5L54.2 212.5ZM156.9 353.5L259.6 353.5L156.9 212.5ZM259.6 353.5L259.6 212.5L156.9 212.5ZM259.6 353.5L362.3 353.5L259.6 212.5ZM362.3 353.5L362.3 212.5L259.6 212.5ZM362.3 353.5L367.3 353.5L367.7 346.1ZM362.3 353.5L367.7 346.1L394.1 212.5L362.3 212.5ZM54.2 212.5L156.9 212.5L54.2 36.2ZM156.9 212.5L156.9 36.2L54.2 36.2ZM156.9 212.5L259.6 212.5L156.9 36.2ZM259.6 212.5L259.6 36.2L156.9 36.2ZM259.6 212.5L362.3 212.5L259.6 36.2ZM362.3 212.5L362.3 36.2L259.6 36.2ZM362.3 212.5L394.1 212.5L405.2 109.8L362.3 36.2ZM410.0 36.2L362.3 36.2L405.2 109.8Z"/>
<path fill="#ff6d00" stroke="#ff6d00" stroke-width="0.4" d="M156.9 361.7L156.9 353.5L69.8 353.5ZM169.2 362.0L156.9 353.5L156.9 361.7ZM259.6 368.4L259.6 353.5L156.9 353.5L169.2 362.0ZM279.4 367.1L259.6 353.5L259.6 368.4ZM347.9 353.5L259.6 353.5L279.4 367.1ZM69.8 353.5L156.9 353.5L54.2 212.5L54.2 287.0ZM156.9 353.5L156.9 212.5L54.2 212.5ZM156.9 353.5L259.6 353.5L156.9 212.5ZM259.6 353.5L259.6 212.5L156.9 212.5ZM259.6 353.5L347.9 353.5L350.0 336.6L259.6 212.5ZM362.3 302.7L362.3 212.5L259.6 212.5L350.0 336.6ZM380.2 212.5L362.3 212.5L362.3 302.7ZM54.2 212.5L156.9 212.5L54.2 36.2ZM156.9 212.5L156.9 36.2L54.2 36.2ZM156.9 212.5L259.6 212.5L156.9 36.2ZM259.6 212.5L259.6 36.2L156.9 36.2ZM259.6 212.5L362.3 212.5L259.6 36.2ZM362.3 212.5L362.3 36.2L259.6 36.2ZM362.3 212.5L380.2 212.5L393.4 89.6L362.3 36.2ZM396.9 36.2L362.3 36.2L393.4 89.6Z"/>
<path fill="#ff5700" stroke="#ff5700" stroke-width="0.4" d="M156.9 358.0L156.9 353.5L108.7 353.5ZM163.7 358.2L156.9 353.5L156.9 358.0ZM259.6 365.0L259.6 353.5L156.9 353.5L163.7 358.2ZM274.9 364.0L259.6 353.5L259.6 365.0ZM327.8 353.5L259.6 353.5L274.9 364.0ZM108.7 353.5L156.9 353.5L85.8 255.9ZM156.9 353.5L156.9 212.5L72.5 212.5L85.8 255.9ZM156.9 353.5L259.6 353.5L156.9 212.5ZM259.6 353.5L259.6 212.5L156.9 212.5ZM259.6 353.5L327.8 353.5L332.9 313.2L259.6 212.5ZM362.3 232.2L362.3 212.5L259.6 212.5L332.9 313.2ZM366.2 212.5L362.3 212.5L362.3 232.2ZM72.5 212.5L156.9 212.5L64.4 53.6ZM156.9 212.5L156.9 36.2L61.8 36.2L64.4 53.6ZM156.9 212.5L259.6 212.5L156.9 36.2ZM259.6 212.5L259.6 36.2L156.9 36.2ZM259.6 212.5L362.3 212.5L259.6 36.2ZM362.3 212.5L362.3 36.2L259.6 36.2ZM362.3 212.5L366.2 212.5L381.6 69.4L362.3 36.2ZM383.8 36.2L362.3 36.2L381.6 69.4Z"/>
<path fill="#ff4100" stroke="#ff4100" stroke-width="0.4" d="M156.9 354.4L156.9 353.5L147.6 353.5ZM158.2 354.4L156.9 353.5L156.9 354.4ZM259.6 361.6L259.6 353.5L156.9 353.5L158.2 354.4ZM270.4 360.9L259.6 353.5L259.6 361.6ZM307.7 353.5L259.6 353.5L270.4 360.9ZM147.6 353.5L156.9 353.5L143.1 334.6ZM156.9 353.5L156.9 212.5L105.6 212.5L143.1 334.6ZM156.9 353.5L259.6 353.5L156.9 212.5ZM259.6 353.5L259.6 212.5L156.9 212.5ZM259.6 353.5L307.7 353.5L315.9 289.7L259.6 212.5ZM343.9 212.5L259.6 212.5L315.9 289.7ZM105.6 212.5L156.9 212.5L100.6 115.9ZM156.9 212.5L156.9 36.2L88.7 36.2L100.6 115.9ZM156.9 212.5L259.6 212.5L156.9 36.2ZM259.6 212.5L259.6 36.2L156.9 36.2ZM259.6 212.5L343.9 212.5L346.6 185.6L259.6 36.2ZM362.3 119.2L362.3 36.2L259.6 36.2L346.6 185.6ZM369.8 49.1L362.3 36.2L362.3 119.2ZM370.7 36.2L362.3 36.2L369.8 49.1Z"/>
<path fill="#ff2b00" stroke="#ff2b00" stroke-width="0.4" d="M259.6 358.2L259.6 353.5L193.0 353.5ZM265.9 357.8L259.6 353.5L259.6 358.2ZM287.7 353.5L259.6 353.5L265.9 357.8ZM156.9 271.8L156.9 212.5L138.6 212.5ZM193.0 353.5L259.6 353.5L156.9 212.5L156.9 271.8ZM259.6 353.5L259.6 212.5L156.9 212.5ZM259.6 353.5L287.7 353.5L298.8 266.3L259.6 212.5ZM318.3 212.5L259.6 212.5L298.8 266.3ZM138.6 212.5L156.9 212.5L136.9 178.1ZM156.9 212.5L156.9 36.2L115.7 36.2L136.9 178.1ZM156.9 212.5L259.6 212.5L156.9 36.2ZM259.6 212.5L259.6 36.2L156.9 36.2ZM259.6 212.5L318.3 212.5L324.9 148.2L259.6 36.2ZM351.3 36.2L259.6 36.2L324.9 148.2Z"/>
<path fill="#ff1600" stroke="#ff1600" stroke-width="0.4" d="M259.6 354.8L259.6 353.5L240.6 353.5ZM261.4 354.7L259.6 353.5L259.6 354.8ZM267.6 353.5L259.6 353.5L261.4 354.7ZM240.6 353.5L259.6 353.5L211.2 287.0ZM259.6 353.5L259.6 212.5L183.3 212.5L211.2 287.0ZM259.6 353.5L267.6 353.5L281.7 242.9L259.6 212.5ZM292.7 212.5L259.6 212.5L281.7 242.9ZM156.9 131.6L156.9 36.2L142.7 36.2ZM183.3 212.5L259.6 212.5L156.9 36.2L156.9 131.6ZM259.6 212.5L259.6 36.2L156.9 36.2ZM259.6 212.5L292.7 212.5L303.1 110.9L259.6 36.2ZM320.7 36.2L259.6 36.2L303.1 110.9Z"/>
<path fill="#ff0000" stroke="#ff0000" stroke-width="0.4" d="M259.6 259.1L259.6 212.5L242.2 212.5ZM264.7 219.4L259.6 212.5L259.6 259.1ZM267.2 212.5L259.6 212.5L264.7 219.4ZM242.2 212.5L259.6 212.5L220.0 144.5ZM259.6 212.5L259.6 36.2L189.8 36.2L220.0 144.5ZM259.6 212.5L267.2 212.5L281.4 73.5L259.6 36.2ZM290.2 36.2L259.6 36.2L281.4 73.5Z"/>
<path d="M54.2 36.2H567.7V479.4" fill="none" stroke="#000" stroke-width="1.6"/>
<path d="M54.2 35.4V479.4H568.5" fill="none" stroke="#000" stroke-width="1.6"/>
<path d="M50.0 469.3H54.2" stroke="#000" stroke-width="1.5"/>
<path d="M46.4 444.1H54.2" stroke="#000" stroke-width="1.5"/>
<text transform="translate(41.6 449.45) scale(1 1.07)" text-anchor="end" class="tk">10</text>
<path d="M50.0 419.0H54.2" stroke="#000" stroke-width="1.5"/>
<path d="M46.4 393.8H54.2" stroke="#000" stroke-width="1.5"/>
<text transform="translate(41.6 399.08) scale(1 1.07)" text-anchor="end" class="tk">20</text>
<path d="M50.0 368.6H54.2" stroke="#000" stroke-width="1.5"/>
<path d="M46.4 343.4H54.2" stroke="#000" stroke-width="1.5"/>
<text transform="translate(41.6 348.72) scale(1 1.07)" text-anchor="end" class="tk">30</text>
<path d="M50.0 318.2H54.2" stroke="#000" stroke-width="1.5"/>
<path d="M46.4 293.1H54.2" stroke="#000" stroke-width="1.5"/>
<text transform="translate(41.6 298.35) scale(1 1.07)" text-anchor="end" class="tk">40</text>
<path d="M50.0 267.9H54.2" stroke="#000" stroke-width="1.5"/>
<path d="M46.4 242.7H54.2" stroke="#000" stroke-width="1.5"/>
<text transform="translate(41.6 247.99) scale(1 1.07)" text-anchor="end" class="tk">50</text>
<path d="M50.0 217.5H54.2" stroke="#000" stroke-width="1.5"/>
<path d="M46.4 192.3H54.2" stroke="#000" stroke-width="1.5"/>
<text transform="translate(41.6 197.63) scale(1 1.07)" text-anchor="end" class="tk">60</text>
<path d="M50.0 167.1H54.2" stroke="#000" stroke-width="1.5"/>
<path d="M46.4 142.0H54.2" stroke="#000" stroke-width="1.5"/>
<text transform="translate(41.6 147.26) scale(1 1.07)" text-anchor="end" class="tk">70</text>
<path d="M50.0 116.8H54.2" stroke="#000" stroke-width="1.5"/>
<path d="M46.4 91.6H54.2" stroke="#000" stroke-width="1.5"/>
<text transform="translate(41.6 96.90) scale(1 1.07)" text-anchor="end" class="tk">80</text>
<path d="M50.0 66.4H54.2" stroke="#000" stroke-width="1.5"/>
<path d="M46.4 41.2H54.2" stroke="#000" stroke-width="1.5"/>
<text transform="translate(41.6 46.54) scale(1 1.07)" text-anchor="end" class="tk">90</text>
<path d="M54.2 479.4V486.8" stroke="#000" stroke-width="1.5"/>
<text transform="translate(54.2 505.60) scale(1 1.07)" text-anchor="middle" class="tk">0</text>
<path d="M105.6 479.4V483.4" stroke="#000" stroke-width="1.5"/>
<path d="M156.9 479.4V486.8" stroke="#000" stroke-width="1.5"/>
<text transform="translate(156.9 505.60) scale(1 1.07)" text-anchor="middle" class="tk">10</text>
<path d="M208.2 479.4V483.4" stroke="#000" stroke-width="1.5"/>
<path d="M259.6 479.4V486.8" stroke="#000" stroke-width="1.5"/>
<text transform="translate(259.6 505.60) scale(1 1.07)" text-anchor="middle" class="tk">20</text>
<path d="M310.9 479.4V483.4" stroke="#000" stroke-width="1.5"/>
<path d="M362.3 479.4V486.8" stroke="#000" stroke-width="1.5"/>
<text transform="translate(362.3 505.60) scale(1 1.07)" text-anchor="middle" class="tk">30</text>
<path d="M413.6 479.4V483.4" stroke="#000" stroke-width="1.5"/>
<path d="M465.0 479.4V486.8" stroke="#000" stroke-width="1.5"/>
<text transform="translate(465.0 505.60) scale(1 1.07)" text-anchor="middle" class="tk">40</text>
<path d="M516.4 479.4V483.4" stroke="#000" stroke-width="1.5"/>
<path d="M567.7 479.4V486.8" stroke="#000" stroke-width="1.5"/>
<text transform="translate(567.7 505.60) scale(1 1.07)" text-anchor="middle" class="tk">50</text>
<text x="311.5" y="537.6" text-anchor="middle" class="ti">WFS (%)</text>
<text x="346.2" y="571.6" text-anchor="middle" class="cap">(a)</text>
<text transform="translate(15.2 257.6) rotate(-90)" text-anchor="middle" class="ti">Age (Day)</text>
<rect x="604.1" y="37.7" width="32.8" height="8.9" fill="#808080"/>
<rect x="604.1" y="472.3" width="32.8" height="8.9" fill="#000"/>
<rect x="604.1" y="46.60" width="32.8" height="425.70" fill="#ff0000"/>
<rect x="604.1" y="55.47" width="32.8" height="416.83" fill="#ff1600"/>
<rect x="604.1" y="64.34" width="32.8" height="407.96" fill="#ff2b00"/>
<rect x="604.1" y="73.21" width="32.8" height="399.09" fill="#ff4100"/>
<rect x="604.1" y="82.07" width="32.8" height="390.23" fill="#ff5700"/>
<rect x="604.1" y="90.94" width="32.8" height="381.36" fill="#ff6d00"/>
<rect x="604.1" y="99.81" width="32.8" height="372.49" fill="#ff8200"/>
<rect x="604.1" y="108.68" width="32.8" height="363.62" fill="#ff9800"/>
<rect x="604.1" y="117.55" width="32.8" height="354.75" fill="#ffae00"/>
<rect x="604.1" y="126.42" width="32.8" height="345.88" fill="#ffc300"/>
<rect x="604.1" y="135.29" width="32.8" height="337.01" fill="#ffd900"/>
<rect x="604.1" y="144.16" width="32.8" height="328.14" fill="#ffef00"/>
<rect x="604.1" y="153.02" width="32.8" height="319.28" fill="#faff00"/>
<rect x="604.1" y="161.89" width="32.8" height="310.41" fill="#e4ff00"/>
<rect x="604.1" y="170.76" width="32.8" height="301.54" fill="#ceff00"/>
<rect x="604.1" y="179.63" width="32.8" height="292.67" fill="#b8ff00"/>
<rect x="604.1" y="188.50" width="32.8" height="283.80" fill="#a3ff00"/>
<rect x="604.1" y="197.37" width="32.8" height="274.93" fill="#8dff00"/>
<rect x="604.1" y="206.24" width="32.8" height="266.06" fill="#77ff00"/>
<rect x="604.1" y="215.11" width="32.8" height="257.19" fill="#62ff00"/>
<rect x="604.1" y="223.97" width="32.8" height="248.33" fill="#4cff00"/>
<rect x="604.1" y="232.84" width="32.8" height="239.46" fill="#36ff00"/>
<rect x="604.1" y="241.71" width="32.8" height="230.59" fill="#21ff00"/>
<rect x="604.1" y="250.58" width="32.8" height="221.72" fill="#0bff00"/>
<rect x="604.1" y="259.45" width="32.8" height="212.85" fill="#00ff0b"/>
<rect x="604.1" y="268.32" width="32.8" height="203.98" fill="#00ff21"/>
<rect x="604.1" y="277.19" width="32.8" height="195.11" fill="#00ff36"/>
<rect x="604.1" y="286.06" width="32.8" height="186.24" fill="#00ff4c"/>
<rect x="604.1" y="294.93" width="32.8" height="177.38" fill="#00ff62"/>
<rect x="604.1" y="303.79" width="32.8" height="168.51" fill="#00ff77"/>
<rect x="604.1" y="312.66" width="32.8" height="159.64" fill="#00ff8d"/>
<rect x="604.1" y="321.53" width="32.8" height="150.77" fill="#00ffa3"/>
<rect x="604.1" y="330.40" width="32.8" height="141.90" fill="#00ffb8"/>
<rect x="604.1" y="339.27" width="32.8" height="133.03" fill="#00ffce"/>
<rect x="604.1" y="348.14" width="32.8" height="124.16" fill="#00ffe4"/>
<rect x="604.1" y="357.01" width="32.8" height="115.29" fill="#00fffa"/>
<rect x="604.1" y="365.88" width="32.8" height="106.43" fill="#00efff"/>
<rect x="604.1" y="374.74" width="32.8" height="97.56" fill="#00d9ff"/>
<rect x="604.1" y="383.61" width="32.8" height="88.69" fill="#00c3ff"/>
<rect x="604.1" y="392.48" width="32.8" height="79.82" fill="#00aeff"/>
<rect x="604.1" y="401.35" width="32.8" height="70.95" fill="#0098ff"/>
<rect x="604.1" y="410.22" width="32.8" height="62.08" fill="#0082ff"/>
<rect x="604.1" y="419.09" width="32.8" height="53.21" fill="#006dff"/>
<rect x="604.1" y="427.96" width="32.8" height="44.34" fill="#0057ff"/>
<rect x="604.1" y="436.82" width="32.8" height="35.48" fill="#0041ff"/>
<rect x="604.1" y="445.69" width="32.8" height="26.61" fill="#002bff"/>
<rect x="604.1" y="454.56" width="32.8" height="17.74" fill="#0016ff"/>
<rect x="604.1" y="463.43" width="32.8" height="8.87" fill="#0000ff"/>
<rect x="604.1" y="37.7" width="32.8" height="443.4" fill="none" stroke="#3a3a3a" stroke-width="1"/>
<path d="M636.9 46.6H644.4" stroke="#222" stroke-width="1.3"/>
<text transform="translate(650.3 52.20) scale(1 1.07)" class="cb">38.00</text>
<path d="M636.9 99.8H644.4" stroke="#222" stroke-width="1.3"/>
<text transform="translate(650.3 105.41) scale(1 1.07)" class="cb">34.25</text>
<path d="M636.9 153.0H644.4" stroke="#222" stroke-width="1.3"/>
<text transform="translate(650.3 158.62) scale(1 1.07)" class="cb">30.50</text>
<path d="M636.9 206.2H644.4" stroke="#222" stroke-width="1.3"/>
<text transform="translate(650.3 211.84) scale(1 1.07)" class="cb">26.75</text>
<path d="M636.9 259.4H644.4" stroke="#222" stroke-width="1.3"/>
<text transform="translate(650.3 265.05) scale(1 1.07)" class="cb">23.00</text>
<path d="M636.9 312.7H644.4" stroke="#222" stroke-width="1.3"/>
<text transform="translate(650.3 318.26) scale(1 1.07)" class="cb">19.25</text>
<path d="M636.9 365.9H644.4" stroke="#222" stroke-width="1.3"/>
<text transform="translate(650.3 371.48) scale(1 1.07)" class="cb">15.50</text>
<path d="M636.9 419.1H644.4" stroke="#222" stroke-width="1.3"/>
<text transform="translate(650.3 424.69) scale(1 1.07)" class="cb">11.75</text>
<path d="M636.9 472.3H644.4" stroke="#222" stroke-width="1.3"/>
<text transform="translate(650.3 477.90) scale(1 1.07)" class="cb">8.000</text>
<text x="581.9" y="24.3" class="ti">Fc (MPa)</text>
<rect x="54.2" y="613.7" width="513.5" height="443.2" fill="#0000ff"/>
<path fill="#0016ff" stroke="#0016ff" stroke-width="0.4" d="M54.2 1056.9L156.9 1056.9L54.2 1036.8ZM156.9 1056.9L156.9 1036.8L54.2 1036.8ZM156.9 1056.9L259.6 1056.9L156.9 1036.8ZM259.6 1056.9L259.6 1036.8L156.9 1036.8ZM259.6 1056.9L362.3 1056.9L259.6 1036.8ZM362.3 1056.9L362.3 1036.8L259.6 1036.8ZM362.3 1056.9L465.0 1056.9L362.3 1036.8ZM465.0 1056.9L465.0 1036.8L362.3 1036.8ZM465.0 1056.9L549.2 1056.9L559.8 1055.3L465.0 1036.8ZM567.7 1052.6L567.7 1036.8L465.0 1036.8L559.8 1055.3ZM54.2 1036.8L156.9 1036.8L54.2 1001.5ZM156.9 1036.8L156.9 1001.5L54.2 1001.5ZM156.9 1036.8L259.6 1036.8L156.9 1001.5ZM259.6 1036.8L259.6 1001.5L156.9 1001.5ZM259.6 1036.8L362.3 1036.8L259.6 1001.5ZM362.3 1036.8L362.3 1001.5L259.6 1001.5ZM362.3 1036.8L465.0 1036.8L362.3 1001.5ZM465.0 1036.8L465.0 1001.5L362.3 1001.5ZM465.0 1036.8L567.7 1036.8L465.0 1001.5ZM567.7 1036.8L567.7 1001.5L465.0 1001.5ZM54.2 1001.5L156.9 1001.5L54.2 931.0ZM156.9 1001.5L156.9 931.0L54.2 931.0ZM156.9 1001.5L259.6 1001.5L156.9 931.0ZM259.6 1001.5L259.6 931.0L156.9 931.0ZM259.6 1001.5L362.3 1001.5L259.6 931.0ZM362.3 1001.5L362.3 931.0L259.6 931.0ZM362.3 1001.5L465.0 1001.5L362.3 931.0ZM465.0 1001.5L465.0 931.0L362.3 931.0ZM465.0 1001.5L567.7 1001.5L465.0 931.0ZM567.7 1001.5L567.7 931.0L465.0 931.0ZM54.2 931.0L156.9 931.0L54.2 790.0ZM156.9 931.0L156.9 790.0L54.2 790.0ZM156.9 931.0L259.6 931.0L156.9 790.0ZM259.6 931.0L259.6 790.0L156.9 790.0ZM259.6 931.0L362.3 931.0L259.6 790.0ZM362.3 931.0L362.3 790.0L259.6 790.0ZM362.3 931.0L465.0 931.0L465.0 790.0ZM362.3 931.0L465.0 790.0L362.3 790.0ZM465.0 931.0L567.7 931.0L465.0 790.0ZM567.7 931.0L567.7 790.0L465.0 790.0ZM54.2 790.0L156.9 790.0L54.2 613.7ZM156.9 790.0L156.9 613.7L54.2 613.7ZM156.9 790.0L259.6 790.0L156.9 613.7ZM259.6 790.0L259.6 613.7L156.9 613.7ZM259.6 790.0L362.3 790.0L259.6 613.7ZM362.3 790.0L362.3 613.7L259.6 613.7ZM362.3 790.0L465.0 790.0L362.3 613.7ZM465.0 790.0L465.0 613.7L362.3 613.7ZM465.0 790.0L567.7 790.0L465.0 613.7ZM567.7 790.0L567.7 613.7L465.0 613.7Z"/>
<path fill="#002bff" stroke="#002bff" stroke-width="0.4" d="M54.2 1056.9L156.9 1056.9L54.2 1036.8ZM156.9 1056.9L156.9 1036.8L54.2 1036.8ZM156.9 1056.9L259.6 1056.9L156.9 1036.8ZM259.6 1056.9L259.6 1036.8L156.9 1036.8ZM259.6 1056.9L362.3 1056.9L259.6 1036.8ZM362.3 1056.9L362.3 1036.8L259.6 1036.8ZM362.3 1056.9L465.0 1056.9L362.3 1036.8ZM465.0 1056.9L465.0 1036.8L362.3 1036.8ZM465.0 1056.9L530.8 1056.9L551.9 1053.8L465.0 1036.8ZM567.7 1048.2L567.7 1036.8L465.0 1036.8L551.9 1053.8ZM54.2 1036.8L156.9 1036.8L54.2 1001.5ZM156.9 1036.8L156.9 1001.5L54.2 1001.5ZM156.9 1036.8L259.6 1036.8L156.9 1001.5ZM259.6 1036.8L259.6 1001.5L156.9 1001.5ZM259.6 1036.8L362.3 1036.8L259.6 1001.5ZM362.3 1036.8L362.3 1001.5L259.6 1001.5ZM362.3 1036.8L465.0 1036.8L362.3 1001.5ZM465.0 1036.8L465.0 1001.5L362.3 1001.5ZM465.0 1036.8L567.7 1036.8L465.0 1001.5ZM567.7 1036.8L567.7 1001.5L465.0 1001.5ZM54.2 1001.5L156.9 1001.5L54.2 931.0ZM156.9 1001.5L156.9 931.0L54.2 931.0ZM156.9 1001.5L259.6 1001.5L156.9 931.0ZM259.6 1001.5L259.6 931.0L156.9 931.0ZM259.6 1001.5L362.3 1001.5L259.6 931.0ZM362.3 1001.5L362.3 931.0L259.6 931.0ZM362.3 1001.5L465.0 1001.5L362.3 931.0ZM465.0 1001.5L465.0 931.0L362.3 931.0ZM465.0 1001.5L567.7 1001.5L465.0 931.0ZM567.7 1001.5L567.7 931.0L465.0 931.0ZM54.2 931.0L156.9 931.0L54.2 790.0ZM156.9 931.0L156.9 790.0L54.2 790.0ZM156.9 931.0L259.6 931.0L156.9 790.0ZM259.6 931.0L259.6 790.0L156.9 790.0ZM259.6 931.0L362.3 931.0L259.6 790.0ZM362.3 931.0L362.3 790.0L259.6 790.0ZM362.3 931.0L465.0 931.0L465.0 790.0ZM362.3 931.0L465.0 790.0L362.3 790.0ZM465.0 931.0L567.7 931.0L465.0 790.0ZM567.7 931.0L567.7 790.0L465.0 790.0ZM54.2 790.0L156.9 790.0L54.2 613.7ZM156.9 790.0L156.9 613.7L54.2 613.7ZM156.9 790.0L259.6 790.0L156.9 613.7ZM259.6 790.0L259.6 613.7L156.9 613.7ZM259.6 790.0L362.3 790.0L259.6 613.7ZM362.3 790.0L362.3 613.7L259.6 613.7ZM362.3 790.0L465.0 790.0L362.3 613.7ZM465.0 790.0L465.0 613.7L362.3 613.7ZM465.0 790.0L567.7 790.0L465.0 613.7ZM567.7 790.0L567.7 613.7L465.0 613.7Z"/>
<path fill="#0041ff" stroke="#0041ff" stroke-width="0.4" d="M54.2 1056.9L156.9 1056.9L54.2 1036.8ZM156.9 1056.9L156.9 1036.8L54.2 1036.8ZM156.9 1056.9L259.6 1056.9L156.9 1036.8ZM259.6 1056.9L259.6 1036.8L156.9 1036.8ZM259.6 1056.9L362.3 1056.9L259.6 1036.8ZM362.3 1056.9L362.3 1036.8L259.6 1036.8ZM362.3 1056.9L465.0 1056.9L362.3 1036.8ZM465.0 1056.9L465.0 1036.8L362.3 1036.8ZM465.0 1056.9L512.3 1056.9L544.0 1052.2L465.0 1036.8ZM567.7 1043.9L567.7 1036.8L465.0 1036.8L544.0 1052.2ZM54.2 1036.8L156.9 1036.8L54.2 1001.5ZM156.9 1036.8L156.9 1001.5L54.2 1001.5ZM156.9 1036.8L259.6 1036.8L156.9 1001.5ZM259.6 1036.8L259.6 1001.5L156.9 1001.5ZM259.6 1036.8L362.3 1036.8L259.6 1001.5ZM362.3 1036.8L362.3 1001.5L259.6 1001.5ZM362.3 1036.8L465.0 1036.8L362.3 1001.5ZM465.0 1036.8L465.0 1001.5L362.3 1001.5ZM465.0 1036.8L567.7 1036.8L465.0 1001.5ZM567.7 1036.8L567.7 1001.5L465.0 1001.5ZM54.2 1001.5L156.9 1001.5L54.2 931.0ZM156.9 1001.5L156.9 931.0L54.2 931.0ZM156.9 1001.5L259.6 1001.5L156.9 931.0ZM259.6 1001.5L259.6 931.0L156.9 931.0ZM259.6 1001.5L362.3 1001.5L259.6 931.0ZM362.3 1001.5L362.3 931.0L259.6 931.0ZM362.3 1001.5L465.0 1001.5L362.3 931.0ZM465.0 1001.5L465.0 931.0L362.3 931.0ZM465.0 1001.5L567.7 1001.5L465.0 931.0ZM567.7 1001.5L567.7 931.0L465.0 931.0ZM54.2 931.0L156.9 931.0L54.2 790.0ZM156.9 931.0L156.9 790.0L54.2 790.0ZM156.9 931.0L259.6 931.0L156.9 790.0ZM259.6 931.0L259.6 790.0L156.9 790.0ZM259.6 931.0L362.3 931.0L259.6 790.0ZM362.3 931.0L362.3 790.0L259.6 790.0ZM362.3 931.0L465.0 931.0L465.0 790.0ZM362.3 931.0L465.0 790.0L362.3 790.0ZM465.0 931.0L567.7 931.0L465.0 790.0ZM567.7 931.0L567.7 790.0L465.0 790.0ZM54.2 790.0L156.9 790.0L54.2 613.7ZM156.9 790.0L156.9 613.7L54.2 613.7ZM156.9 790.0L259.6 790.0L156.9 613.7ZM259.6 790.0L259.6 613.7L156.9 613.7ZM259.6 790.0L362.3 790.0L259.6 613.7ZM362.3 790.0L362.3 613.7L259.6 613.7ZM362.3 790.0L465.0 790.0L362.3 613.7ZM465.0 790.0L465.0 613.7L362.3 613.7ZM465.0 790.0L567.7 790.0L465.0 613.7ZM567.7 790.0L567.7 613.7L465.0 613.7Z"/>
<path fill="#0057ff" stroke="#0057ff" stroke-width="0.4" d="M59.0 1056.9L156.9 1056.9L54.2 1036.8L54.2 1055.9ZM156.9 1056.9L156.9 1036.8L54.2 1036.8ZM156.9 1056.9L259.6 1056.9L156.9 1036.8ZM259.6 1056.9L259.6 1036.8L156.9 1036.8ZM259.6 1056.9L362.3 1056.9L259.6 1036.8ZM362.3 1056.9L362.3 1036.8L259.6 1036.8ZM362.3 1056.9L465.0 1056.9L362.3 1036.8ZM465.0 1056.9L465.0 1036.8L362.3 1036.8ZM465.0 1056.9L493.9 1056.9L536.1 1050.7L465.0 1036.8ZM567.7 1039.5L567.7 1036.8L465.0 1036.8L536.1 1050.7ZM54.2 1036.8L156.9 1036.8L54.2 1001.5ZM156.9 1036.8L156.9 1001.5L54.2 1001.5ZM156.9 1036.8L259.6 1036.8L156.9 1001.5ZM259.6 1036.8L259.6 1001.5L156.9 1001.5ZM259.6 1036.8L362.3 1036.8L259.6 1001.5ZM362.3 1036.8L362.3 1001.5L259.6 1001.5ZM362.3 1036.8L465.0 1036.8L362.3 1001.5ZM465.0 1036.8L465.0 1001.5L362.3 1001.5ZM465.0 1036.8L567.7 1036.8L465.0 1001.5ZM567.7 1036.8L567.7 1001.5L465.0 1001.5ZM54.2 1001.5L156.9 1001.5L54.2 931.0ZM156.9 1001.5L156.9 931.0L54.2 931.0ZM156.9 1001.5L259.6 1001.5L156.9 931.0ZM259.6 1001.5L259.6 931.0L156.9 931.0ZM259.6 1001.5L362.3 1001.5L259.6 931.0ZM362.3 1001.5L362.3 931.0L259.6 931.0ZM362.3 1001.5L465.0 1001.5L362.3 931.0ZM465.0 1001.5L465.0 931.0L362.3 931.0ZM465.0 1001.5L567.7 1001.5L465.0 931.0ZM567.7 1001.5L567.7 931.0L465.0 931.0ZM54.2 931.0L156.9 931.0L54.2 790.0ZM156.9 931.0L156.9 790.0L54.2 790.0ZM156.9 931.0L259.6 931.0L156.9 790.0ZM259.6 931.0L259.6 790.0L156.9 790.0ZM259.6 931.0L362.3 931.0L259.6 790.0ZM362.3 931.0L362.3 790.0L259.6 790.0ZM362.3 931.0L465.0 931.0L465.0 790.0ZM362.3 931.0L465.0 790.0L362.3 790.0ZM465.0 931.0L567.7 931.0L465.0 790.0ZM567.7 931.0L567.7 790.0L465.0 790.0ZM54.2 790.0L156.9 790.0L54.2 613.7ZM156.9 790.0L156.9 613.7L54.2 613.7ZM156.9 790.0L259.6 790.0L156.9 613.7ZM259.6 790.0L259.6 613.7L156.9 613.7ZM259.6 790.0L362.3 790.0L259.6 613.7ZM362.3 790.0L362.3 613.7L259.6 613.7ZM362.3 790.0L465.0 790.0L362.3 613.7ZM465.0 790.0L465.0 613.7L362.3 613.7ZM465.0 790.0L567.7 790.0L465.0 613.7ZM567.7 790.0L567.7 613.7L465.0 613.7Z"/>
<path fill="#006dff" stroke="#006dff" stroke-width="0.4" d="M68.1 1056.9L156.9 1056.9L54.2 1036.8L54.2 1054.0ZM156.9 1056.9L156.9 1036.8L54.2 1036.8ZM156.9 1056.9L259.6 1056.9L156.9 1036.8ZM259.6 1056.9L259.6 1036.8L156.9 1036.8ZM259.6 1056.9L362.3 1056.9L259.6 1036.8ZM362.3 1056.9L362.3 1036.8L259.6 1036.8ZM362.3 1056.9L465.0 1056.9L362.3 1036.8ZM465.0 1056.9L465.0 1036.8L362.3 1036.8ZM465.0 1056.9L475.4 1056.9L528.2 1049.1L465.0 1036.8ZM563.2 1036.8L465.0 1036.8L528.2 1049.1ZM54.2 1036.8L156.9 1036.8L54.2 1001.5ZM156.9 1036.8L156.9 1001.5L54.2 1001.5ZM156.9 1036.8L259.6 1036.8L156.9 1001.5ZM259.6 1036.8L259.6 1001.5L156.9 1001.5ZM259.6 1036.8L362.3 1036.8L259.6 1001.5ZM362.3 1036.8L362.3 1001.5L259.6 1001.5ZM362.3 1036.8L465.0 1036.8L362.3 1001.5ZM465.0 1036.8L465.0 1001.5L362.3 1001.5ZM465.0 1036.8L563.2 1036.8L564.8 1035.8L465.0 1001.5ZM567.7 1035.1L567.7 1001.5L465.0 1001.5L564.8 1035.8ZM54.2 1001.5L156.9 1001.5L54.2 931.0ZM156.9 1001.5L156.9 931.0L54.2 931.0ZM156.9 1001.5L259.6 1001.5L156.9 931.0ZM259.6 1001.5L259.6 931.0L156.9 931.0ZM259.6 1001.5L362.3 1001.5L259.6 931.0ZM362.3 1001.5L362.3 931.0L259.6 931.0ZM362.3 1001.5L465.0 1001.5L362.3 931.0ZM465.0 1001.5L465.0 931.0L362.3 931.0ZM465.0 1001.5L567.7 1001.5L465.0 931.0ZM567.7 1001.5L567.7 931.0L465.0 931.0ZM54.2 931.0L156.9 931.0L54.2 790.0ZM156.9 931.0L156.9 790.0L54.2 790.0ZM156.9 931.0L259.6 931.0L156.9 790.0ZM259.6 931.0L259.6 790.0L156.9 790.0ZM259.6 931.0L362.3 931.0L259.6 790.0ZM362.3 931.0L362.3 790.0L259.6 790.0ZM362.3 931.0L465.0 931.0L465.0 790.0ZM362.3 931.0L465.0 790.0L362.3 790.0ZM465.0 931.0L567.7 931.0L465.0 790.0ZM567.7 931.0L567.7 790.0L465.0 790.0ZM54.2 790.0L156.9 790.0L54.2 613.7ZM156.9 790.0L156.9 613.7L54.2 613.7ZM156.9 790.0L259.6 790.0L156.9 613.7ZM259.6 790.0L259.6 613.7L156.9 613.7ZM259.6 790.0L362.3 790.0L259.6 613.7ZM362.3 790.0L362.3 613.7L259.6 613.7ZM362.3 790.0L465.0 790.0L362.3 613.7ZM465.0 790.0L465.0 613.7L362.3 613.7ZM465.0 790.0L567.7 790.0L465.0 613.7ZM567.7 790.0L567.7 613.7L465.0 613.7Z"/>
<path fill="#0082ff" stroke="#0082ff" stroke-width="0.4" d="M77.2 1056.9L156.9 1056.9L54.2 1036.8L54.2 1052.0ZM156.9 1056.9L156.9 1036.8L54.2 1036.8ZM156.9 1056.9L259.6 1056.9L156.9 1036.8ZM259.6 1056.9L259.6 1036.8L156.9 1036.8ZM259.6 1056.9L362.3 1056.9L259.6 1036.8ZM362.3 1056.9L362.3 1036.8L259.6 1036.8ZM362.3 1056.9L455.1 1056.9L460.5 1056.0L362.3 1036.8ZM465.0 1055.7L465.0 1036.8L362.3 1036.8L460.5 1056.0ZM520.2 1047.6L465.0 1036.8L465.0 1055.7ZM550.9 1036.8L465.0 1036.8L520.2 1047.6ZM54.2 1036.8L156.9 1036.8L54.2 1001.5ZM156.9 1036.8L156.9 1001.5L54.2 1001.5ZM156.9 1036.8L259.6 1036.8L156.9 1001.5ZM259.6 1036.8L259.6 1001.5L156.9 1001.5ZM259.6 1036.8L362.3 1036.8L259.6 1001.5ZM362.3 1036.8L362.3 1001.5L259.6 1001.5ZM362.3 1036.8L465.0 1036.8L362.3 1001.5ZM465.0 1036.8L465.0 1001.5L362.3 1001.5ZM465.0 1036.8L550.9 1036.8L556.9 1033.1L465.0 1001.5ZM567.7 1030.6L567.7 1001.5L465.0 1001.5L556.9 1033.1ZM54.2 1001.5L156.9 1001.5L54.2 931.0ZM156.9 1001.5L156.9 931.0L54.2 931.0ZM156.9 1001.5L259.6 1001.5L156.9 931.0ZM259.6 1001.5L259.6 931.0L156.9 931.0ZM259.6 1001.5L362.3 1001.5L259.6 931.0ZM362.3 1001.5L362.3 931.0L259.6 931.0ZM362.3 1001.5L465.0 1001.5L362.3 931.0ZM465.0 1001.5L465.0 931.0L362.3 931.0ZM465.0 1001.5L567.7 1001.5L465.0 931.0ZM567.7 1001.5L567.7 931.0L465.0 931.0ZM54.2 931.0L156.9 931.0L54.2 790.0ZM156.9 931.0L156.9 790.0L54.2 790.0ZM156.9 931.0L259.6 931.0L156.9 790.0ZM259.6 931.0L259.6 790.0L156.9 790.0ZM259.6 931.0L362.3 931.0L259.6 790.0ZM362.3 931.0L362.3 790.0L259.6 790.0ZM362.3 931.0L465.0 931.0L465.0 790.0ZM362.3 931.0L465.0 790.0L362.3 790.0ZM465.0 931.0L567.7 931.0L465.0 790.0ZM567.7 931.0L567.7 790.0L465.0 790.0ZM54.2 790.0L156.9 790.0L54.2 613.7ZM156.9 790.0L156.9 613.7L54.2 613.7ZM156.9 790.0L259.6 790.0L156.9 613.7ZM259.6 790.0L259.6 613.7L156.9 613.7ZM259.6 790.0L362.3 790.0L259.6 613.7ZM362.3 790.0L362.3 613.7L259.6 613.7ZM362.3 790.0L465.0 790.0L362.3 613.7ZM465.0 790.0L465.0 613.7L362.3 613.7ZM465.0 790.0L567.7 790.0L465.0 613.7ZM567.7 790.0L567.7 613.7L465.0 613.7Z"/>
<path fill="#0098ff" stroke="#0098ff" stroke-width="0.4" d="M86.4 1056.9L156.9 1056.9L54.2 1036.8L54.2 1050.1ZM156.9 1056.9L156.9 1036.8L54.2 1036.8ZM156.9 1056.9L259.6 1056.9L156.9 1036.8ZM259.6 1056.9L259.6 1036.8L156.9 1036.8ZM259.6 1056.9L362.3 1056.9L259.6 1036.8ZM362.3 1056.9L362.3 1036.8L259.6 1036.8ZM362.3 1056.9L432.4 1056.9L450.2 1054.0L362.3 1036.8ZM465.0 1053.0L465.0 1036.8L362.3 1036.8L450.2 1054.0ZM512.3 1046.0L465.0 1036.8L465.0 1053.0ZM538.6 1036.8L465.0 1036.8L512.3 1046.0ZM54.2 1036.8L156.9 1036.8L54.2 1001.5ZM156.9 1036.8L156.9 1001.5L54.2 1001.5ZM156.9 1036.8L259.6 1036.8L156.9 1001.5ZM259.6 1036.8L259.6 1001.5L156.9 1001.5ZM259.6 1036.8L362.3 1036.8L259.6 1001.5ZM362.3 1036.8L362.3 1001.5L259.6 1001.5ZM362.3 1036.8L465.0 1036.8L362.3 1001.5ZM465.0 1036.8L465.0 1001.5L362.3 1001.5ZM465.0 1036.8L538.6 1036.8L549.0 1030.3L465.0 1001.5ZM567.7 1026.0L567.7 1001.5L465.0 1001.5L549.0 1030.3ZM54.2 1001.5L156.9 1001.5L54.2 931.0ZM156.9 1001.5L156.9 931.0L54.2 931.0ZM156.9 1001.5L259.6 1001.5L156.9 931.0ZM259.6 1001.5L259.6 931.0L156.9 931.0ZM259.6 1001.5L362.3 1001.5L259.6 931.0ZM362.3 1001.5L362.3 931.0L259.6 931.0ZM362.3 1001.5L465.0 1001.5L362.3 931.0ZM465.0 1001.5L465.0 931.0L362.3 931.0ZM465.0 1001.5L567.7 1001.5L465.0 931.0ZM567.7 1001.5L567.7 931.0L465.0 931.0ZM54.2 931.0L156.9 931.0L54.2 790.0ZM156.9 931.0L156.9 790.0L54.2 790.0ZM156.9 931.0L259.6 931.0L156.9 790.0ZM259.6 931.0L259.6 790.0L156.9 790.0ZM259.6 931.0L362.3 931.0L259.6 790.0ZM362.3 931.0L362.3 790.0L259.6 790.0ZM362.3 931.0L465.0 931.0L465.0 790.0ZM362.3 931.0L465.0 790.0L362.3 790.0ZM465.0 931.0L567.7 931.0L465.0 790.0ZM567.7 931.0L567.7 790.0L465.0 790.0ZM54.2 790.0L156.9 790.0L54.2 613.7ZM156.9 790.0L156.9 613.7L54.2 613.7ZM156.9 790.0L259.6 790.0L156.9 613.7ZM259.6 790.0L259.6 613.7L156.9 613.7ZM259.6 790.0L362.3 790.0L259.6 613.7ZM362.3 790.0L362.3 613.7L259.6 613.7ZM362.3 790.0L465.0 790.0L362.3 613.7ZM465.0 790.0L465.0 613.7L362.3 613.7ZM465.0 790.0L567.7 790.0L465.0 613.7ZM567.7 790.0L567.7 613.7L465.0 613.7Z"/>
<path fill="#00aeff" stroke="#00aeff" stroke-width="0.4" d="M95.5 1056.9L156.9 1056.9L54.2 1036.8L54.2 1048.2ZM156.9 1056.9L156.9 1036.8L54.2 1036.8ZM156.9 1056.9L259.6 1056.9L156.9 1036.8ZM259.6 1056.9L259.6 1036.8L156.9 1036.8ZM259.6 1056.9L362.3 1056.9L259.6 1036.8ZM362.3 1056.9L362.3 1036.8L259.6 1036.8ZM362.3 1056.9L409.7 1056.9L439.9 1052.0L362.3 1036.8ZM465.0 1050.3L465.0 1036.8L362.3 1036.8L439.9 1052.0ZM504.4 1044.5L465.0 1036.8L465.0 1050.3ZM526.3 1036.8L465.0 1036.8L504.4 1044.5ZM54.2 1036.8L156.9 1036.8L54.2 1001.5ZM156.9 1036.8L156.9 1001.5L54.2 1001.5ZM156.9 1036.8L259.6 1036.8L156.9 1001.5ZM259.6 1036.8L259.6 1001.5L156.9 1001.5ZM259.6 1036.8L362.3 1036.8L259.6 1001.5ZM362.3 1036.8L362.3 1001.5L259.6 1001.5ZM362.3 1036.8L465.0 1036.8L362.3 1001.5ZM465.0 1036.8L465.0 1001.5L362.3 1001.5ZM465.0 1036.8L526.3 1036.8L541.1 1027.6L465.0 1001.5ZM567.7 1021.5L567.7 1001.5L465.0 1001.5L541.1 1027.6ZM54.2 1001.5L156.9 1001.5L54.2 931.0ZM156.9 1001.5L156.9 931.0L54.2 931.0ZM156.9 1001.5L259.6 1001.5L156.9 931.0ZM259.6 1001.5L259.6 931.0L156.9 931.0ZM259.6 1001.5L362.3 1001.5L259.6 931.0ZM362.3 1001.5L362.3 931.0L259.6 931.0ZM362.3 1001.5L465.0 1001.5L362.3 931.0ZM465.0 1001.5L465.0 931.0L362.3 931.0ZM465.0 1001.5L567.7 1001.5L465.0 931.0ZM567.7 1001.5L567.7 931.0L465.0 931.0ZM54.2 931.0L156.9 931.0L54.2 790.0ZM156.9 931.0L156.9 790.0L54.2 790.0ZM156.9 931.0L259.6 931.0L156.9 790.0ZM259.6 931.0L259.6 790.0L156.9 790.0ZM259.6 931.0L362.3 931.0L259.6 790.0ZM362.3 931.0L362.3 790.0L259.6 790.0ZM362.3 931.0L465.0 931.0L465.0 790.0ZM362.3 931.0L465.0 790.0L362.3 790.0ZM465.0 931.0L567.7 931.0L465.0 790.0ZM567.7 931.0L567.7 790.0L465.0 790.0ZM54.2 790.0L156.9 790.0L54.2 613.7ZM156.9 790.0L156.9 613.7L54.2 613.7ZM156.9 790.0L259.6 790.0L156.9 613.7ZM259.6 790.0L259.6 613.7L156.9 613.7ZM259.6 790.0L362.3 790.0L259.6 613.7ZM362.3 790.0L362.3 613.7L259.6 613.7ZM362.3 790.0L465.0 790.0L362.3 613.7ZM465.0 790.0L465.0 613.7L362.3 613.7ZM465.0 790.0L567.7 790.0L465.0 613.7ZM567.7 790.0L567.7 613.7L465.0 613.7Z"/>
<path fill="#00c3ff" stroke="#00c3ff" stroke-width="0.4" d="M104.6 1056.9L156.9 1056.9L54.2 1036.8L54.2 1046.2ZM156.9 1056.9L156.9 1036.8L54.2 1036.8ZM156.9 1056.9L259.6 1056.9L156.9 1036.8ZM259.6 1056.9L259.6 1036.8L156.9 1036.8ZM259.6 1056.9L362.3 1056.9L259.6 1036.8ZM362.3 1056.9L362.3 1036.8L259.6 1036.8ZM362.3 1056.9L387.0 1056.9L429.6 1050.0L362.3 1036.8ZM465.0 1047.6L465.0 1036.8L362.3 1036.8L429.6 1050.0ZM496.5 1042.9L465.0 1036.8L465.0 1047.6ZM514.0 1036.8L465.0 1036.8L496.5 1042.9ZM54.2 1036.8L156.9 1036.8L54.2 1001.5ZM156.9 1036.8L156.9 1001.5L54.2 1001.5ZM156.9 1036.8L259.6 1036.8L156.9 1001.5ZM259.6 1036.8L259.6 1001.5L156.9 1001.5ZM259.6 1036.8L362.3 1036.8L259.6 1001.5ZM362.3 1036.8L362.3 1001.5L259.6 1001.5ZM362.3 1036.8L465.0 1036.8L362.3 1001.5ZM465.0 1036.8L465.0 1001.5L362.3 1001.5ZM465.0 1036.8L514.0 1036.8L533.2 1024.9L465.0 1001.5ZM567.7 1017.0L567.7 1001.5L465.0 1001.5L533.2 1024.9ZM54.2 1001.5L156.9 1001.5L54.2 931.0ZM156.9 1001.5L156.9 931.0L54.2 931.0ZM156.9 1001.5L259.6 1001.5L156.9 931.0ZM259.6 1001.5L259.6 931.0L156.9 931.0ZM259.6 1001.5L362.3 1001.5L259.6 931.0ZM362.3 1001.5L362.3 931.0L259.6 931.0ZM362.3 1001.5L465.0 1001.5L362.3 931.0ZM465.0 1001.5L465.0 931.0L362.3 931.0ZM465.0 1001.5L567.7 1001.5L465.0 931.0ZM567.7 1001.5L567.7 931.0L465.0 931.0ZM54.2 931.0L156.9 931.0L54.2 790.0ZM156.9 931.0L156.9 790.0L54.2 790.0ZM156.9 931.0L259.6 931.0L156.9 790.0ZM259.6 931.0L259.6 790.0L156.9 790.0ZM259.6 931.0L362.3 931.0L259.6 790.0ZM362.3 931.0L362.3 790.0L259.6 790.0ZM362.3 931.0L465.0 931.0L465.0 790.0ZM362.3 931.0L465.0 790.0L362.3 790.0ZM465.0 931.0L567.7 931.0L465.0 790.0ZM567.7 931.0L567.7 790.0L465.0 790.0ZM54.2 790.0L156.9 790.0L54.2 613.7ZM156.9 790.0L156.9 613.7L54.2 613.7ZM156.9 790.0L259.6 790.0L156.9 613.7ZM259.6 790.0L259.6 613.7L156.9 613.7ZM259.6 790.0L362.3 790.0L259.6 613.7ZM362.3 790.0L362.3 613.7L259.6 613.7ZM362.3 790.0L465.0 790.0L362.3 613.7ZM465.0 790.0L465.0 613.7L362.3 613.7ZM465.0 790.0L567.7 790.0L465.0 613.7ZM567.7 790.0L567.7 613.7L465.0 613.7Z"/>
<path fill="#00d9ff" stroke="#00d9ff" stroke-width="0.4" d="M113.8 1056.9L156.9 1056.9L54.2 1036.8L54.2 1044.3ZM156.9 1056.9L156.9 1036.8L54.2 1036.8ZM156.9 1056.9L259.6 1056.9L156.9 1036.8ZM259.6 1056.9L259.6 1036.8L156.9 1036.8ZM259.6 1056.9L362.3 1056.9L259.6 1036.8ZM362.3 1056.9L362.3 1036.8L259.6 1036.8ZM362.3 1056.9L364.3 1056.9L419.3 1047.9L362.3 1036.8ZM465.0 1044.9L465.0 1036.8L362.3 1036.8L419.3 1047.9ZM488.6 1041.4L465.0 1036.8L465.0 1044.9ZM501.7 1036.8L465.0 1036.8L488.6 1041.4ZM54.2 1036.8L156.9 1036.8L54.2 1001.5ZM156.9 1036.8L156.9 1001.5L54.2 1001.5ZM156.9 1036.8L259.6 1036.8L156.9 1001.5ZM259.6 1036.8L259.6 1001.5L156.9 1001.5ZM259.6 1036.8L362.3 1036.8L259.6 1001.5ZM362.3 1036.8L362.3 1001.5L259.6 1001.5ZM362.3 1036.8L465.0 1036.8L362.3 1001.5ZM465.0 1036.8L465.0 1001.5L362.3 1001.5ZM465.0 1036.8L501.7 1036.8L525.3 1022.2L465.0 1001.5ZM567.7 1012.4L567.7 1001.5L465.0 1001.5L525.3 1022.2ZM54.2 1001.5L156.9 1001.5L54.2 931.0ZM156.9 1001.5L156.9 931.0L54.2 931.0ZM156.9 1001.5L259.6 1001.5L156.9 931.0ZM259.6 1001.5L259.6 931.0L156.9 931.0ZM259.6 1001.5L362.3 1001.5L259.6 931.0ZM362.3 1001.5L362.3 931.0L259.6 931.0ZM362.3 1001.5L465.0 1001.5L362.3 931.0ZM465.0 1001.5L465.0 931.0L362.3 931.0ZM465.0 1001.5L567.7 1001.5L465.0 931.0ZM567.7 1001.5L567.7 931.0L465.0 931.0ZM54.2 931.0L156.9 931.0L54.2 790.0ZM156.9 931.0L156.9 790.0L54.2 790.0ZM156.9 931.0L259.6 931.0L156.9 790.0ZM259.6 931.0L259.6 790.0L156.9 790.0ZM259.6 931.0L362.3 931.0L259.6 790.0ZM362.3 931.0L362.3 790.0L259.6 790.0ZM362.3 931.0L465.0 931.0L465.0 790.0ZM362.3 931.0L465.0 790.0L362.3 790.0ZM465.0 931.0L567.7 931.0L465.0 790.0ZM567.7 931.0L567.7 790.0L465.0 790.0ZM54.2 790.0L156.9 790.0L54.2 613.7ZM156.9 790.0L156.9 613.7L54.2 613.7ZM156.9 790.0L259.6 790.0L156.9 613.7ZM259.6 790.0L259.6 613.7L156.9 613.7ZM259.6 790.0L362.3 790.0L259.6 613.7ZM362.3 790.0L362.3 613.7L259.6 613.7ZM362.3 790.0L465.0 790.0L362.3 613.7ZM465.0 790.0L465.0 613.7L362.3 613.7ZM465.0 790.0L567.7 790.0L465.0 613.7ZM567.7 790.0L567.7 613.7L465.0 613.7Z"/>
<path fill="#00efff" stroke="#00efff" stroke-width="0.4" d="M122.9 1056.9L156.9 1056.9L54.2 1036.8L54.2 1042.4ZM156.9 1056.9L156.9 1036.8L54.2 1036.8ZM156.9 1056.9L259.6 1056.9L156.9 1036.8ZM259.6 1056.9L259.6 1036.8L156.9 1036.8ZM259.6 1056.9L281.4 1056.9L344.3 1053.4L259.6 1036.8ZM362.3 1053.5L362.3 1036.8L259.6 1036.8L344.3 1053.4ZM409.0 1045.9L362.3 1036.8L362.3 1053.5ZM465.0 1042.1L465.0 1036.8L362.3 1036.8L409.0 1045.9ZM480.7 1039.8L465.0 1036.8L465.0 1042.1ZM489.4 1036.8L465.0 1036.8L480.7 1039.8ZM54.2 1036.8L156.9 1036.8L54.2 1001.5ZM156.9 1036.8L156.9 1001.5L54.2 1001.5ZM156.9 1036.8L259.6 1036.8L156.9 1001.5ZM259.6 1036.8L259.6 1001.5L156.9 1001.5ZM259.6 1036.8L362.3 1036.8L259.6 1001.5ZM362.3 1036.8L362.3 1001.5L259.6 1001.5ZM362.3 1036.8L465.0 1036.8L362.3 1001.5ZM465.0 1036.8L465.0 1001.5L362.3 1001.5ZM465.0 1036.8L489.4 1036.8L517.4 1019.5L465.0 1001.5ZM567.7 1007.9L567.7 1001.5L465.0 1001.5L517.4 1019.5ZM54.2 1001.5L156.9 1001.5L54.2 931.0ZM156.9 1001.5L156.9 931.0L54.2 931.0ZM156.9 1001.5L259.6 1001.5L156.9 931.0ZM259.6 1001.5L259.6 931.0L156.9 931.0ZM259.6 1001.5L362.3 1001.5L259.6 931.0ZM362.3 1001.5L362.3 931.0L259.6 931.0ZM362.3 1001.5L465.0 1001.5L362.3 931.0ZM465.0 1001.5L465.0 931.0L362.3 931.0ZM465.0 1001.5L567.7 1001.5L465.0 931.0ZM567.7 1001.5L567.7 931.0L465.0 931.0ZM54.2 931.0L156.9 931.0L54.2 790.0ZM156.9 931.0L156.9 790.0L54.2 790.0ZM156.9 931.0L259.6 931.0L156.9 790.0ZM259.6 931.0L259.6 790.0L156.9 790.0ZM259.6 931.0L362.3 931.0L259.6 790.0ZM362.3 931.0L362.3 790.0L259.6 790.0ZM362.3 931.0L465.0 931.0L465.0 790.0ZM362.3 931.0L465.0 790.0L362.3 790.0ZM465.0 931.0L567.7 931.0L465.0 790.0ZM567.7 931.0L567.7 790.0L465.0 790.0ZM54.2 790.0L156.9 790.0L54.2 613.7ZM156.9 790.0L156.9 613.7L54.2 613.7ZM156.9 790.0L259.6 790.0L156.9 613.7ZM259.6 790.0L259.6 613.7L156.9 613.7ZM259.6 790.0L362.3 790.0L259.6 613.7ZM362.3 790.0L362.3 613.7L259.6 613.7ZM362.3 790.0L465.0 790.0L362.3 613.7ZM465.0 790.0L465.0 613.7L362.3 613.7ZM465.0 790.0L567.7 790.0L465.0 613.7ZM567.7 790.0L567.7 613.7L465.0 613.7Z"/>
<path fill="#00fffa" stroke="#00fffa" stroke-width="0.4" d="M132.0 1056.9L156.9 1056.9L54.2 1036.8L54.2 1040.4ZM156.9 1056.9L156.9 1036.8L54.2 1036.8ZM156.9 1056.9L237.3 1056.9L250.1 1055.0L156.9 1036.8ZM259.6 1053.2L259.6 1036.8L156.9 1036.8L250.1 1055.0ZM324.6 1049.5L259.6 1036.8L259.6 1053.2ZM362.3 1049.8L362.3 1036.8L259.6 1036.8L324.6 1049.5ZM398.7 1043.9L362.3 1036.8L362.3 1049.8ZM465.0 1039.4L465.0 1036.8L362.3 1036.8L398.7 1043.9ZM472.8 1038.3L465.0 1036.8L465.0 1039.4ZM477.1 1036.8L465.0 1036.8L472.8 1038.3ZM54.2 1036.8L156.9 1036.8L54.2 1001.5ZM156.9 1036.8L156.9 1001.5L54.2 1001.5ZM156.9 1036.8L259.6 1036.8L156.9 1001.5ZM259.6 1036.8L259.6 1001.5L156.9 1001.5ZM259.6 1036.8L362.3 1036.8L259.6 1001.5ZM362.3 1036.8L362.3 1001.5L259.6 1001.5ZM362.3 1036.8L465.0 1036.8L362.3 1001.5ZM465.0 1036.8L465.0 1001.5L362.3 1001.5ZM465.0 1036.8L477.1 1036.8L509.5 1016.8L465.0 1001.5ZM567.7 1003.3L567.7 1001.5L465.0 1001.5L509.5 1016.8ZM54.2 1001.5L156.9 1001.5L54.2 931.0ZM156.9 1001.5L156.9 931.0L54.2 931.0ZM156.9 1001.5L259.6 1001.5L156.9 931.0ZM259.6 1001.5L259.6 931.0L156.9 931.0ZM259.6 1001.5L362.3 1001.5L259.6 931.0ZM362.3 1001.5L362.3 931.0L259.6 931.0ZM362.3 1001.5L465.0 1001.5L362.3 931.0ZM465.0 1001.5L465.0 931.0L362.3 931.0ZM465.0 1001.5L567.7 1001.5L465.0 931.0ZM567.7 1001.5L567.7 931.0L465.0 931.0ZM54.2 931.0L156.9 931.0L54.2 790.0ZM156.9 931.0L156.9 790.0L54.2 790.0ZM156.9 931.0L259.6 931.0L156.9 790.0ZM259.6 931.0L259.6 790.0L156.9 790.0ZM259.6 931.0L362.3 931.0L259.6 790.0ZM362.3 931.0L362.3 790.0L259.6 790.0ZM362.3 931.0L465.0 931.0L465.0 790.0ZM362.3 931.0L465.0 790.0L362.3 790.0ZM465.0 931.0L567.7 931.0L465.0 790.0ZM567.7 931.0L567.7 790.0L465.0 790.0ZM54.2 790.0L156.9 790.0L54.2 613.7ZM156.9 790.0L156.9 613.7L54.2 613.7ZM156.9 790.0L259.6 790.0L156.9 613.7ZM259.6 790.0L259.6 613.7L156.9 613.7ZM259.6 790.0L362.3 790.0L259.6 613.7ZM362.3 790.0L362.3 613.7L259.6 613.7ZM362.3 790.0L465.0 790.0L362.3 613.7ZM465.0 790.0L465.0 613.7L362.3 613.7ZM465.0 790.0L567.7 790.0L465.0 613.7ZM567.7 790.0L567.7 613.7L465.0 613.7Z"/>
<path fill="#00ffe4" stroke="#00ffe4" stroke-width="0.4" d="M141.2 1056.9L156.9 1056.9L54.2 1036.8L54.2 1038.5ZM156.9 1056.9L156.9 1036.8L54.2 1036.8ZM156.9 1056.9L207.8 1056.9L237.4 1052.5L156.9 1036.8ZM259.6 1048.2L259.6 1036.8L156.9 1036.8L237.4 1052.5ZM305.0 1045.7L259.6 1036.8L259.6 1048.2ZM362.3 1046.1L362.3 1036.8L259.6 1036.8L305.0 1045.7ZM388.4 1041.9L362.3 1036.8L362.3 1046.1ZM464.4 1036.8L362.3 1036.8L388.4 1041.9ZM54.2 1036.8L156.9 1036.8L54.2 1001.5ZM156.9 1036.8L156.9 1001.5L54.2 1001.5ZM156.9 1036.8L259.6 1036.8L156.9 1001.5ZM259.6 1036.8L259.6 1001.5L156.9 1001.5ZM259.6 1036.8L362.3 1036.8L259.6 1001.5ZM362.3 1036.8L362.3 1001.5L259.6 1001.5ZM362.3 1036.8L464.4 1036.8L464.9 1036.7L362.3 1001.5ZM465.0 1036.6L465.0 1001.5L362.3 1001.5L464.9 1036.7ZM501.6 1014.1L465.0 1001.5L465.0 1036.6ZM556.0 1001.5L465.0 1001.5L501.6 1014.1ZM54.2 1001.5L156.9 1001.5L54.2 931.0ZM156.9 1001.5L156.9 931.0L54.2 931.0ZM156.9 1001.5L259.6 1001.5L156.9 931.0ZM259.6 1001.5L259.6 931.0L156.9 931.0ZM259.6 1001.5L362.3 1001.5L259.6 931.0ZM362.3 1001.5L362.3 931.0L259.6 931.0ZM362.3 1001.5L465.0 1001.5L362.3 931.0ZM465.0 1001.5L465.0 931.0L362.3 931.0ZM465.0 1001.5L556.0 1001.5L564.2 999.1L465.0 931.0ZM567.7 997.9L567.7 931.0L465.0 931.0L564.2 999.1ZM54.2 931.0L156.9 931.0L54.2 790.0ZM156.9 931.0L156.9 790.0L54.2 790.0ZM156.9 931.0L259.6 931.0L156.9 790.0ZM259.6 931.0L259.6 790.0L156.9 790.0ZM259.6 931.0L362.3 931.0L259.6 790.0ZM362.3 931.0L362.3 790.0L259.6 790.0ZM362.3 931.0L465.0 931.0L465.0 790.0ZM362.3 931.0L465.0 790.0L362.3 790.0ZM465.0 931.0L567.7 931.0L465.0 790.0ZM567.7 931.0L567.7 790.0L465.0 790.0ZM54.2 790.0L156.9 790.0L54.2 613.7ZM156.9 790.0L156.9 613.7L54.2 613.7ZM156.9 790.0L259.6 790.0L156.9 613.7ZM259.6 790.0L259.6 613.7L156.9 613.7ZM259.6 790.0L362.3 790.0L259.6 613.7ZM362.3 790.0L362.3 613.7L259.6 613.7ZM362.3 790.0L465.0 790.0L362.3 613.7ZM465.0 790.0L465.0 613.7L362.3 613.7ZM465.0 790.0L567.7 790.0L465.0 613.7ZM567.7 790.0L567.7 613.7L465.0 613.7Z"/>
<path fill="#00ffce" stroke="#00ffce" stroke-width="0.4" d="M150.3 1056.9L156.9 1056.9L65.2 1038.9ZM156.9 1056.9L156.9 1036.8L55.8 1036.8L65.2 1038.9ZM156.9 1056.9L178.3 1056.9L224.8 1050.1L156.9 1036.8ZM259.6 1043.2L259.6 1036.8L156.9 1036.8L224.8 1050.1ZM285.3 1041.8L259.6 1036.8L259.6 1043.2ZM362.3 1042.4L362.3 1036.8L259.6 1036.8L285.3 1041.8ZM378.1 1039.9L362.3 1036.8L362.3 1042.4ZM424.2 1036.8L362.3 1036.8L378.1 1039.9ZM55.8 1036.8L156.9 1036.8L54.2 1001.5L54.2 1036.5ZM156.9 1036.8L156.9 1001.5L54.2 1001.5ZM156.9 1036.8L259.6 1036.8L156.9 1001.5ZM259.6 1036.8L259.6 1001.5L156.9 1001.5ZM259.6 1036.8L362.3 1036.8L259.6 1001.5ZM362.3 1036.8L362.3 1001.5L259.6 1001.5ZM362.3 1036.8L424.2 1036.8L456.1 1033.7L362.3 1001.5ZM465.0 1029.0L465.0 1001.5L362.3 1001.5L456.1 1033.7ZM493.7 1011.3L465.0 1001.5L465.0 1029.0ZM536.3 1001.5L465.0 1001.5L493.7 1011.3ZM54.2 1001.5L156.9 1001.5L54.2 931.0ZM156.9 1001.5L156.9 931.0L54.2 931.0ZM156.9 1001.5L259.6 1001.5L156.9 931.0ZM259.6 1001.5L259.6 931.0L156.9 931.0ZM259.6 1001.5L362.3 1001.5L259.6 931.0ZM362.3 1001.5L362.3 931.0L259.6 931.0ZM362.3 1001.5L465.0 1001.5L362.3 931.0ZM465.0 1001.5L465.0 931.0L362.3 931.0ZM465.0 1001.5L536.3 1001.5L558.2 995.0L465.0 931.0ZM567.7 991.9L567.7 931.0L465.0 931.0L558.2 995.0ZM54.2 931.0L156.9 931.0L54.2 790.0ZM156.9 931.0L156.9 790.0L54.2 790.0ZM156.9 931.0L259.6 931.0L156.9 790.0ZM259.6 931.0L259.6 790.0L156.9 790.0ZM259.6 931.0L362.3 931.0L259.6 790.0ZM362.3 931.0L362.3 790.0L259.6 790.0ZM362.3 931.0L465.0 931.0L465.0 790.0ZM362.3 931.0L465.0 790.0L362.3 790.0ZM465.0 931.0L567.7 931.0L465.0 790.0ZM567.7 931.0L567.7 790.0L465.0 790.0ZM54.2 790.0L156.9 790.0L54.2 613.7ZM156.9 790.0L156.9 613.7L54.2 613.7ZM156.9 790.0L259.6 790.0L156.9 613.7ZM259.6 790.0L259.6 613.7L156.9 613.7ZM259.6 790.0L362.3 790.0L259.6 613.7ZM362.3 790.0L362.3 613.7L259.6 613.7ZM362.3 790.0L465.0 790.0L362.3 613.7ZM465.0 790.0L465.0 613.7L362.3 613.7ZM465.0 790.0L567.7 790.0L465.0 613.7ZM567.7 790.0L567.7 613.7L465.0 613.7Z"/>
<path fill="#00ffb8" stroke="#00ffb8" stroke-width="0.4" d="M156.9 1055.7L156.9 1036.8L74.7 1036.8ZM212.1 1047.6L156.9 1036.8L156.9 1055.7ZM259.6 1038.3L259.6 1036.8L156.9 1036.8L212.1 1047.6ZM265.6 1037.9L259.6 1036.8L259.6 1038.3ZM362.3 1038.7L362.3 1036.8L259.6 1036.8L265.6 1037.9ZM367.8 1037.8L362.3 1036.8L362.3 1038.7ZM383.9 1036.8L362.3 1036.8L367.8 1037.8ZM74.7 1036.8L156.9 1036.8L54.2 1001.5L54.2 1033.9ZM156.9 1036.8L156.9 1001.5L54.2 1001.5ZM156.9 1036.8L259.6 1036.8L156.9 1001.5ZM259.6 1036.8L259.6 1001.5L156.9 1001.5ZM259.6 1036.8L362.3 1036.8L259.6 1001.5ZM362.3 1036.8L362.3 1001.5L259.6 1001.5ZM362.3 1036.8L383.9 1036.8L447.3 1030.7L362.3 1001.5ZM465.0 1021.4L465.0 1001.5L362.3 1001.5L447.3 1030.7ZM485.7 1008.6L465.0 1001.5L465.0 1021.4ZM516.6 1001.5L465.0 1001.5L485.7 1008.6ZM54.2 1001.5L156.9 1001.5L54.2 931.0ZM156.9 1001.5L156.9 931.0L54.2 931.0ZM156.9 1001.5L259.6 1001.5L156.9 931.0ZM259.6 1001.5L259.6 931.0L156.9 931.0ZM259.6 1001.5L362.3 1001.5L259.6 931.0ZM362.3 1001.5L362.3 931.0L259.6 931.0ZM362.3 1001.5L465.0 1001.5L362.3 931.0ZM465.0 1001.5L465.0 931.0L362.3 931.0ZM465.0 1001.5L516.6 1001.5L552.3 990.9L465.0 931.0ZM567.7 985.9L567.7 931.0L465.0 931.0L552.3 990.9ZM54.2 931.0L156.9 931.0L54.2 790.0ZM156.9 931.0L156.9 790.0L54.2 790.0ZM156.9 931.0L259.6 931.0L156.9 790.0ZM259.6 931.0L259.6 790.0L156.9 790.0ZM259.6 931.0L362.3 931.0L259.6 790.0ZM362.3 931.0L362.3 790.0L259.6 790.0ZM362.3 931.0L465.0 931.0L465.0 790.0ZM362.3 931.0L465.0 790.0L362.3 790.0ZM465.0 931.0L567.7 931.0L465.0 790.0ZM567.7 931.0L567.7 790.0L465.0 790.0ZM54.2 790.0L156.9 790.0L54.2 613.7ZM156.9 790.0L156.9 613.7L54.2 613.7ZM156.9 790.0L259.6 790.0L156.9 613.7ZM259.6 790.0L259.6 613.7L156.9 613.7ZM259.6 790.0L362.3 790.0L259.6 613.7ZM362.3 790.0L362.3 613.7L259.6 613.7ZM362.3 790.0L465.0 790.0L362.3 613.7ZM465.0 790.0L465.0 613.7L362.3 613.7ZM465.0 790.0L567.7 790.0L465.0 613.7ZM567.7 790.0L567.7 613.7L465.0 613.7Z"/>
<path fill="#00ffa3" stroke="#00ffa3" stroke-width="0.4" d="M156.9 1051.4L156.9 1036.8L93.5 1036.8ZM199.4 1045.1L156.9 1036.8L156.9 1051.4ZM242.0 1036.8L156.9 1036.8L199.4 1045.1ZM93.5 1036.8L156.9 1036.8L54.2 1001.5L54.2 1031.3ZM156.9 1036.8L156.9 1001.5L54.2 1001.5ZM156.9 1036.8L242.0 1036.8L254.3 1034.9L156.9 1001.5ZM259.6 1034.5L259.6 1001.5L156.9 1001.5L254.3 1034.9ZM357.7 1035.2L259.6 1001.5L259.6 1034.5ZM362.3 1035.0L362.3 1001.5L259.6 1001.5L357.7 1035.2ZM438.6 1027.7L362.3 1001.5L362.3 1035.0ZM465.0 1013.8L465.0 1001.5L362.3 1001.5L438.6 1027.7ZM477.8 1005.9L465.0 1001.5L465.0 1013.8ZM497.0 1001.5L465.0 1001.5L477.8 1005.9ZM54.2 1001.5L156.9 1001.5L54.2 931.0ZM156.9 1001.5L156.9 931.0L54.2 931.0ZM156.9 1001.5L259.6 1001.5L156.9 931.0ZM259.6 1001.5L259.6 931.0L156.9 931.0ZM259.6 1001.5L362.3 1001.5L259.6 931.0ZM362.3 1001.5L362.3 931.0L259.6 931.0ZM362.3 1001.5L465.0 1001.5L362.3 931.0ZM465.0 1001.5L465.0 931.0L362.3 931.0ZM465.0 1001.5L497.0 1001.5L546.3 986.8L465.0 931.0ZM567.7 979.9L567.7 931.0L465.0 931.0L546.3 986.8ZM54.2 931.0L156.9 931.0L54.2 790.0ZM156.9 931.0L156.9 790.0L54.2 790.0ZM156.9 931.0L259.6 931.0L156.9 790.0ZM259.6 931.0L259.6 790.0L156.9 790.0ZM259.6 931.0L362.3 931.0L259.6 790.0ZM362.3 931.0L362.3 790.0L259.6 790.0ZM362.3 931.0L465.0 931.0L465.0 790.0ZM362.3 931.0L465.0 790.0L362.3 790.0ZM465.0 931.0L567.7 931.0L465.0 790.0ZM567.7 931.0L567.7 790.0L465.0 790.0ZM54.2 790.0L156.9 790.0L54.2 613.7ZM156.9 790.0L156.9 613.7L54.2 613.7ZM156.9 790.0L259.6 790.0L156.9 613.7ZM259.6 790.0L259.6 613.7L156.9 613.7ZM259.6 790.0L362.3 790.0L259.6 613.7ZM362.3 790.0L362.3 613.7L259.6 613.7ZM362.3 790.0L465.0 790.0L362.3 613.7ZM465.0 790.0L465.0 613.7L362.3 613.7ZM465.0 790.0L567.7 790.0L465.0 613.7ZM567.7 790.0L567.7 613.7L465.0 613.7Z"/>
<path fill="#00ff8d" stroke="#00ff8d" stroke-width="0.4" d="M156.9 1047.0L156.9 1036.8L112.4 1036.8ZM186.8 1042.6L156.9 1036.8L156.9 1047.0ZM216.7 1036.8L156.9 1036.8L186.8 1042.6ZM112.4 1036.8L156.9 1036.8L54.2 1001.5L54.2 1028.7ZM156.9 1036.8L156.9 1001.5L54.2 1001.5ZM156.9 1036.8L216.7 1036.8L246.8 1032.3L156.9 1001.5ZM259.6 1031.2L259.6 1001.5L156.9 1001.5L246.8 1032.3ZM347.9 1031.8L259.6 1001.5L259.6 1031.2ZM362.3 1031.1L362.3 1001.5L259.6 1001.5L347.9 1031.8ZM429.8 1024.7L362.3 1001.5L362.3 1031.1ZM465.0 1006.2L465.0 1001.5L362.3 1001.5L429.8 1024.7ZM469.9 1003.2L465.0 1001.5L465.0 1006.2ZM477.3 1001.5L465.0 1001.5L469.9 1003.2ZM54.2 1001.5L156.9 1001.5L54.2 931.0ZM156.9 1001.5L156.9 931.0L54.2 931.0ZM156.9 1001.5L259.6 1001.5L156.9 931.0ZM259.6 1001.5L259.6 931.0L156.9 931.0ZM259.6 1001.5L362.3 1001.5L259.6 931.0ZM362.3 1001.5L362.3 931.0L259.6 931.0ZM362.3 1001.5L465.0 1001.5L362.3 931.0ZM465.0 1001.5L465.0 931.0L362.3 931.0ZM465.0 1001.5L477.3 1001.5L540.4 982.7L465.0 931.0ZM567.7 973.8L567.7 931.0L465.0 931.0L540.4 982.7ZM54.2 931.0L156.9 931.0L54.2 790.0ZM156.9 931.0L156.9 790.0L54.2 790.0ZM156.9 931.0L259.6 931.0L156.9 790.0ZM259.6 931.0L259.6 790.0L156.9 790.0ZM259.6 931.0L362.3 931.0L259.6 790.0ZM362.3 931.0L362.3 790.0L259.6 790.0ZM362.3 931.0L465.0 931.0L465.0 790.0ZM362.3 931.0L465.0 790.0L362.3 790.0ZM465.0 931.0L567.7 931.0L465.0 790.0ZM567.7 931.0L567.7 790.0L465.0 790.0ZM54.2 790.0L156.9 790.0L54.2 613.7ZM156.9 790.0L156.9 613.7L54.2 613.7ZM156.9 790.0L259.6 790.0L156.9 613.7ZM259.6 790.0L259.6 613.7L156.9 613.7ZM259.6 790.0L362.3 790.0L259.6 613.7ZM362.3 790.0L362.3 613.7L259.6 613.7ZM362.3 790.0L465.0 790.0L362.3 613.7ZM465.0 790.0L465.0 613.7L362.3 613.7ZM465.0 790.0L567.7 790.0L465.0 613.7ZM567.7 790.0L567.7 613.7L465.0 613.7Z"/>
<path fill="#00ff77" stroke="#00ff77" stroke-width="0.4" d="M156.9 1042.7L156.9 1036.8L131.2 1036.8ZM174.1 1040.1L156.9 1036.8L156.9 1042.7ZM191.4 1036.8L156.9 1036.8L174.1 1040.1ZM131.2 1036.8L156.9 1036.8L54.2 1001.5L54.2 1026.1ZM156.9 1036.8L156.9 1001.5L54.2 1001.5ZM156.9 1036.8L191.4 1036.8L239.2 1029.7L156.9 1001.5ZM259.6 1027.8L259.6 1001.5L156.9 1001.5L239.2 1029.7ZM338.1 1028.4L259.6 1001.5L259.6 1027.8ZM362.3 1027.3L362.3 1001.5L259.6 1001.5L338.1 1028.4ZM421.0 1021.7L362.3 1001.5L362.3 1027.3ZM459.5 1001.5L362.3 1001.5L421.0 1021.7ZM54.2 1001.5L156.9 1001.5L54.2 931.0ZM156.9 1001.5L156.9 931.0L54.2 931.0ZM156.9 1001.5L259.6 1001.5L156.9 931.0ZM259.6 1001.5L259.6 931.0L156.9 931.0ZM259.6 1001.5L362.3 1001.5L259.6 931.0ZM362.3 1001.5L362.3 931.0L259.6 931.0ZM362.3 1001.5L459.5 1001.5L462.9 1000.0L362.3 931.0ZM465.0 999.3L465.0 931.0L362.3 931.0L462.9 1000.0ZM534.4 978.7L465.0 931.0L465.0 999.3ZM567.7 967.8L567.7 931.0L465.0 931.0L534.4 978.7ZM54.2 931.0L156.9 931.0L54.2 790.0ZM156.9 931.0L156.9 790.0L54.2 790.0ZM156.9 931.0L259.6 931.0L156.9 790.0ZM259.6 931.0L259.6 790.0L156.9 790.0ZM259.6 931.0L362.3 931.0L259.6 790.0ZM362.3 931.0L362.3 790.0L259.6 790.0ZM362.3 931.0L465.0 931.0L465.0 790.0ZM362.3 931.0L465.0 790.0L362.3 790.0ZM465.0 931.0L567.7 931.0L465.0 790.0ZM567.7 931.0L567.7 790.0L465.0 790.0ZM54.2 790.0L156.9 790.0L54.2 613.7ZM156.9 790.0L156.9 613.7L54.2 613.7ZM156.9 790.0L259.6 790.0L156.9 613.7ZM259.6 790.0L259.6 613.7L156.9 613.7ZM259.6 790.0L362.3 790.0L259.6 613.7ZM362.3 790.0L362.3 613.7L259.6 613.7ZM362.3 790.0L465.0 790.0L362.3 613.7ZM465.0 790.0L465.0 613.7L362.3 613.7ZM465.0 790.0L567.7 790.0L465.0 613.7ZM567.7 790.0L567.7 613.7L465.0 613.7Z"/>
<path fill="#00ff62" stroke="#00ff62" stroke-width="0.4" d="M156.9 1038.3L156.9 1036.8L150.1 1036.8ZM161.5 1037.7L156.9 1036.8L156.9 1038.3ZM166.1 1036.8L156.9 1036.8L161.5 1037.7ZM150.1 1036.8L156.9 1036.8L54.2 1001.5L54.2 1023.5ZM156.9 1036.8L156.9 1001.5L54.2 1001.5ZM156.9 1036.8L166.1 1036.8L231.6 1027.1L156.9 1001.5ZM259.6 1024.5L259.6 1001.5L156.9 1001.5L231.6 1027.1ZM328.2 1025.1L259.6 1001.5L259.6 1024.5ZM362.3 1023.4L362.3 1001.5L259.6 1001.5L328.2 1025.1ZM412.3 1018.6L362.3 1001.5L362.3 1023.4ZM445.0 1001.5L362.3 1001.5L412.3 1018.6ZM54.2 1001.5L156.9 1001.5L54.2 931.0ZM156.9 1001.5L156.9 931.0L54.2 931.0ZM156.9 1001.5L259.6 1001.5L156.9 931.0ZM259.6 1001.5L259.6 931.0L156.9 931.0ZM259.6 1001.5L362.3 1001.5L259.6 931.0ZM362.3 1001.5L362.3 931.0L259.6 931.0ZM362.3 1001.5L445.0 1001.5L457.2 996.1L362.3 931.0ZM465.0 993.4L465.0 931.0L362.3 931.0L457.2 996.1ZM528.5 974.6L465.0 931.0L465.0 993.4ZM567.7 961.8L567.7 931.0L465.0 931.0L528.5 974.6ZM54.2 931.0L156.9 931.0L54.2 790.0ZM156.9 931.0L156.9 790.0L54.2 790.0ZM156.9 931.0L259.6 931.0L156.9 790.0ZM259.6 931.0L259.6 790.0L156.9 790.0ZM259.6 931.0L362.3 931.0L259.6 790.0ZM362.3 931.0L362.3 790.0L259.6 790.0ZM362.3 931.0L465.0 931.0L465.0 790.0ZM362.3 931.0L465.0 790.0L362.3 790.0ZM465.0 931.0L567.7 931.0L465.0 790.0ZM567.7 931.0L567.7 790.0L465.0 790.0ZM54.2 790.0L156.9 790.0L54.2 613.7ZM156.9 790.0L156.9 613.7L54.2 613.7ZM156.9 790.0L259.6 790.0L156.9 613.7ZM259.6 790.0L259.6 613.7L156.9 613.7ZM259.6 790.0L362.3 790.0L259.6 613.7ZM362.3 790.0L362.3 613.7L259.6 613.7ZM362.3 790.0L465.0 790.0L362.3 613.7ZM465.0 790.0L465.0 613.7L362.3 613.7ZM465.0 790.0L567.7 790.0L465.0 613.7ZM567.7 790.0L567.7 613.7L465.0 613.7Z"/>
<path fill="#00ff4c" stroke="#00ff4c" stroke-width="0.4" d="M148.8 1034.0L54.2 1001.5L54.2 1020.9ZM156.9 1034.4L156.9 1001.5L54.2 1001.5L148.8 1034.0ZM224.0 1024.6L156.9 1001.5L156.9 1034.4ZM259.6 1021.2L259.6 1001.5L156.9 1001.5L224.0 1024.6ZM318.4 1021.7L259.6 1001.5L259.6 1021.2ZM362.3 1019.6L362.3 1001.5L259.6 1001.5L318.4 1021.7ZM403.5 1015.6L362.3 1001.5L362.3 1019.6ZM430.5 1001.5L362.3 1001.5L403.5 1015.6ZM54.2 1001.5L156.9 1001.5L54.2 931.0ZM156.9 1001.5L156.9 931.0L54.2 931.0ZM156.9 1001.5L259.6 1001.5L156.9 931.0ZM259.6 1001.5L259.6 931.0L156.9 931.0ZM259.6 1001.5L362.3 1001.5L259.6 931.0ZM362.3 1001.5L362.3 931.0L259.6 931.0ZM362.3 1001.5L430.5 1001.5L451.5 992.2L362.3 931.0ZM465.0 987.6L465.0 931.0L362.3 931.0L451.5 992.2ZM522.6 970.5L465.0 931.0L465.0 987.6ZM567.7 955.8L567.7 931.0L465.0 931.0L522.6 970.5ZM54.2 931.0L156.9 931.0L54.2 790.0ZM156.9 931.0L156.9 790.0L54.2 790.0ZM156.9 931.0L259.6 931.0L156.9 790.0ZM259.6 931.0L259.6 790.0L156.9 790.0ZM259.6 931.0L362.3 931.0L259.6 790.0ZM362.3 931.0L362.3 790.0L259.6 790.0ZM362.3 931.0L465.0 931.0L465.0 790.0ZM362.3 931.0L465.0 790.0L362.3 790.0ZM465.0 931.0L567.7 931.0L465.0 790.0ZM567.7 931.0L567.7 790.0L465.0 790.0ZM54.2 790.0L156.9 790.0L54.2 613.7ZM156.9 790.0L156.9 613.7L54.2 613.7ZM156.9 790.0L259.6 790.0L156.9 613.7ZM259.6 790.0L259.6 613.7L156.9 613.7ZM259.6 790.0L362.3 790.0L259.6 613.7ZM362.3 790.0L362.3 613.7L259.6 613.7ZM362.3 790.0L465.0 790.0L362.3 613.7ZM465.0 790.0L465.0 613.7L362.3 613.7ZM465.0 790.0L567.7 790.0L465.0 613.7ZM567.7 790.0L567.7 613.7L465.0 613.7Z"/>
<path fill="#00ff36" stroke="#00ff36" stroke-width="0.4" d="M136.2 1029.6L54.2 1001.5L54.2 1018.3ZM156.9 1030.7L156.9 1001.5L54.2 1001.5L136.2 1029.6ZM216.5 1022.0L156.9 1001.5L156.9 1030.7ZM259.6 1017.9L259.6 1001.5L156.9 1001.5L216.5 1022.0ZM308.5 1018.3L259.6 1001.5L259.6 1017.9ZM362.3 1015.7L362.3 1001.5L259.6 1001.5L308.5 1018.3ZM394.7 1012.6L362.3 1001.5L362.3 1015.7ZM416.0 1001.5L362.3 1001.5L394.7 1012.6ZM54.2 1001.5L156.9 1001.5L54.2 931.0ZM156.9 1001.5L156.9 931.0L54.2 931.0ZM156.9 1001.5L259.6 1001.5L156.9 931.0ZM259.6 1001.5L259.6 931.0L156.9 931.0ZM259.6 1001.5L362.3 1001.5L259.6 931.0ZM362.3 1001.5L362.3 931.0L259.6 931.0ZM362.3 1001.5L416.0 1001.5L445.8 988.3L362.3 931.0ZM465.0 981.8L465.0 931.0L362.3 931.0L445.8 988.3ZM516.6 966.4L465.0 931.0L465.0 981.8ZM567.7 949.8L567.7 931.0L465.0 931.0L516.6 966.4ZM54.2 931.0L156.9 931.0L54.2 790.0ZM156.9 931.0L156.9 790.0L54.2 790.0ZM156.9 931.0L259.6 931.0L156.9 790.0ZM259.6 931.0L259.6 790.0L156.9 790.0ZM259.6 931.0L362.3 931.0L259.6 790.0ZM362.3 931.0L362.3 790.0L259.6 790.0ZM362.3 931.0L465.0 931.0L465.0 790.0ZM362.3 931.0L465.0 790.0L362.3 790.0ZM465.0 931.0L567.7 931.0L465.0 790.0ZM567.7 931.0L567.7 790.0L465.0 790.0ZM54.2 790.0L156.9 790.0L54.2 613.7ZM156.9 790.0L156.9 613.7L54.2 613.7ZM156.9 790.0L259.6 790.0L156.9 613.7ZM259.6 790.0L259.6 613.7L156.9 613.7ZM259.6 790.0L362.3 790.0L259.6 613.7ZM362.3 790.0L362.3 613.7L259.6 613.7ZM362.3 790.0L465.0 790.0L362.3 613.7ZM465.0 790.0L465.0 613.7L362.3 613.7ZM465.0 790.0L567.7 790.0L465.0 613.7ZM567.7 790.0L567.7 613.7L465.0 613.7Z"/>
<path fill="#00ff21" stroke="#00ff21" stroke-width="0.4" d="M123.5 1025.3L54.2 1001.5L54.2 1015.7ZM156.9 1027.0L156.9 1001.5L54.2 1001.5L123.5 1025.3ZM208.9 1019.4L156.9 1001.5L156.9 1027.0ZM259.6 1014.6L259.6 1001.5L156.9 1001.5L208.9 1019.4ZM298.7 1014.9L259.6 1001.5L259.6 1014.6ZM362.3 1011.9L362.3 1001.5L259.6 1001.5L298.7 1014.9ZM385.9 1009.6L362.3 1001.5L362.3 1011.9ZM401.4 1001.5L362.3 1001.5L385.9 1009.6ZM54.2 1001.5L156.9 1001.5L54.2 931.0ZM156.9 1001.5L156.9 931.0L54.2 931.0ZM156.9 1001.5L259.6 1001.5L156.9 931.0ZM259.6 1001.5L259.6 931.0L156.9 931.0ZM259.6 1001.5L362.3 1001.5L259.6 931.0ZM362.3 1001.5L362.3 931.0L259.6 931.0ZM362.3 1001.5L401.4 1001.5L440.1 984.4L362.3 931.0ZM465.0 975.9L465.0 931.0L362.3 931.0L440.1 984.4ZM510.7 962.3L465.0 931.0L465.0 975.9ZM567.7 943.7L567.7 931.0L465.0 931.0L510.7 962.3ZM54.2 931.0L156.9 931.0L54.2 790.0ZM156.9 931.0L156.9 790.0L54.2 790.0ZM156.9 931.0L259.6 931.0L156.9 790.0ZM259.6 931.0L259.6 790.0L156.9 790.0ZM259.6 931.0L362.3 931.0L259.6 790.0ZM362.3 931.0L362.3 790.0L259.6 790.0ZM362.3 931.0L465.0 931.0L465.0 790.0ZM362.3 931.0L465.0 790.0L362.3 790.0ZM465.0 931.0L567.7 931.0L465.0 790.0ZM567.7 931.0L567.7 790.0L465.0 790.0ZM54.2 790.0L156.9 790.0L54.2 613.7ZM156.9 790.0L156.9 613.7L54.2 613.7ZM156.9 790.0L259.6 790.0L156.9 613.7ZM259.6 790.0L259.6 613.7L156.9 613.7ZM259.6 790.0L362.3 790.0L259.6 613.7ZM362.3 790.0L362.3 613.7L259.6 613.7ZM362.3 790.0L465.0 790.0L362.3 613.7ZM465.0 790.0L465.0 613.7L362.3 613.7ZM465.0 790.0L567.7 790.0L465.0 613.7ZM567.7 790.0L567.7 613.7L465.0 613.7Z"/>
<path fill="#00ff0b" stroke="#00ff0b" stroke-width="0.4" d="M110.9 1021.0L54.2 1001.5L54.2 1013.1ZM156.9 1023.3L156.9 1001.5L54.2 1001.5L110.9 1021.0ZM201.3 1016.8L156.9 1001.5L156.9 1023.3ZM259.6 1011.3L259.6 1001.5L156.9 1001.5L201.3 1016.8ZM288.8 1011.5L259.6 1001.5L259.6 1011.3ZM362.3 1008.0L362.3 1001.5L259.6 1001.5L288.8 1011.5ZM377.2 1006.6L362.3 1001.5L362.3 1008.0ZM386.9 1001.5L362.3 1001.5L377.2 1006.6ZM54.2 1001.5L156.9 1001.5L54.2 931.0ZM156.9 1001.5L156.9 931.0L54.2 931.0ZM156.9 1001.5L259.6 1001.5L156.9 931.0ZM259.6 1001.5L259.6 931.0L156.9 931.0ZM259.6 1001.5L362.3 1001.5L259.6 931.0ZM362.3 1001.5L362.3 931.0L259.6 931.0ZM362.3 1001.5L386.9 1001.5L434.5 980.5L362.3 931.0ZM465.0 970.1L465.0 931.0L362.3 931.0L434.5 980.5ZM504.7 958.3L465.0 931.0L465.0 970.1ZM567.7 937.7L567.7 931.0L465.0 931.0L504.7 958.3ZM54.2 931.0L156.9 931.0L54.2 790.0ZM156.9 931.0L156.9 790.0L54.2 790.0ZM156.9 931.0L259.6 931.0L156.9 790.0ZM259.6 931.0L259.6 790.0L156.9 790.0ZM259.6 931.0L362.3 931.0L259.6 790.0ZM362.3 931.0L362.3 790.0L259.6 790.0ZM362.3 931.0L465.0 931.0L465.0 790.0ZM362.3 931.0L465.0 790.0L362.3 790.0ZM465.0 931.0L567.7 931.0L465.0 790.0ZM567.7 931.0L567.7 790.0L465.0 790.0ZM54.2 790.0L156.9 790.0L54.2 613.7ZM156.9 790.0L156.9 613.7L54.2 613.7ZM156.9 790.0L259.6 790.0L156.9 613.7ZM259.6 790.0L259.6 613.7L156.9 613.7ZM259.6 790.0L362.3 790.0L259.6 613.7ZM362.3 790.0L362.3 613.7L259.6 613.7ZM362.3 790.0L465.0 790.0L362.3 613.7ZM465.0 790.0L465.0 613.7L362.3 613.7ZM465.0 790.0L567.7 790.0L465.0 613.7ZM567.7 790.0L567.7 613.7L465.0 613.7Z"/>
<path fill="#0bff00" stroke="#0bff00" stroke-width="0.4" d="M98.2 1016.6L54.2 1001.5L54.2 1010.5ZM156.9 1019.6L156.9 1001.5L54.2 1001.5L98.2 1016.6ZM193.8 1014.2L156.9 1001.5L156.9 1019.6ZM259.6 1008.0L259.6 1001.5L156.9 1001.5L193.8 1014.2ZM279.0 1008.2L259.6 1001.5L259.6 1008.0ZM362.3 1004.2L362.3 1001.5L259.6 1001.5L279.0 1008.2ZM368.4 1003.6L362.3 1001.5L362.3 1004.2ZM372.4 1001.5L362.3 1001.5L368.4 1003.6ZM54.2 1001.5L156.9 1001.5L54.2 931.0ZM156.9 1001.5L156.9 931.0L54.2 931.0ZM156.9 1001.5L259.6 1001.5L156.9 931.0ZM259.6 1001.5L259.6 931.0L156.9 931.0ZM259.6 1001.5L362.3 1001.5L259.6 931.0ZM362.3 1001.5L362.3 931.0L259.6 931.0ZM362.3 1001.5L372.4 1001.5L428.8 976.6L362.3 931.0ZM465.0 964.2L465.0 931.0L362.3 931.0L428.8 976.6ZM498.8 954.2L465.0 931.0L465.0 964.2ZM567.7 931.7L567.7 931.0L465.0 931.0L498.8 954.2ZM54.2 931.0L156.9 931.0L54.2 790.0ZM156.9 931.0L156.9 790.0L54.2 790.0ZM156.9 931.0L259.6 931.0L156.9 790.0ZM259.6 931.0L259.6 790.0L156.9 790.0ZM259.6 931.0L362.3 931.0L259.6 790.0ZM362.3 931.0L362.3 790.0L259.6 790.0ZM362.3 931.0L465.0 931.0L465.0 790.0ZM362.3 931.0L465.0 790.0L362.3 790.0ZM465.0 931.0L567.7 931.0L465.0 790.0ZM567.7 931.0L567.7 790.0L465.0 790.0ZM54.2 790.0L156.9 790.0L54.2 613.7ZM156.9 790.0L156.9 613.7L54.2 613.7ZM156.9 790.0L259.6 790.0L156.9 613.7ZM259.6 790.0L259.6 613.7L156.9 613.7ZM259.6 790.0L362.3 790.0L259.6 613.7ZM362.3 790.0L362.3 613.7L259.6 613.7ZM362.3 790.0L465.0 790.0L362.3 613.7ZM465.0 790.0L465.0 613.7L362.3 613.7ZM465.0 790.0L567.7 790.0L465.0 613.7ZM567.7 790.0L567.7 613.7L465.0 613.7Z"/>
<path fill="#21ff00" stroke="#21ff00" stroke-width="0.4" d="M85.6 1012.3L54.2 1001.5L54.2 1007.9ZM156.9 1015.8L156.9 1001.5L54.2 1001.5L85.6 1012.3ZM186.2 1011.6L156.9 1001.5L156.9 1015.8ZM259.6 1004.7L259.6 1001.5L156.9 1001.5L186.2 1011.6ZM269.2 1004.8L259.6 1001.5L259.6 1004.7ZM337.8 1001.5L259.6 1001.5L269.2 1004.8ZM54.2 1001.5L156.9 1001.5L54.2 931.0ZM156.9 1001.5L156.9 931.0L54.2 931.0ZM156.9 1001.5L259.6 1001.5L156.9 931.0ZM259.6 1001.5L259.6 931.0L156.9 931.0ZM259.6 1001.5L337.8 1001.5L360.5 1000.3L259.6 931.0ZM362.3 999.6L362.3 931.0L259.6 931.0L360.5 1000.3ZM423.1 972.7L362.3 931.0L362.3 999.6ZM465.0 958.4L465.0 931.0L362.3 931.0L423.1 972.7ZM492.8 950.1L465.0 931.0L465.0 958.4ZM551.4 931.0L465.0 931.0L492.8 950.1ZM54.2 931.0L156.9 931.0L54.2 790.0ZM156.9 931.0L156.9 790.0L54.2 790.0ZM156.9 931.0L259.6 931.0L156.9 790.0ZM259.6 931.0L259.6 790.0L156.9 790.0ZM259.6 931.0L362.3 931.0L259.6 790.0ZM362.3 931.0L362.3 790.0L259.6 790.0ZM362.3 931.0L465.0 931.0L465.0 790.0ZM362.3 931.0L465.0 790.0L362.3 790.0ZM465.0 931.0L551.4 931.0L549.5 906.0L465.0 790.0ZM567.7 911.1L567.7 790.0L465.0 790.0L549.5 906.0ZM54.2 790.0L156.9 790.0L54.2 613.7ZM156.9 790.0L156.9 613.7L54.2 613.7ZM156.9 790.0L259.6 790.0L156.9 613.7ZM259.6 790.0L259.6 613.7L156.9 613.7ZM259.6 790.0L362.3 790.0L259.6 613.7ZM362.3 790.0L362.3 613.7L259.6 613.7ZM362.3 790.0L465.0 790.0L362.3 613.7ZM465.0 790.0L465.0 613.7L362.3 613.7ZM465.0 790.0L567.7 790.0L465.0 613.7ZM567.7 790.0L567.7 613.7L465.0 613.7Z"/>
<path fill="#36ff00" stroke="#36ff00" stroke-width="0.4" d="M72.9 1007.9L54.2 1001.5L54.2 1005.3ZM156.9 1012.1L156.9 1001.5L54.2 1001.5L72.9 1007.9ZM178.6 1009.0L156.9 1001.5L156.9 1012.1ZM258.6 1001.5L156.9 1001.5L178.6 1009.0ZM54.2 1001.5L156.9 1001.5L54.2 931.0ZM156.9 1001.5L156.9 931.0L54.2 931.0ZM156.9 1001.5L258.6 1001.5L259.5 1001.4L156.9 931.0ZM259.6 1001.4L259.6 931.0L156.9 931.0L259.5 1001.4ZM354.5 996.2L259.6 931.0L259.6 1001.4ZM362.3 993.2L362.3 931.0L259.6 931.0L354.5 996.2ZM417.4 968.8L362.3 931.0L362.3 993.2ZM465.0 952.5L465.0 931.0L362.3 931.0L417.4 968.8ZM486.9 946.0L465.0 931.0L465.0 952.5ZM532.9 931.0L465.0 931.0L486.9 946.0ZM54.2 931.0L156.9 931.0L54.2 790.0ZM156.9 931.0L156.9 790.0L54.2 790.0ZM156.9 931.0L259.6 931.0L156.9 790.0ZM259.6 931.0L259.6 790.0L156.9 790.0ZM259.6 931.0L362.3 931.0L259.6 790.0ZM362.3 931.0L362.3 790.0L259.6 790.0ZM362.3 931.0L465.0 931.0L465.0 790.0ZM362.3 931.0L465.0 790.0L362.3 790.0ZM465.0 931.0L532.9 931.0L528.9 877.7L465.0 790.0ZM567.7 888.6L567.7 790.0L465.0 790.0L528.9 877.7ZM54.2 790.0L156.9 790.0L54.2 613.7ZM156.9 790.0L156.9 613.7L54.2 613.7ZM156.9 790.0L259.6 790.0L156.9 613.7ZM259.6 790.0L259.6 613.7L156.9 613.7ZM259.6 790.0L362.3 790.0L259.6 613.7ZM362.3 790.0L362.3 613.7L259.6 613.7ZM362.3 790.0L465.0 790.0L362.3 613.7ZM465.0 790.0L465.0 613.7L362.3 613.7ZM465.0 790.0L567.7 790.0L465.0 613.7ZM567.7 790.0L567.7 613.7L465.0 613.7Z"/>
<path fill="#4cff00" stroke="#4cff00" stroke-width="0.4" d="M60.3 1003.6L54.2 1001.5L54.2 1002.7ZM156.9 1008.4L156.9 1001.5L54.2 1001.5L60.3 1003.6ZM171.1 1006.4L156.9 1001.5L156.9 1008.4ZM223.1 1001.5L156.9 1001.5L171.1 1006.4ZM54.2 1001.5L156.9 1001.5L54.2 931.0ZM156.9 1001.5L156.9 931.0L54.2 931.0ZM156.9 1001.5L223.1 1001.5L254.5 998.0L156.9 931.0ZM259.6 997.0L259.6 931.0L156.9 931.0L254.5 998.0ZM348.6 992.1L259.6 931.0L259.6 997.0ZM362.3 986.7L362.3 931.0L259.6 931.0L348.6 992.1ZM411.8 964.9L362.3 931.0L362.3 986.7ZM465.0 946.7L465.0 931.0L362.3 931.0L411.8 964.9ZM480.9 941.9L465.0 931.0L465.0 946.7ZM514.5 931.0L465.0 931.0L480.9 941.9ZM54.2 931.0L156.9 931.0L54.2 790.0ZM156.9 931.0L156.9 790.0L54.2 790.0ZM156.9 931.0L259.6 931.0L156.9 790.0ZM259.6 931.0L259.6 790.0L156.9 790.0ZM259.6 931.0L362.3 931.0L259.6 790.0ZM362.3 931.0L362.3 790.0L259.6 790.0ZM362.3 931.0L465.0 931.0L465.0 790.0ZM362.3 931.0L465.0 790.0L362.3 790.0ZM465.0 931.0L514.5 931.0L508.3 849.4L465.0 790.0ZM567.7 866.0L567.7 790.0L465.0 790.0L508.3 849.4ZM54.2 790.0L156.9 790.0L54.2 613.7ZM156.9 790.0L156.9 613.7L54.2 613.7ZM156.9 790.0L259.6 790.0L156.9 613.7ZM259.6 790.0L259.6 613.7L156.9 613.7ZM259.6 790.0L362.3 790.0L259.6 613.7ZM362.3 790.0L362.3 613.7L259.6 613.7ZM362.3 790.0L465.0 790.0L362.3 613.7ZM465.0 790.0L465.0 613.7L362.3 613.7ZM465.0 790.0L567.7 790.0L465.0 613.7ZM567.7 790.0L567.7 613.7L465.0 613.7Z"/>
<path fill="#62ff00" stroke="#62ff00" stroke-width="0.4" d="M156.9 1004.7L156.9 1001.5L92.7 1001.5ZM163.5 1003.8L156.9 1001.5L156.9 1004.7ZM187.7 1001.5L156.9 1001.5L163.5 1003.8ZM92.7 1001.5L156.9 1001.5L54.2 931.0L54.2 999.3ZM156.9 1001.5L156.9 931.0L54.2 931.0ZM156.9 1001.5L187.7 1001.5L249.6 994.6L156.9 931.0ZM259.6 992.6L259.6 931.0L156.9 931.0L249.6 994.6ZM342.7 988.0L259.6 931.0L259.6 992.6ZM362.3 980.3L362.3 931.0L259.6 931.0L342.7 988.0ZM406.1 961.0L362.3 931.0L362.3 980.3ZM465.0 940.8L465.0 931.0L362.3 931.0L406.1 961.0ZM475.0 937.9L465.0 931.0L465.0 940.8ZM496.0 931.0L465.0 931.0L475.0 937.9ZM54.2 931.0L156.9 931.0L54.2 790.0ZM156.9 931.0L156.9 790.0L54.2 790.0ZM156.9 931.0L259.6 931.0L156.9 790.0ZM259.6 931.0L259.6 790.0L156.9 790.0ZM259.6 931.0L362.3 931.0L259.6 790.0ZM362.3 931.0L362.3 790.0L259.6 790.0ZM362.3 931.0L465.0 931.0L465.0 790.0ZM362.3 931.0L465.0 790.0L362.3 790.0ZM465.0 931.0L496.0 931.0L487.7 821.1L465.0 790.0ZM567.7 843.5L567.7 790.0L465.0 790.0L487.7 821.1ZM54.2 790.0L156.9 790.0L54.2 613.7ZM156.9 790.0L156.9 613.7L54.2 613.7ZM156.9 790.0L259.6 790.0L156.9 613.7ZM259.6 790.0L259.6 613.7L156.9 613.7ZM259.6 790.0L362.3 790.0L259.6 613.7ZM362.3 790.0L362.3 613.7L259.6 613.7ZM362.3 790.0L465.0 790.0L362.3 613.7ZM465.0 790.0L465.0 613.7L362.3 613.7ZM465.0 790.0L567.7 790.0L465.0 613.7ZM567.7 790.0L567.7 613.7L465.0 613.7Z"/>
<path fill="#77ff00" stroke="#77ff00" stroke-width="0.4" d="M156.0 1000.9L54.2 931.0L54.2 995.1ZM156.9 1001.0L156.9 931.0L54.2 931.0L156.0 1000.9ZM244.7 991.3L156.9 931.0L156.9 1001.0ZM259.6 988.2L259.6 931.0L156.9 931.0L244.7 991.3ZM336.7 983.9L259.6 931.0L259.6 988.2ZM362.3 973.9L362.3 931.0L259.6 931.0L336.7 983.9ZM400.4 957.1L362.3 931.0L362.3 973.9ZM465.0 935.0L465.0 931.0L362.3 931.0L400.4 957.1ZM469.0 933.8L465.0 931.0L465.0 935.0ZM477.6 931.0L465.0 931.0L469.0 933.8ZM54.2 931.0L156.9 931.0L54.2 790.0ZM156.9 931.0L156.9 790.0L54.2 790.0ZM156.9 931.0L259.6 931.0L156.9 790.0ZM259.6 931.0L259.6 790.0L156.9 790.0ZM259.6 931.0L362.3 931.0L259.6 790.0ZM362.3 931.0L362.3 790.0L259.6 790.0ZM362.3 931.0L465.0 931.0L465.0 790.0ZM362.3 931.0L465.0 790.0L362.3 790.0ZM465.0 931.0L477.6 931.0L467.1 792.8L465.0 790.0ZM567.7 821.0L567.7 790.0L465.0 790.0L467.1 792.8ZM54.2 790.0L156.9 790.0L54.2 613.7ZM156.9 790.0L156.9 613.7L54.2 613.7ZM156.9 790.0L259.6 790.0L156.9 613.7ZM259.6 790.0L259.6 613.7L156.9 613.7ZM259.6 790.0L362.3 790.0L259.6 613.7ZM362.3 790.0L362.3 613.7L259.6 613.7ZM362.3 790.0L465.0 790.0L362.3 613.7ZM465.0 790.0L465.0 613.7L362.3 613.7ZM465.0 790.0L567.7 790.0L465.0 613.7ZM567.7 790.0L567.7 613.7L465.0 613.7Z"/>
<path fill="#8dff00" stroke="#8dff00" stroke-width="0.4" d="M149.4 996.3L54.2 931.0L54.2 990.9ZM156.9 997.1L156.9 931.0L54.2 931.0L149.4 996.3ZM239.8 987.9L156.9 931.0L156.9 997.1ZM259.6 983.7L259.6 931.0L156.9 931.0L239.8 987.9ZM330.8 979.9L259.6 931.0L259.6 983.7ZM362.3 967.5L362.3 931.0L259.6 931.0L330.8 979.9ZM394.7 953.3L362.3 931.0L362.3 967.5ZM459.6 931.0L362.3 931.0L394.7 953.3ZM54.2 931.0L156.9 931.0L54.2 790.0ZM156.9 931.0L156.9 790.0L54.2 790.0ZM156.9 931.0L259.6 931.0L156.9 790.0ZM259.6 931.0L259.6 790.0L156.9 790.0ZM259.6 931.0L362.3 931.0L259.6 790.0ZM362.3 931.0L362.3 790.0L259.6 790.0ZM362.3 931.0L459.6 931.0L451.0 809.1ZM362.3 931.0L451.0 809.1L455.2 790.0L362.3 790.0ZM567.7 798.5L567.7 790.0L537.4 790.0ZM54.2 790.0L156.9 790.0L54.2 613.7ZM156.9 790.0L156.9 613.7L54.2 613.7ZM156.9 790.0L259.6 790.0L156.9 613.7ZM259.6 790.0L259.6 613.7L156.9 613.7ZM259.6 790.0L362.3 790.0L259.6 613.7ZM362.3 790.0L362.3 613.7L259.6 613.7ZM362.3 790.0L455.2 790.0L455.7 774.1L362.3 613.7ZM456.8 613.7L362.3 613.7L455.7 774.1ZM537.4 790.0L567.7 790.0L534.3 732.7ZM567.7 790.0L567.7 613.7L503.5 613.7L534.3 732.7Z"/>
<path fill="#a3ff00" stroke="#a3ff00" stroke-width="0.4" d="M142.7 991.8L54.2 931.0L54.2 986.7ZM156.9 993.1L156.9 931.0L54.2 931.0L142.7 991.8ZM234.9 984.5L156.9 931.0L156.9 993.1ZM259.6 979.3L259.6 931.0L156.9 931.0L234.9 984.5ZM324.8 975.8L259.6 931.0L259.6 979.3ZM362.3 961.1L362.3 931.0L259.6 931.0L324.8 975.8ZM389.0 949.4L362.3 931.0L362.3 961.1ZM442.5 931.0L362.3 931.0L389.0 949.4ZM54.2 931.0L156.9 931.0L54.2 790.0ZM156.9 931.0L156.9 790.0L54.2 790.0ZM156.9 931.0L259.6 931.0L156.9 790.0ZM259.6 931.0L259.6 790.0L156.9 790.0ZM259.6 931.0L362.3 931.0L259.6 790.0ZM362.3 931.0L362.3 790.0L259.6 790.0ZM362.3 931.0L442.5 931.0L435.5 830.5ZM362.3 931.0L435.5 830.5L444.2 790.0L362.3 790.0ZM54.2 790.0L156.9 790.0L54.2 613.7ZM156.9 790.0L156.9 613.7L54.2 613.7ZM156.9 790.0L259.6 790.0L156.9 613.7ZM259.6 790.0L259.6 613.7L156.9 613.7ZM259.6 790.0L362.3 790.0L259.6 613.7ZM362.3 790.0L362.3 613.7L259.6 613.7ZM362.3 790.0L444.2 790.0L445.4 756.4L362.3 613.7ZM446.4 613.7L362.3 613.7L445.4 756.4ZM567.7 671.5L567.7 613.7L552.7 613.7Z"/>
<path fill="#b8ff00" stroke="#b8ff00" stroke-width="0.4" d="M136.1 987.2L54.2 931.0L54.2 982.5ZM156.9 989.2L156.9 931.0L54.2 931.0L136.1 987.2ZM229.9 981.1L156.9 931.0L156.9 989.2ZM259.6 974.9L259.6 931.0L156.9 931.0L229.9 981.1ZM318.9 971.7L259.6 931.0L259.6 974.9ZM362.3 954.7L362.3 931.0L259.6 931.0L318.9 971.7ZM383.4 945.5L362.3 931.0L362.3 954.7ZM425.5 931.0L362.3 931.0L383.4 945.5ZM54.2 931.0L156.9 931.0L54.2 790.0ZM156.9 931.0L156.9 790.0L54.2 790.0ZM156.9 931.0L259.6 931.0L156.9 790.0ZM259.6 931.0L259.6 790.0L156.9 790.0ZM259.6 931.0L362.3 931.0L259.6 790.0ZM362.3 931.0L362.3 790.0L259.6 790.0ZM362.3 931.0L425.5 931.0L420.0 851.8ZM362.3 931.0L420.0 851.8L433.3 790.0L362.3 790.0ZM54.2 790.0L156.9 790.0L54.2 613.7ZM156.9 790.0L156.9 613.7L54.2 613.7ZM156.9 790.0L259.6 790.0L156.9 613.7ZM259.6 790.0L259.6 613.7L156.9 613.7ZM259.6 790.0L362.3 790.0L259.6 613.7ZM362.3 790.0L362.3 613.7L259.6 613.7ZM362.3 790.0L433.3 790.0L435.1 738.7L362.3 613.7ZM436.0 613.7L362.3 613.7L435.1 738.7Z"/>
<path fill="#ceff00" stroke="#ceff00" stroke-width="0.4" d="M129.4 982.6L54.2 931.0L54.2 978.3ZM156.9 985.3L156.9 931.0L54.2 931.0L129.4 982.6ZM225.0 977.8L156.9 931.0L156.9 985.3ZM259.6 970.5L259.6 931.0L156.9 931.0L225.0 977.8ZM312.9 967.6L259.6 931.0L259.6 970.5ZM362.3 948.3L362.3 931.0L259.6 931.0L312.9 967.6ZM377.7 941.6L362.3 931.0L362.3 948.3ZM408.5 931.0L362.3 931.0L377.7 941.6ZM54.2 931.0L156.9 931.0L54.2 790.0ZM156.9 931.0L156.9 790.0L54.2 790.0ZM156.9 931.0L259.6 931.0L156.9 790.0ZM259.6 931.0L259.6 790.0L156.9 790.0ZM259.6 931.0L362.3 931.0L259.6 790.0ZM362.3 931.0L362.3 790.0L259.6 790.0ZM362.3 931.0L408.5 931.0L404.4 873.2ZM362.3 931.0L404.4 873.2L422.4 790.0L362.3 790.0ZM54.2 790.0L156.9 790.0L54.2 613.7ZM156.9 790.0L156.9 613.7L54.2 613.7ZM156.9 790.0L259.6 790.0L156.9 613.7ZM259.6 790.0L259.6 613.7L156.9 613.7ZM259.6 790.0L362.3 790.0L259.6 613.7ZM362.3 790.0L362.3 613.7L259.6 613.7ZM362.3 790.0L422.4 790.0L424.8 721.1L362.3 613.7ZM425.6 613.7L362.3 613.7L424.8 721.1Z"/>
<path fill="#e4ff00" stroke="#e4ff00" stroke-width="0.4" d="M122.7 978.0L54.2 931.0L54.2 974.1ZM156.9 981.4L156.9 931.0L54.2 931.0L122.7 978.0ZM220.1 974.4L156.9 931.0L156.9 981.4ZM259.6 966.1L259.6 931.0L156.9 931.0L220.1 974.4ZM307.0 963.5L259.6 931.0L259.6 966.1ZM362.3 941.9L362.3 931.0L259.6 931.0L307.0 963.5ZM372.0 937.7L362.3 931.0L362.3 941.9ZM391.4 931.0L362.3 931.0L372.0 937.7ZM54.2 931.0L156.9 931.0L54.2 790.0ZM156.9 931.0L156.9 790.0L54.2 790.0ZM156.9 931.0L259.6 931.0L156.9 790.0ZM259.6 931.0L259.6 790.0L156.9 790.0ZM259.6 931.0L362.3 931.0L259.6 790.0ZM362.3 931.0L362.3 790.0L259.6 790.0ZM362.3 931.0L391.4 931.0L388.9 894.5ZM362.3 931.0L388.9 894.5L411.4 790.0L362.3 790.0ZM54.2 790.0L156.9 790.0L54.2 613.7ZM156.9 790.0L156.9 613.7L54.2 613.7ZM156.9 790.0L259.6 790.0L156.9 613.7ZM259.6 790.0L259.6 613.7L156.9 613.7ZM259.6 790.0L362.3 790.0L259.6 613.7ZM362.3 790.0L362.3 613.7L259.6 613.7ZM362.3 790.0L411.4 790.0L414.5 703.4L362.3 613.7ZM415.2 613.7L362.3 613.7L414.5 703.4Z"/>
<path fill="#faff00" stroke="#faff00" stroke-width="0.4" d="M116.1 973.5L54.2 931.0L54.2 970.0ZM156.9 977.4L156.9 931.0L54.2 931.0L116.1 973.5ZM215.2 971.0L156.9 931.0L156.9 977.4ZM259.6 961.7L259.6 931.0L156.9 931.0L215.2 971.0ZM301.0 959.4L259.6 931.0L259.6 961.7ZM362.3 935.5L362.3 931.0L259.6 931.0L301.0 959.4ZM366.3 933.8L362.3 931.0L362.3 935.5ZM374.4 931.0L362.3 931.0L366.3 933.8ZM54.2 931.0L156.9 931.0L54.2 790.0ZM156.9 931.0L156.9 790.0L54.2 790.0ZM156.9 931.0L259.6 931.0L156.9 790.0ZM259.6 931.0L259.6 790.0L156.9 790.0ZM259.6 931.0L362.3 931.0L259.6 790.0ZM362.3 931.0L362.3 790.0L259.6 790.0ZM362.3 931.0L374.4 931.0L373.3 915.8ZM362.3 931.0L373.3 915.8L400.5 790.0L362.3 790.0ZM54.2 790.0L156.9 790.0L54.2 613.7ZM156.9 790.0L156.9 613.7L54.2 613.7ZM156.9 790.0L259.6 790.0L156.9 613.7ZM259.6 790.0L259.6 613.7L156.9 613.7ZM259.6 790.0L362.3 790.0L259.6 613.7ZM362.3 790.0L362.3 613.7L259.6 613.7ZM362.3 790.0L400.5 790.0L404.2 685.7L362.3 613.7ZM404.7 613.7L362.3 613.7L404.2 685.7Z"/>
<path fill="#ffef00" stroke="#ffef00" stroke-width="0.4" d="M109.4 968.9L54.2 931.0L54.2 965.8ZM156.9 973.5L156.9 931.0L54.2 931.0L109.4 968.9ZM210.2 967.6L156.9 931.0L156.9 973.5ZM259.6 957.3L259.6 931.0L156.9 931.0L210.2 967.6ZM295.1 955.4L259.6 931.0L259.6 957.3ZM357.5 931.0L259.6 931.0L295.1 955.4ZM54.2 931.0L156.9 931.0L54.2 790.0ZM156.9 931.0L156.9 790.0L54.2 790.0ZM156.9 931.0L259.6 931.0L156.9 790.0ZM259.6 931.0L259.6 790.0L156.9 790.0ZM259.6 931.0L357.5 931.0L358.0 925.1L259.6 790.0ZM362.3 916.3L362.3 790.0L259.6 790.0L358.0 925.1ZM389.6 790.0L362.3 790.0L362.3 916.3ZM54.2 790.0L156.9 790.0L54.2 613.7ZM156.9 790.0L156.9 613.7L54.2 613.7ZM156.9 790.0L259.6 790.0L156.9 613.7ZM259.6 790.0L259.6 613.7L156.9 613.7ZM259.6 790.0L362.3 790.0L259.6 613.7ZM362.3 790.0L362.3 613.7L259.6 613.7ZM362.3 790.0L389.6 790.0L393.9 668.0L362.3 613.7ZM394.3 613.7L362.3 613.7L393.9 668.0Z"/>
<path fill="#ffd900" stroke="#ffd900" stroke-width="0.4" d="M102.8 964.3L54.2 931.0L54.2 961.6ZM156.9 969.6L156.9 931.0L54.2 931.0L102.8 964.3ZM205.3 964.2L156.9 931.0L156.9 969.6ZM259.6 952.9L259.6 931.0L156.9 931.0L205.3 964.2ZM289.2 951.3L259.6 931.0L259.6 952.9ZM341.1 931.0L259.6 931.0L289.2 951.3ZM54.2 931.0L156.9 931.0L54.2 790.0ZM156.9 931.0L156.9 790.0L54.2 790.0ZM156.9 931.0L259.6 931.0L156.9 790.0ZM259.6 931.0L259.6 790.0L156.9 790.0ZM259.6 931.0L341.1 931.0L343.1 904.6L259.6 790.0ZM362.3 865.6L362.3 790.0L259.6 790.0L343.1 904.6ZM378.6 790.0L362.3 790.0L362.3 865.6ZM54.2 790.0L156.9 790.0L54.2 613.7ZM156.9 790.0L156.9 613.7L54.2 613.7ZM156.9 790.0L259.6 790.0L156.9 613.7ZM259.6 790.0L259.6 613.7L156.9 613.7ZM259.6 790.0L362.3 790.0L259.6 613.7ZM362.3 790.0L362.3 613.7L259.6 613.7ZM362.3 790.0L378.6 790.0L383.6 650.3L362.3 613.7ZM383.9 613.7L362.3 613.7L383.6 650.3Z"/>
<path fill="#ffc300" stroke="#ffc300" stroke-width="0.4" d="M96.1 959.8L54.2 931.0L54.2 957.4ZM156.9 965.7L156.9 931.0L54.2 931.0L96.1 959.8ZM200.4 960.9L156.9 931.0L156.9 965.7ZM259.6 948.5L259.6 931.0L156.9 931.0L200.4 960.9ZM283.2 947.2L259.6 931.0L259.6 948.5ZM324.7 931.0L259.6 931.0L283.2 947.2ZM54.2 931.0L156.9 931.0L54.2 790.0ZM156.9 931.0L156.9 790.0L54.2 790.0ZM156.9 931.0L259.6 931.0L156.9 790.0ZM259.6 931.0L259.6 790.0L156.9 790.0ZM259.6 931.0L324.7 931.0L328.2 884.2L259.6 790.0ZM362.3 814.9L362.3 790.0L259.6 790.0L328.2 884.2ZM367.7 790.0L362.3 790.0L362.3 814.9ZM54.2 790.0L156.9 790.0L54.2 613.7ZM156.9 790.0L156.9 613.7L54.2 613.7ZM156.9 790.0L259.6 790.0L156.9 613.7ZM259.6 790.0L259.6 613.7L156.9 613.7ZM259.6 790.0L362.3 790.0L259.6 613.7ZM362.3 790.0L362.3 613.7L259.6 613.7ZM362.3 790.0L367.7 790.0L373.3 632.7L362.3 613.7ZM373.5 613.7L362.3 613.7L373.3 632.7Z"/>
<path fill="#ffae00" stroke="#ffae00" stroke-width="0.4" d="M89.4 955.2L54.2 931.0L54.2 953.2ZM156.9 961.8L156.9 931.0L54.2 931.0L89.4 955.2ZM195.5 957.5L156.9 931.0L156.9 961.8ZM259.6 944.1L259.6 931.0L156.9 931.0L195.5 957.5ZM277.3 943.1L259.6 931.0L259.6 944.1ZM308.3 931.0L259.6 931.0L277.3 943.1ZM54.2 931.0L156.9 931.0L54.2 790.0ZM156.9 931.0L156.9 790.0L54.2 790.0ZM156.9 931.0L259.6 931.0L156.9 790.0ZM259.6 931.0L259.6 790.0L156.9 790.0ZM259.6 931.0L308.3 931.0L313.3 863.7L259.6 790.0ZM349.6 790.0L259.6 790.0L313.3 863.7ZM54.2 790.0L156.9 790.0L54.2 613.7ZM156.9 790.0L156.9 613.7L54.2 613.7ZM156.9 790.0L259.6 790.0L156.9 613.7ZM259.6 790.0L259.6 613.7L156.9 613.7ZM259.6 790.0L349.6 790.0L350.4 769.5L259.6 613.7ZM362.3 635.7L362.3 613.7L259.6 613.7L350.4 769.5ZM363.0 615.0L362.3 613.7L362.3 635.7ZM363.1 613.7L362.3 613.7L363.0 615.0Z"/>
<path fill="#ff9800" stroke="#ff9800" stroke-width="0.4" d="M82.8 950.6L54.2 931.0L54.2 949.0ZM156.9 957.8L156.9 931.0L54.2 931.0L82.8 950.6ZM190.6 954.1L156.9 931.0L156.9 957.8ZM259.6 939.7L259.6 931.0L156.9 931.0L190.6 954.1ZM271.3 939.0L259.6 931.0L259.6 939.7ZM291.9 931.0L259.6 931.0L271.3 939.0ZM54.2 931.0L156.9 931.0L54.2 790.0ZM156.9 931.0L156.9 790.0L54.2 790.0ZM156.9 931.0L259.6 931.0L156.9 790.0ZM259.6 931.0L259.6 790.0L156.9 790.0ZM259.6 931.0L291.9 931.0L298.4 843.3L259.6 790.0ZM324.7 790.0L259.6 790.0L298.4 843.3ZM54.2 790.0L156.9 790.0L54.2 613.7ZM156.9 790.0L156.9 613.7L54.2 613.7ZM156.9 790.0L259.6 790.0L156.9 613.7ZM259.6 790.0L259.6 613.7L156.9 613.7ZM259.6 790.0L324.7 790.0L326.8 729.0L259.6 613.7ZM337.1 613.7L259.6 613.7L326.8 729.0Z"/>
<path fill="#ff8200" stroke="#ff8200" stroke-width="0.4" d="M76.1 946.0L54.2 931.0L54.2 944.8ZM156.9 953.9L156.9 931.0L54.2 931.0L76.1 946.0ZM185.6 950.7L156.9 931.0L156.9 953.9ZM259.6 935.3L259.6 931.0L156.9 931.0L185.6 950.7ZM265.4 935.0L259.6 931.0L259.6 935.3ZM275.5 931.0L259.6 931.0L265.4 935.0ZM54.2 931.0L156.9 931.0L54.2 790.0ZM156.9 931.0L156.9 790.0L54.2 790.0ZM156.9 931.0L259.6 931.0L156.9 790.0ZM259.6 931.0L259.6 790.0L156.9 790.0ZM259.6 931.0L275.5 931.0L283.5 822.9L259.6 790.0ZM299.7 790.0L259.6 790.0L283.5 822.9ZM54.2 790.0L156.9 790.0L54.2 613.7ZM156.9 790.0L156.9 613.7L54.2 613.7ZM156.9 790.0L259.6 790.0L156.9 613.7ZM259.6 790.0L259.6 613.7L156.9 613.7ZM259.6 790.0L299.7 790.0L303.2 688.6L259.6 613.7ZM309.9 613.7L259.6 613.7L303.2 688.6Z"/>
<path fill="#ff6d00" stroke="#ff6d00" stroke-width="0.4" d="M69.5 941.5L54.2 931.0L54.2 940.6ZM156.9 950.0L156.9 931.0L54.2 931.0L69.5 941.5ZM180.7 947.3L156.9 931.0L156.9 950.0ZM259.0 931.0L156.9 931.0L180.7 947.3ZM54.2 931.0L156.9 931.0L54.2 790.0ZM156.9 931.0L156.9 790.0L54.2 790.0ZM156.9 931.0L259.0 931.0L259.1 930.3L156.9 790.0ZM259.6 924.6L259.6 790.0L156.9 790.0L259.1 930.3ZM268.7 802.4L259.6 790.0L259.6 924.6ZM274.8 790.0L259.6 790.0L268.7 802.4ZM54.2 790.0L156.9 790.0L54.2 613.7ZM156.9 790.0L156.9 613.7L54.2 613.7ZM156.9 790.0L259.6 790.0L156.9 613.7ZM259.6 790.0L259.6 613.7L156.9 613.7ZM259.6 790.0L274.8 790.0L279.7 648.2L259.6 613.7ZM282.8 613.7L259.6 613.7L279.7 648.2Z"/>
<path fill="#ff5700" stroke="#ff5700" stroke-width="0.4" d="M62.8 936.9L54.2 931.0L54.2 936.4ZM156.9 946.1L156.9 931.0L54.2 931.0L62.8 936.9ZM175.8 944.0L156.9 931.0L156.9 946.1ZM237.9 931.0L156.9 931.0L175.8 944.0ZM54.2 931.0L156.9 931.0L54.2 790.0ZM156.9 931.0L156.9 790.0L54.2 790.0ZM156.9 931.0L237.9 931.0L240.8 905.2L156.9 790.0ZM251.5 790.0L156.9 790.0L240.8 905.2ZM54.2 790.0L156.9 790.0L54.2 613.7ZM156.9 790.0L156.9 613.7L54.2 613.7ZM156.9 790.0L251.5 790.0L252.1 777.0L156.9 613.7ZM256.6 613.7L156.9 613.7L252.1 777.0Z"/>
<path fill="#ff4100" stroke="#ff4100" stroke-width="0.4" d="M56.1 932.3L54.2 931.0L54.2 932.2ZM156.9 942.1L156.9 931.0L54.2 931.0L56.1 932.3ZM170.9 940.6L156.9 931.0L156.9 942.1ZM216.8 931.0L156.9 931.0L170.9 940.6ZM54.2 931.0L156.9 931.0L54.2 790.0ZM156.9 931.0L156.9 790.0L54.2 790.0ZM156.9 931.0L216.8 931.0L222.5 880.1L156.9 790.0ZM230.9 790.0L156.9 790.0L222.5 880.1ZM54.2 790.0L156.9 790.0L54.2 613.7ZM156.9 790.0L156.9 613.7L54.2 613.7ZM156.9 790.0L230.9 790.0L232.8 744.0L156.9 613.7ZM236.4 613.7L156.9 613.7L232.8 744.0Z"/>
<path fill="#ff2b00" stroke="#ff2b00" stroke-width="0.4" d="M156.9 938.2L156.9 931.0L82.8 931.0ZM166.0 937.2L156.9 931.0L156.9 938.2ZM195.7 931.0L156.9 931.0L166.0 937.2ZM82.8 931.0L156.9 931.0L71.1 813.2ZM156.9 931.0L156.9 790.0L66.8 790.0L71.1 813.2ZM156.9 931.0L195.7 931.0L204.3 855.0L156.9 790.0ZM210.3 790.0L156.9 790.0L204.3 855.0ZM66.8 790.0L156.9 790.0L54.2 613.7L54.2 667.6ZM156.9 790.0L156.9 613.7L54.2 613.7ZM156.9 790.0L210.3 790.0L213.6 710.9L156.9 613.7ZM216.3 613.7L156.9 613.7L213.6 710.9Z"/>
<path fill="#ff1600" stroke="#ff1600" stroke-width="0.4" d="M156.9 934.3L156.9 931.0L123.1 931.0ZM161.0 933.8L156.9 931.0L156.9 934.3ZM174.6 931.0L156.9 931.0L161.0 933.8ZM123.1 931.0L156.9 931.0L117.7 877.2ZM156.9 931.0L156.9 790.0L101.5 790.0L117.7 877.2ZM156.9 931.0L174.6 931.0L186.0 830.0L156.9 790.0ZM189.7 790.0L156.9 790.0L186.0 830.0ZM101.5 790.0L156.9 790.0L89.7 674.6ZM156.9 790.0L156.9 613.7L85.2 613.7L89.7 674.6ZM156.9 790.0L189.7 790.0L194.3 677.9L156.9 613.7ZM196.1 613.7L156.9 613.7L194.3 677.9Z"/>
<path fill="#ff0000" stroke="#ff0000" stroke-width="0.4" d="M156.9 901.2L156.9 790.0L136.3 790.0ZM167.8 804.9L156.9 790.0L156.9 901.2ZM169.1 790.0L156.9 790.0L167.8 804.9ZM136.3 790.0L156.9 790.0L131.8 747.0ZM156.9 790.0L156.9 613.7L122.1 613.7L131.8 747.0ZM156.9 790.0L169.1 790.0L175.0 644.8L156.9 613.7ZM175.9 613.7L156.9 613.7L175.0 644.8Z"/>
<path d="M54.2 613.7H567.7V1056.9" fill="none" stroke="#000" stroke-width="1.6"/>
<path d="M54.2 612.9V1056.9H568.5" fill="none" stroke="#000" stroke-width="1.6"/>
<path d="M50.0 1046.8H54.2" stroke="#000" stroke-width="1.5"/>
<path d="M46.4 1021.6H54.2" stroke="#000" stroke-width="1.5"/>
<text transform="translate(41.6 1026.95) scale(1 1.07)" text-anchor="end" class="tk">10</text>
<path d="M50.0 996.5H54.2" stroke="#000" stroke-width="1.5"/>
<path d="M46.4 971.3H54.2" stroke="#000" stroke-width="1.5"/>
<text transform="translate(41.6 976.58) scale(1 1.07)" text-anchor="end" class="tk">20</text>
<path d="M50.0 946.1H54.2" stroke="#000" stroke-width="1.5"/>
<path d="M46.4 920.9H54.2" stroke="#000" stroke-width="1.5"/>
<text transform="translate(41.6 926.22) scale(1 1.07)" text-anchor="end" class="tk">30</text>
<path d="M50.0 895.7H54.2" stroke="#000" stroke-width="1.5"/>
<path d="M46.4 870.6H54.2" stroke="#000" stroke-width="1.5"/>
<text transform="translate(41.6 875.85) scale(1 1.07)" text-anchor="end" class="tk">40</text>
<path d="M50.0 845.4H54.2" stroke="#000" stroke-width="1.5"/>
<path d="M46.4 820.2H54.2" stroke="#000" stroke-width="1.5"/>
<text transform="translate(41.6 825.49) scale(1 1.07)" text-anchor="end" class="tk">50</text>
<path d="M50.0 795.0H54.2" stroke="#000" stroke-width="1.5"/>
<path d="M46.4 769.8H54.2" stroke="#000" stroke-width="1.5"/>
<text transform="translate(41.6 775.13) scale(1 1.07)" text-anchor="end" class="tk">60</text>
<path d="M50.0 744.6H54.2" stroke="#000" stroke-width="1.5"/>
<path d="M46.4 719.5H54.2" stroke="#000" stroke-width="1.5"/>
<text transform="translate(41.6 724.76) scale(1 1.07)" text-anchor="end" class="tk">70</text>
<path d="M50.0 694.3H54.2" stroke="#000" stroke-width="1.5"/>
<path d="M46.4 669.1H54.2" stroke="#000" stroke-width="1.5"/>
<text transform="translate(41.6 674.40) scale(1 1.07)" text-anchor="end" class="tk">80</text>
<path d="M50.0 643.9H54.2" stroke="#000" stroke-width="1.5"/>
<path d="M46.4 618.7H54.2" stroke="#000" stroke-width="1.5"/>
<text transform="translate(41.6 624.04) scale(1 1.07)" text-anchor="end" class="tk">90</text>
<path d="M54.2 1056.9V1064.3" stroke="#000" stroke-width="1.5"/>
<text transform="translate(54.2 1083.10) scale(1 1.07)" text-anchor="middle" class="tk">0</text>
<path d="M105.6 1056.9V1060.9" stroke="#000" stroke-width="1.5"/>
<path d="M156.9 1056.9V1064.3" stroke="#000" stroke-width="1.5"/>
<text transform="translate(156.9 1083.10) scale(1 1.07)" text-anchor="middle" class="tk">10</text>
<path d="M208.2 1056.9V1060.9" stroke="#000" stroke-width="1.5"/>
<path d="M259.6 1056.9V1064.3" stroke="#000" stroke-width="1.5"/>
<text transform="translate(259.6 1083.10) scale(1 1.07)" text-anchor="middle" class="tk">20</text>
<path d="M310.9 1056.9V1060.9" stroke="#000" stroke-width="1.5"/>
<path d="M362.3 1056.9V1064.3" stroke="#000" stroke-width="1.5"/>
<text transform="translate(362.3 1083.10) scale(1 1.07)" text-anchor="middle" class="tk">30</text>
<path d="M413.6 1056.9V1060.9" stroke="#000" stroke-width="1.5"/>
<path d="M465.0 1056.9V1064.3" stroke="#000" stroke-width="1.5"/>
<text transform="translate(465.0 1083.10) scale(1 1.07)" text-anchor="middle" class="tk">40</text>
<path d="M516.4 1056.9V1060.9" stroke="#000" stroke-width="1.5"/>
<path d="M567.7 1056.9V1064.3" stroke="#000" stroke-width="1.5"/>
<text transform="translate(567.7 1083.10) scale(1 1.07)" text-anchor="middle" class="tk">50</text>
<text x="311.5" y="1115.1" text-anchor="middle" class="ti">WFS (%)</text>
<text x="346.2" y="1149.1" text-anchor="middle" class="cap">(b)</text>
<text transform="translate(15.2 835.1) rotate(-90)" text-anchor="middle" class="ti">Age (Day)</text>
<rect x="604.1" y="615.2" width="32.8" height="8.9" fill="#808080"/>
<rect x="604.1" y="1049.8" width="32.8" height="8.9" fill="#000"/>
<rect x="604.1" y="624.10" width="32.8" height="425.70" fill="#ff0000"/>
<rect x="604.1" y="632.97" width="32.8" height="416.83" fill="#ff1600"/>
<rect x="604.1" y="641.84" width="32.8" height="407.96" fill="#ff2b00"/>
<rect x="604.1" y="650.71" width="32.8" height="399.09" fill="#ff4100"/>
<rect x="604.1" y="659.58" width="32.8" height="390.22" fill="#ff5700"/>
<rect x="604.1" y="668.44" width="32.8" height="381.36" fill="#ff6d00"/>
<rect x="604.1" y="677.31" width="32.8" height="372.49" fill="#ff8200"/>
<rect x="604.1" y="686.18" width="32.8" height="363.62" fill="#ff9800"/>
<rect x="604.1" y="695.05" width="32.8" height="354.75" fill="#ffae00"/>
<rect x="604.1" y="703.92" width="32.8" height="345.88" fill="#ffc300"/>
<rect x="604.1" y="712.79" width="32.8" height="337.01" fill="#ffd900"/>
<rect x="604.1" y="721.66" width="32.8" height="328.14" fill="#ffef00"/>
<rect x="604.1" y="730.52" width="32.8" height="319.27" fill="#faff00"/>
<rect x="604.1" y="739.39" width="32.8" height="310.41" fill="#e4ff00"/>
<rect x="604.1" y="748.26" width="32.8" height="301.54" fill="#ceff00"/>
<rect x="604.1" y="757.13" width="32.8" height="292.67" fill="#b8ff00"/>
<rect x="604.1" y="766.00" width="32.8" height="283.80" fill="#a3ff00"/>
<rect x="604.1" y="774.87" width="32.8" height="274.93" fill="#8dff00"/>
<rect x="604.1" y="783.74" width="32.8" height="266.06" fill="#77ff00"/>
<rect x="604.1" y="792.61" width="32.8" height="257.19" fill="#62ff00"/>
<rect x="604.1" y="801.48" width="32.8" height="248.32" fill="#4cff00"/>
<rect x="604.1" y="810.34" width="32.8" height="239.46" fill="#36ff00"/>
<rect x="604.1" y="819.21" width="32.8" height="230.59" fill="#21ff00"/>
<rect x="604.1" y="828.08" width="32.8" height="221.72" fill="#0bff00"/>
<rect x="604.1" y="836.95" width="32.8" height="212.85" fill="#00ff0b"/>
<rect x="604.1" y="845.82" width="32.8" height="203.98" fill="#00ff21"/>
<rect x="604.1" y="854.69" width="32.8" height="195.11" fill="#00ff36"/>
<rect x="604.1" y="863.56" width="32.8" height="186.24" fill="#00ff4c"/>
<rect x="604.1" y="872.42" width="32.8" height="177.38" fill="#00ff62"/>
<rect x="604.1" y="881.29" width="32.8" height="168.51" fill="#00ff77"/>
<rect x="604.1" y="890.16" width="32.8" height="159.64" fill="#00ff8d"/>
<rect x="604.1" y="899.03" width="32.8" height="150.77" fill="#00ffa3"/>
<rect x="604.1" y="907.90" width="32.8" height="141.90" fill="#00ffb8"/>
<rect x="604.1" y="916.77" width="32.8" height="133.03" fill="#00ffce"/>
<rect x="604.1" y="925.64" width="32.8" height="124.16" fill="#00ffe4"/>
<rect x="604.1" y="934.51" width="32.8" height="115.29" fill="#00fffa"/>
<rect x="604.1" y="943.38" width="32.8" height="106.42" fill="#00efff"/>
<rect x="604.1" y="952.24" width="32.8" height="97.56" fill="#00d9ff"/>
<rect x="604.1" y="961.11" width="32.8" height="88.69" fill="#00c3ff"/>
<rect x="604.1" y="969.98" width="32.8" height="79.82" fill="#00aeff"/>
<rect x="604.1" y="978.85" width="32.8" height="70.95" fill="#0098ff"/>
<rect x="604.1" y="987.72" width="32.8" height="62.08" fill="#0082ff"/>
<rect x="604.1" y="996.59" width="32.8" height="53.21" fill="#006dff"/>
<rect x="604.1" y="1005.46" width="32.8" height="44.34" fill="#0057ff"/>
<rect x="604.1" y="1014.32" width="32.8" height="35.48" fill="#0041ff"/>
<rect x="604.1" y="1023.19" width="32.8" height="26.61" fill="#002bff"/>
<rect x="604.1" y="1032.06" width="32.8" height="17.74" fill="#0016ff"/>
<rect x="604.1" y="1040.93" width="32.8" height="8.87" fill="#0000ff"/>
<rect x="604.1" y="615.2" width="32.8" height="443.4" fill="none" stroke="#3a3a3a" stroke-width="1"/>
<path d="M636.9 624.1H644.4" stroke="#222" stroke-width="1.3"/>
<text transform="translate(650.3 629.70) scale(1 1.07)" class="cb">51.20</text>
<path d="M636.9 677.3H644.4" stroke="#222" stroke-width="1.3"/>
<text transform="translate(650.3 682.91) scale(1 1.07)" class="cb">46.03</text>
<path d="M636.9 730.5H644.4" stroke="#222" stroke-width="1.3"/>
<text transform="translate(650.3 736.12) scale(1 1.07)" class="cb">40.85</text>
<path d="M636.9 783.7H644.4" stroke="#222" stroke-width="1.3"/>
<text transform="translate(650.3 789.34) scale(1 1.07)" class="cb">35.68</text>
<path d="M636.9 837.0H644.4" stroke="#222" stroke-width="1.3"/>
<text transform="translate(650.3 842.55) scale(1 1.07)" class="cb">30.50</text>
<path d="M636.9 890.2H644.4" stroke="#222" stroke-width="1.3"/>
<text transform="translate(650.3 895.76) scale(1 1.07)" class="cb">25.33</text>
<path d="M636.9 943.4H644.4" stroke="#222" stroke-width="1.3"/>
<text transform="translate(650.3 948.98) scale(1 1.07)" class="cb">20.15</text>
<path d="M636.9 996.6H644.4" stroke="#222" stroke-width="1.3"/>
<text transform="translate(650.3 1002.19) scale(1 1.07)" class="cb">14.98</text>
<path d="M636.9 1049.8H644.4" stroke="#222" stroke-width="1.3"/>
<text transform="translate(650.3 1055.40) scale(1 1.07)" class="cb">9.800</text>
<text x="581.9" y="601.8" class="ti">Fc (MPa)</text>
</svg></body></html>
